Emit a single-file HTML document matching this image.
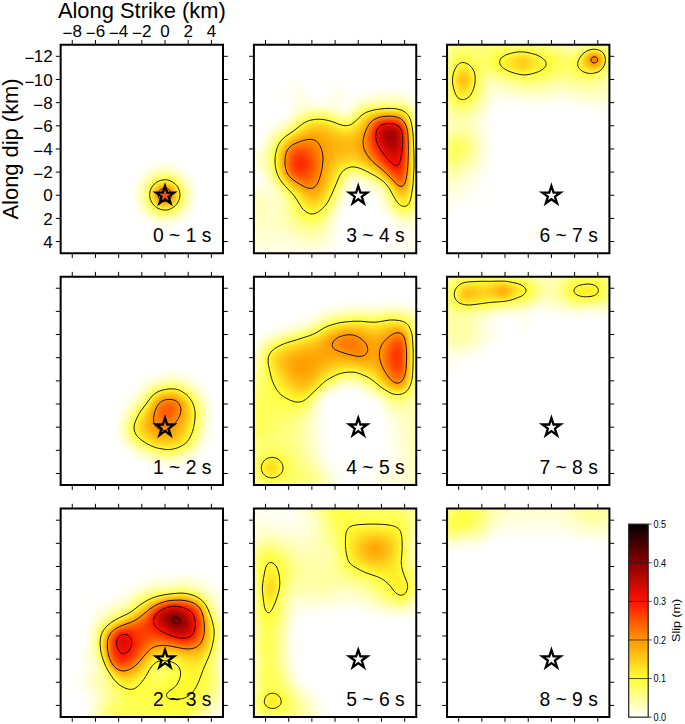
<!DOCTYPE html><html><head><meta charset="utf-8"><style>html,body{margin:0;padding:0;background:#fff;}svg{display:block;}text{font-family:"Liberation Sans",sans-serif;}</style></head><body>
<svg width="685" height="724" viewBox="0 0 685 724">
<rect width="685" height="724" fill="#fff"/>
<defs><filter id="hot" color-interpolation-filters="sRGB"><feGaussianBlur stdDeviation="3.40"/><feComponentTransfer><feFuncR type="table" tableValues="1 1 1 1 .5333 0"/><feFuncG type="table" tableValues="1 1 .6 .0667 0 0"/><feFuncB type="table" tableValues="1 .2 0 0 0 0"/></feComponentTransfer></filter>
<clipPath id="cp00"><rect x="61.65" y="45.74" width="160.35" height="206.40"/></clipPath>
<clipPath id="cp10"><rect x="61.65" y="277.66" width="160.35" height="206.40"/></clipPath>
<clipPath id="cp20"><rect x="61.65" y="509.60" width="160.35" height="206.40"/></clipPath>
<clipPath id="cp01"><rect x="254.90" y="45.74" width="160.35" height="206.40"/></clipPath>
<clipPath id="cp11"><rect x="254.90" y="277.66" width="160.35" height="206.40"/></clipPath>
<clipPath id="cp21"><rect x="254.90" y="509.60" width="160.35" height="206.40"/></clipPath>
<clipPath id="cp02"><rect x="448.05" y="45.74" width="160.35" height="206.40"/></clipPath>
<clipPath id="cp12"><rect x="448.05" y="277.66" width="160.35" height="206.40"/></clipPath>
<clipPath id="cp22"><rect x="448.05" y="509.60" width="160.35" height="206.40"/></clipPath>
</defs>
<g clip-path="url(#cp00)"><g filter="url(#hot)">
<rect x="49.05" y="33.16" width="185.54" height="231.56" fill="#000"/>
<g transform="translate(49.054 33.162) scale(5.79821 5.78889)" shape-rendering="crispEdges">
<path fill="#010101" d="M24 24h1v1h-1zM25 26h1v1h-1zM14 29h1v1h-1zM25 29h1v1h-1zM15 31h1v1h-1zM24 31h1v1h-1zM16 32h1v1h-1zM23 32h1v1h-1zM18 33h1v1h-1zM21 33h1v1h-1z"/>
<path fill="#020202" d="M18 22h1v1h-1zM20 22h2v1h-2zM16 23h1v1h-1zM23 23h1v1h-1zM15 24h1v1h-1zM14 26h1v1h-1zM14 27h1v1h-1zM25 27h1v1h-1zM14 28h1v1h-1zM25 28h1v1h-1zM19 33h2v1h-2z"/>
<path fill="#030303" d="M19 22h1v1h-1z"/>
<path fill="#040404" d="M24 30h1v1h-1zM17 32h1v1h-1zM22 32h1v1h-1z"/>
<path fill="#050505" d="M17 23h1v1h-1zM22 23h1v1h-1zM15 25h1v1h-1zM24 25h1v1h-1zM15 30h1v1h-1z"/>
<path fill="#060606" d="M16 31h1v1h-1zM23 31h1v1h-1z"/>
<path fill="#070707" d="M16 24h1v1h-1zM23 24h1v1h-1z"/>
<path fill="#080808" d="M24 26h1v1h-1zM24 29h1v1h-1zM18 32h1v1h-1zM21 32h1v1h-1z"/>
<path fill="#090909" d="M21 23h1v1h-1zM15 26h1v1h-1zM15 29h1v1h-1z"/>
<path fill="#0a0a0a" d="M18 23h1v1h-1z"/>
<path fill="#0b0b0b" d="M24 27h1v1h-1zM24 28h1v1h-1zM19 32h2v1h-2z"/>
<path fill="#0c0c0c" d="M19 23h2v1h-2zM15 27h1v1h-1zM15 28h1v1h-1z"/>
<path fill="#0e0e0e" d="M23 30h1v1h-1zM17 31h1v1h-1zM22 31h1v1h-1z"/>
<path fill="#0f0f0f" d="M22 24h1v1h-1zM23 25h1v1h-1zM16 30h1v1h-1z"/>
<path fill="#101010" d="M17 24h1v1h-1zM16 25h1v1h-1z"/>
<path fill="#161616" d="M23 29h1v1h-1zM21 31h1v1h-1z"/>
<path fill="#171717" d="M23 26h1v1h-1zM16 29h1v1h-1zM18 31h1v1h-1z"/>
<path fill="#181818" d="M21 24h1v1h-1zM16 26h1v1h-1z"/>
<path fill="#191919" d="M18 24h1v1h-1z"/>
<path fill="#1b1b1b" d="M22 30h1v1h-1zM20 31h1v1h-1z"/>
<path fill="#1c1c1c" d="M23 27h1v1h-1zM23 28h1v1h-1zM17 30h1v1h-1zM19 31h1v1h-1z"/>
<path fill="#1d1d1d" d="M22 25h1v1h-1zM16 27h1v1h-1zM16 28h1v1h-1z"/>
<path fill="#1e1e1e" d="M19 24h2v1h-2zM17 25h1v1h-1z"/>
<path fill="#282828" d="M21 30h1v1h-1z"/>
<path fill="#292929" d="M22 29h1v1h-1zM18 30h1v1h-1z"/>
<path fill="#2a2a2a" d="M22 26h1v1h-1zM17 29h1v1h-1z"/>
<path fill="#2b2b2b" d="M21 25h1v1h-1z"/>
<path fill="#2c2c2c" d="M18 25h1v1h-1zM17 26h1v1h-1z"/>
<path fill="#333333" d="M22 28h1v1h-1zM19 30h2v1h-2z"/>
<path fill="#343434" d="M22 27h1v1h-1z"/>
<path fill="#353535" d="M17 28h1v1h-1z"/>
<path fill="#363636" d="M20 25h1v1h-1zM17 27h1v1h-1z"/>
<path fill="#373737" d="M19 25h1v1h-1z"/>
<path fill="#3f3f3f" d="M21 29h1v1h-1z"/>
<path fill="#414141" d="M18 29h1v1h-1z"/>
<path fill="#424242" d="M21 26h1v1h-1z"/>
<path fill="#444444" d="M18 26h1v1h-1z"/>
<path fill="#565656" d="M20 29h1v1h-1z"/>
<path fill="#575757" d="M21 28h1v1h-1zM19 29h1v1h-1z"/>
<path fill="#595959" d="M21 27h1v1h-1z"/>
<path fill="#5a5a5a" d="M18 28h1v1h-1z"/>
<path fill="#5b5b5b" d="M20 26h1v1h-1z"/>
<path fill="#5c5c5c" d="M18 27h1v1h-1z"/>
<path fill="#5d5d5d" d="M19 26h1v1h-1z"/>
<path fill="#838383" d="M20 28h1v1h-1z"/>
<path fill="#868686" d="M19 28h1v1h-1z"/>
<path fill="#878787" d="M20 27h1v1h-1z"/>
<path fill="#8a8a8a" d="M19 27h1v1h-1z"/>
</g></g></g>
<g clip-path="url(#cp10)"><g filter="url(#hot)">
<rect x="49.05" y="265.08" width="185.54" height="231.56" fill="#000"/>
<g transform="translate(49.054 265.082) scale(5.79821 5.78889)" shape-rendering="crispEdges">
<path fill="#010101" d="M17 18h2v1h-2zM23 18h1v1h-1zM25 19h1v1h-1zM26 20h1v1h-1zM14 21h1v1h-1zM27 21h1v1h-1zM13 22h1v1h-1zM28 24h1v1h-1zM28 25h1v1h-1zM11 26h1v1h-1zM28 26h1v1h-1zM11 30h1v1h-1zM13 32h1v1h-1zM14 33h1v1h-1zM16 34h1v1h-1zM24 34h1v1h-1z"/>
<path fill="#020202" d="M19 18h1v1h-1zM16 19h1v1h-1zM15 20h1v1h-1zM12 24h1v1h-1zM11 27h1v1h-1zM11 28h1v1h-1zM11 29h1v1h-1zM27 30h1v1h-1zM12 31h1v1h-1zM26 32h1v1h-1zM25 33h1v1h-1zM17 34h1v1h-1zM23 34h1v1h-1z"/>
<path fill="#030303" d="M20 18h3v1h-3zM27 22h1v1h-1zM13 23h1v1h-1zM27 29h1v1h-1zM15 33h1v1h-1zM18 34h1v1h-1zM22 34h1v1h-1z"/>
<path fill="#040404" d="M24 19h1v1h-1zM14 22h1v1h-1zM12 25h1v1h-1zM19 34h1v1h-1z"/>
<path fill="#050505" d="M17 19h1v1h-1zM25 20h1v1h-1zM26 21h1v1h-1zM27 23h1v1h-1zM27 28h1v1h-1zM12 30h1v1h-1zM26 31h1v1h-1zM14 32h1v1h-1zM24 33h1v1h-1zM20 34h2v1h-2z"/>
<path fill="#060606" d="M15 21h1v1h-1zM27 27h1v1h-1zM13 31h1v1h-1zM25 32h1v1h-1zM16 33h1v1h-1z"/>
<path fill="#070707" d="M18 19h1v1h-1zM23 19h1v1h-1zM16 20h1v1h-1zM27 24h1v1h-1zM12 26h1v1h-1zM27 26h1v1h-1z"/>
<path fill="#080808" d="M13 24h1v1h-1zM27 25h1v1h-1z"/>
<path fill="#090909" d="M12 29h1v1h-1zM26 30h1v1h-1zM23 33h1v1h-1z"/>
<path fill="#0a0a0a" d="M19 19h1v1h-1zM26 22h1v1h-1zM14 23h1v1h-1zM15 32h1v1h-1zM17 33h1v1h-1z"/>
<path fill="#0b0b0b" d="M22 19h1v1h-1zM24 20h1v1h-1zM12 27h1v1h-1zM12 28h1v1h-1z"/>
<path fill="#0c0c0c" d="M20 19h1v1h-1zM25 21h1v1h-1zM15 22h1v1h-1z"/>
<path fill="#0d0d0d" d="M21 19h1v1h-1zM17 20h1v1h-1zM26 29h1v1h-1zM18 33h1v1h-1zM22 33h1v1h-1z"/>
<path fill="#0e0e0e" d="M16 21h1v1h-1zM13 25h1v1h-1zM13 30h1v1h-1zM14 31h1v1h-1zM25 31h1v1h-1zM24 32h1v1h-1z"/>
<path fill="#101010" d="M26 23h1v1h-1zM19 33h1v1h-1z"/>
<path fill="#111111" d="M16 32h1v1h-1zM21 33h1v1h-1z"/>
<path fill="#121212" d="M26 28h1v1h-1zM20 33h1v1h-1z"/>
<path fill="#131313" d="M18 20h1v1h-1zM23 20h1v1h-1zM14 24h1v1h-1z"/>
<path fill="#141414" d="M26 24h1v1h-1zM13 26h1v1h-1zM26 27h1v1h-1z"/>
<path fill="#151515" d="M15 23h1v1h-1z"/>
<path fill="#161616" d="M25 22h1v1h-1zM26 26h1v1h-1zM23 32h1v1h-1z"/>
<path fill="#171717" d="M24 21h1v1h-1zM26 25h1v1h-1zM13 29h1v1h-1zM25 30h1v1h-1z"/>
<path fill="#181818" d="M19 20h1v1h-1zM16 22h1v1h-1zM15 31h1v1h-1z"/>
<path fill="#191919" d="M17 32h1v1h-1z"/>
<path fill="#1a1a1a" d="M22 20h1v1h-1zM17 21h1v1h-1z"/>
<path fill="#1b1b1b" d="M13 27h1v1h-1zM14 30h1v1h-1zM24 31h1v1h-1z"/>
<path fill="#1d1d1d" d="M20 20h1v1h-1zM13 28h1v1h-1z"/>
<path fill="#1e1e1e" d="M21 20h1v1h-1zM14 25h1v1h-1zM25 29h1v1h-1zM22 32h1v1h-1z"/>
<path fill="#1f1f1f" d="M18 32h1v1h-1z"/>
<path fill="#212121" d="M25 23h1v1h-1z"/>
<path fill="#232323" d="M23 21h1v1h-1zM15 24h1v1h-1zM16 31h1v1h-1zM19 32h1v1h-1z"/>
<path fill="#242424" d="M16 23h1v1h-1zM21 32h1v1h-1z"/>
<path fill="#252525" d="M25 28h1v1h-1z"/>
<path fill="#262626" d="M18 21h1v1h-1zM24 22h1v1h-1z"/>
<path fill="#272727" d="M14 26h1v1h-1zM20 32h1v1h-1z"/>
<path fill="#282828" d="M25 24h1v1h-1z"/>
<path fill="#292929" d="M25 27h1v1h-1zM15 30h1v1h-1zM24 30h1v1h-1zM23 31h1v1h-1z"/>
<path fill="#2a2a2a" d="M17 22h1v1h-1zM14 29h1v1h-1z"/>
<path fill="#2c2c2c" d="M25 26h1v1h-1z"/>
<path fill="#2d2d2d" d="M25 25h1v1h-1zM17 31h1v1h-1z"/>
<path fill="#2f2f2f" d="M19 21h1v1h-1z"/>
<path fill="#303030" d="M22 21h1v1h-1zM14 27h1v1h-1z"/>
<path fill="#323232" d="M15 25h1v1h-1zM14 28h1v1h-1z"/>
<path fill="#333333" d="M24 29h1v1h-1zM22 31h1v1h-1z"/>
<path fill="#353535" d="M20 21h1v1h-1zM16 24h1v1h-1zM18 31h1v1h-1z"/>
<path fill="#363636" d="M21 21h1v1h-1zM24 23h1v1h-1zM16 30h1v1h-1z"/>
<path fill="#393939" d="M23 22h1v1h-1zM19 31h1v1h-1z"/>
<path fill="#3a3a3a" d="M15 29h1v1h-1zM23 30h1v1h-1zM21 31h1v1h-1z"/>
<path fill="#3b3b3b" d="M17 23h1v1h-1zM15 26h1v1h-1zM24 28h1v1h-1z"/>
<path fill="#3d3d3d" d="M20 31h1v1h-1z"/>
<path fill="#3f3f3f" d="M18 22h1v1h-1zM24 27h1v1h-1z"/>
<path fill="#404040" d="M24 24h1v1h-1z"/>
<path fill="#414141" d="M17 30h1v1h-1z"/>
<path fill="#424242" d="M24 26h1v1h-1z"/>
<path fill="#434343" d="M15 27h1v1h-1z"/>
<path fill="#444444" d="M24 25h1v1h-1zM15 28h1v1h-1zM23 29h1v1h-1zM22 30h1v1h-1z"/>
<path fill="#454545" d="M16 25h1v1h-1z"/>
<path fill="#464646" d="M16 29h1v1h-1z"/>
<path fill="#494949" d="M18 30h1v1h-1z"/>
<path fill="#4b4b4b" d="M22 22h1v1h-1zM23 28h1v1h-1zM21 30h1v1h-1z"/>
<path fill="#4c4c4c" d="M17 24h1v1h-1z"/>
<path fill="#4d4d4d" d="M23 23h1v1h-1zM19 30h1v1h-1z"/>
<path fill="#4e4e4e" d="M16 26h1v1h-1zM20 30h1v1h-1z"/>
<path fill="#4f4f4f" d="M19 22h1v1h-1z"/>
<path fill="#505050" d="M23 27h1v1h-1zM16 28h1v1h-1zM17 29h1v1h-1zM22 29h1v1h-1z"/>
<path fill="#525252" d="M16 27h1v1h-1z"/>
<path fill="#545454" d="M20 22h2v1h-2z"/>
<path fill="#555555" d="M23 26h1v1h-1z"/>
<path fill="#575757" d="M22 28h1v1h-1z"/>
<path fill="#585858" d="M18 23h1v1h-1zM23 24h1v1h-1zM18 29h1v1h-1zM21 29h1v1h-1z"/>
<path fill="#595959" d="M17 25h1v1h-1zM23 25h1v1h-1z"/>
<path fill="#5b5b5b" d="M17 28h1v1h-1z"/>
<path fill="#5c5c5c" d="M19 29h2v1h-2z"/>
<path fill="#5d5d5d" d="M22 27h1v1h-1z"/>
<path fill="#5f5f5f" d="M17 26h1v1h-1z"/>
<path fill="#606060" d="M17 27h1v1h-1z"/>
<path fill="#616161" d="M21 28h1v1h-1z"/>
<path fill="#636363" d="M18 28h1v1h-1z"/>
<path fill="#646464" d="M22 23h1v1h-1zM22 26h1v1h-1z"/>
<path fill="#676767" d="M18 24h1v1h-1zM21 27h1v1h-1zM20 28h1v1h-1z"/>
<path fill="#686868" d="M19 28h1v1h-1z"/>
<path fill="#6b6b6b" d="M22 25h1v1h-1zM18 27h1v1h-1z"/>
<path fill="#6c6c6c" d="M19 23h1v1h-1z"/>
<path fill="#6d6d6d" d="M22 24h1v1h-1z"/>
<path fill="#6e6e6e" d="M18 25h1v1h-1z"/>
<path fill="#6f6f6f" d="M21 23h1v1h-1zM18 26h1v1h-1z"/>
<path fill="#707070" d="M21 26h1v1h-1zM20 27h1v1h-1z"/>
<path fill="#717171" d="M20 23h1v1h-1zM19 27h1v1h-1z"/>
<path fill="#787878" d="M19 26h2v1h-2z"/>
<path fill="#797979" d="M21 25h1v1h-1z"/>
<path fill="#7b7b7b" d="M19 24h1v1h-1zM21 24h1v1h-1z"/>
<path fill="#7d7d7d" d="M19 25h1v1h-1z"/>
<path fill="#808080" d="M20 24h1v1h-1zM20 25h1v1h-1z"/>
</g></g></g>
<g clip-path="url(#cp20)"><g filter="url(#hot)">
<rect x="49.05" y="497.02" width="185.54" height="231.56" fill="#000"/>
<g transform="translate(49.054 497.022) scale(5.79821 5.78889)" shape-rendering="crispEdges">
<path fill="#010101" d="M18 13h3v1h-3zM25 13h2v1h-2zM15 14h1v1h-1zM28 14h1v1h-1zM13 15h1v1h-1zM30 15h1v1h-1zM12 16h1v1h-1zM10 17h1v1h-1zM7 18h1v1h-1zM6 21h1v1h-1zM5 26h1v1h-1zM4 31h1v1h-1zM3 32h2v1h-2zM3 33h2v1h-2zM6 35h1v1h-1zM31 36h1v1h-1zM5 37h1v1h-1zM30 38h1v1h-1zM4 39h1v1h-1z"/>
<path fill="#020202" d="M21 13h1v1h-1zM24 13h1v1h-1zM16 14h1v1h-1zM29 15h1v1h-1zM30 16h1v1h-1zM8 18h1v1h-1zM7 19h1v1h-1zM6 22h1v1h-1zM5 27h1v1h-1zM5 28h1v1h-1zM5 29h1v1h-1zM5 30h1v1h-1zM31 30h1v1h-1zM5 33h1v1h-1zM6 34h1v1h-1zM6 36h1v1h-1zM30 37h1v1h-1zM5 38h1v1h-1zM29 39h1v1h-1z"/>
<path fill="#030303" d="M22 13h2v1h-2zM27 14h1v1h-1zM14 15h1v1h-1zM28 15h1v1h-1zM11 17h1v1h-1zM30 17h1v1h-1zM9 18h1v1h-1zM6 23h1v1h-1zM6 24h1v1h-1zM5 31h1v1h-1zM31 35h1v1h-1zM29 38h1v1h-1z"/>
<path fill="#040404" d="M13 16h1v1h-1zM29 16h1v1h-1zM30 18h1v1h-1zM7 20h1v1h-1zM6 25h1v1h-1zM5 32h1v1h-1zM30 36h1v1h-1zM6 37h1v1h-1zM5 39h1v1h-1z"/>
<path fill="#050505" d="M17 14h1v1h-1zM26 14h1v1h-1zM12 17h1v1h-1zM8 19h1v1h-1zM30 19h1v1h-1zM31 31h1v1h-1zM6 33h1v1h-1zM31 34h1v1h-1zM29 37h1v1h-1zM28 39h1v1h-1z"/>
<path fill="#060606" d="M15 15h1v1h-1zM29 17h1v1h-1zM10 18h1v1h-1zM7 21h1v1h-1zM30 25h1v1h-1zM6 26h1v1h-1zM30 26h1v1h-1zM30 27h1v1h-1zM30 28h1v1h-1zM6 29h1v1h-1zM31 32h1v1h-1zM31 33h1v1h-1zM7 35h1v1h-1zM6 38h1v1h-1z"/>
<path fill="#070707" d="M18 14h3v1h-3zM25 14h1v1h-1zM27 15h1v1h-1zM28 16h1v1h-1zM30 20h1v1h-1zM6 27h1v1h-1zM6 28h1v1h-1zM30 29h1v1h-1zM6 30h1v1h-1zM7 34h1v1h-1zM28 38h1v1h-1z"/>
<path fill="#080808" d="M24 14h1v1h-1zM29 18h1v1h-1zM9 19h1v1h-1zM30 24h1v1h-1zM6 32h1v1h-1zM30 35h1v1h-1zM7 36h1v1h-1zM29 36h1v1h-1zM6 39h1v1h-1z"/>
<path fill="#090909" d="M21 14h1v1h-1zM16 15h1v1h-1zM13 17h1v1h-1zM8 20h1v1h-1zM30 21h1v1h-1zM7 22h1v1h-1zM7 29h1v1h-1zM6 31h1v1h-1zM28 37h1v1h-1z"/>
<path fill="#0a0a0a" d="M23 14h1v1h-1zM14 16h1v1h-1zM11 18h1v1h-1zM30 22h1v1h-1zM30 23h1v1h-1zM7 28h1v1h-1zM30 30h1v1h-1zM7 33h1v1h-1zM7 37h1v1h-1z"/>
<path fill="#0b0b0b" d="M26 15h1v1h-1zM27 16h1v1h-1zM28 17h1v1h-1zM7 30h1v1h-1zM30 34h1v1h-1zM27 39h1v1h-1z"/>
<path fill="#0c0c0c" d="M22 14h1v1h-1zM10 19h1v1h-1zM29 19h1v1h-1z"/>
<path fill="#0d0d0d" d="M12 18h1v1h-1zM7 23h1v1h-1zM7 24h1v1h-1zM7 27h1v1h-1zM30 31h1v1h-1zM30 33h1v1h-1zM8 34h1v1h-1zM29 35h1v1h-1zM7 38h1v1h-1zM27 38h1v1h-1z"/>
<path fill="#0e0e0e" d="M17 15h1v1h-1zM8 21h1v1h-1zM7 25h1v1h-1zM7 26h1v1h-1zM8 29h1v1h-1zM30 32h1v1h-1zM8 35h1v1h-1zM28 36h1v1h-1zM7 39h1v1h-1z"/>
<path fill="#0f0f0f" d="M25 15h1v1h-1zM15 16h1v1h-1zM28 18h1v1h-1zM9 20h1v1h-1zM29 28h1v1h-1zM8 30h1v1h-1zM7 32h1v1h-1zM8 33h1v1h-1z"/>
<path fill="#101010" d="M29 20h1v1h-1zM29 27h1v1h-1zM29 29h1v1h-1zM7 31h1v1h-1z"/>
<path fill="#111111" d="M18 15h3v1h-3zM8 36h1v1h-1zM27 37h1v1h-1z"/>
<path fill="#121212" d="M24 15h1v1h-1zM26 16h1v1h-1zM14 17h1v1h-1zM27 17h1v1h-1zM13 18h1v1h-1zM29 26h1v1h-1zM8 28h1v1h-1zM29 34h1v1h-1zM26 39h1v1h-1z"/>
<path fill="#131313" d="M21 15h1v1h-1zM11 19h1v1h-1zM29 25h1v1h-1zM29 30h1v1h-1zM8 32h1v1h-1zM9 34h1v1h-1zM8 37h1v1h-1z"/>
<path fill="#141414" d="M16 16h1v1h-1zM8 31h1v1h-1zM9 33h1v1h-1zM28 35h1v1h-1z"/>
<path fill="#151515" d="M29 21h1v1h-1zM29 24h1v1h-1zM29 33h1v1h-1zM8 38h1v1h-1zM26 38h1v1h-1z"/>
<path fill="#161616" d="M23 15h1v1h-1zM28 19h1v1h-1zM29 31h1v1h-1zM9 32h1v1h-1zM29 32h1v1h-1zM27 36h1v1h-1zM8 39h1v1h-1z"/>
<path fill="#171717" d="M22 15h1v1h-1zM10 20h1v1h-1zM8 22h1v1h-1zM9 31h1v1h-1zM9 35h1v1h-1z"/>
<path fill="#181818" d="M12 19h1v1h-1zM9 30h1v1h-1z"/>
<path fill="#191919" d="M9 21h1v1h-1zM29 22h1v1h-1zM28 34h1v1h-1zM26 37h1v1h-1zM25 39h1v1h-1z"/>
<path fill="#1a1a1a" d="M29 23h1v1h-1z"/>
<path fill="#1b1b1b" d="M17 16h1v1h-1zM25 16h1v1h-1zM8 27h1v1h-1zM10 33h1v1h-1zM10 34h1v1h-1z"/>
<path fill="#1c1c1c" d="M15 17h1v1h-1zM27 35h1v1h-1zM9 36h1v1h-1z"/>
<path fill="#1d1d1d" d="M28 28h1v1h-1zM28 29h1v1h-1zM28 33h1v1h-1zM9 37h1v1h-1zM25 38h1v1h-1z"/>
<path fill="#1e1e1e" d="M14 18h1v1h-1zM27 18h1v1h-1zM28 20h1v1h-1zM28 30h1v1h-1zM26 36h1v1h-1zM9 38h1v1h-1zM9 39h1v1h-1z"/>
<path fill="#1f1f1f" d="M18 16h1v1h-1zM13 19h1v1h-1zM10 32h1v1h-1zM28 32h1v1h-1z"/>
<path fill="#202020" d="M9 29h1v1h-1zM28 31h1v1h-1zM10 35h1v1h-1zM24 39h1v1h-1z"/>
<path fill="#212121" d="M11 20h1v1h-1zM8 23h1v1h-1zM8 26h1v1h-1zM28 27h1v1h-1zM11 34h1v1h-1zM27 34h1v1h-1z"/>
<path fill="#222222" d="M19 16h1v1h-1zM26 17h1v1h-1zM25 37h1v1h-1z"/>
<path fill="#242424" d="M20 16h1v1h-1zM24 16h1v1h-1zM16 17h1v1h-1zM10 31h1v1h-1zM11 33h1v1h-1zM11 35h1v1h-1zM26 35h1v1h-1zM24 38h1v1h-1z"/>
<path fill="#252525" d="M8 24h1v1h-1zM27 33h1v1h-1zM10 36h1v1h-1zM10 37h1v1h-1zM10 38h1v1h-1zM10 39h1v1h-1zM23 39h1v1h-1z"/>
<path fill="#262626" d="M8 25h1v1h-1zM28 26h1v1h-1zM18 30h2v1h-2zM12 34h1v1h-1zM12 35h1v1h-1zM25 36h1v1h-1z"/>
<path fill="#272727" d="M21 16h1v1h-1zM18 29h2v1h-2z"/>
<path fill="#282828" d="M10 21h1v1h-1zM28 21h1v1h-1zM27 32h1v1h-1zM26 34h1v1h-1zM11 36h1v1h-1zM22 39h1v1h-1z"/>
<path fill="#292929" d="M20 29h1v1h-1zM20 30h1v1h-1zM18 31h2v1h-2zM27 31h1v1h-1zM13 35h1v1h-1zM12 36h1v1h-1zM11 37h1v1h-1zM24 37h1v1h-1zM23 38h1v1h-1z"/>
<path fill="#2a2a2a" d="M9 22h1v1h-1zM27 30h1v1h-1zM11 38h1v1h-1zM11 39h1v1h-1zM19 39h3v1h-3z"/>
<path fill="#2b2b2b" d="M23 16h1v1h-1zM28 25h1v1h-1zM27 29h1v1h-1zM17 30h1v1h-1zM17 31h1v1h-1zM12 33h1v1h-1zM13 34h1v1h-1zM25 35h1v1h-1zM13 36h1v1h-1zM12 37h1v1h-1zM17 38h3v1h-3zM22 38h1v1h-1zM17 39h2v1h-2z"/>
<path fill="#2c2c2c" d="M22 16h1v1h-1zM15 18h1v1h-1zM12 20h1v1h-1zM20 31h1v1h-1zM11 32h1v1h-1zM26 33h1v1h-1zM14 35h2v1h-2zM14 36h4v1h-4zM13 37h6v1h-6zM12 38h1v1h-1zM16 38h1v1h-1zM20 38h2v1h-2zM12 39h1v1h-1zM16 39h1v1h-1z"/>
<path fill="#2d2d2d" d="M21 29h1v1h-1zM21 30h1v1h-1zM17 32h2v1h-2zM14 34h1v1h-1zM16 34h1v1h-1zM16 35h2v1h-2zM18 36h1v1h-1zM24 36h1v1h-1zM19 37h1v1h-1zM23 37h1v1h-1zM13 38h3v1h-3zM13 39h3v1h-3z"/>
<path fill="#2e2e2e" d="M27 19h1v1h-1zM19 28h1v1h-1zM27 28h1v1h-1zM16 32h1v1h-1zM19 32h1v1h-1zM16 33h2v1h-2zM15 34h1v1h-1zM17 34h1v1h-1zM18 35h1v1h-1zM19 36h1v1h-1zM20 37h3v1h-3z"/>
<path fill="#2f2f2f" d="M17 17h1v1h-1zM14 19h1v1h-1zM9 28h1v1h-1zM18 28h1v1h-1zM26 32h1v1h-1zM15 33h1v1h-1zM18 33h1v1h-1zM25 34h1v1h-1z"/>
<path fill="#303030" d="M28 22h1v1h-1zM28 24h1v1h-1zM20 28h1v1h-1zM17 29h1v1h-1zM10 30h1v1h-1zM16 31h1v1h-1zM21 31h1v1h-1zM20 32h1v1h-1zM13 33h1v1h-1zM18 34h1v1h-1zM19 35h1v1h-1zM24 35h1v1h-1zM20 36h2v1h-2zM23 36h1v1h-1z"/>
<path fill="#313131" d="M26 31h1v1h-1zM22 36h1v1h-1z"/>
<path fill="#323232" d="M21 28h1v1h-1zM22 29h1v1h-1zM22 30h1v1h-1zM15 32h1v1h-1zM21 32h1v1h-1zM14 33h1v1h-1zM19 33h1v1h-1zM25 33h1v1h-1zM19 34h1v1h-1zM24 34h1v1h-1zM20 35h4v1h-4z"/>
<path fill="#333333" d="M28 23h1v1h-1zM26 30h1v1h-1zM22 31h1v1h-1zM20 33h1v1h-1z"/>
<path fill="#343434" d="M22 32h1v1h-1zM25 32h1v1h-1zM21 33h1v1h-1zM20 34h4v1h-4z"/>
<path fill="#353535" d="M27 27h1v1h-1zM26 29h1v1h-1zM25 31h1v1h-1zM22 33h3v1h-3z"/>
<path fill="#363636" d="M23 30h1v1h-1zM23 31h1v1h-1zM12 32h1v1h-1zM23 32h2v1h-2z"/>
<path fill="#373737" d="M22 28h1v1h-1zM16 30h1v1h-1zM25 30h1v1h-1zM24 31h1v1h-1zM14 32h1v1h-1z"/>
<path fill="#383838" d="M13 20h1v1h-1zM23 29h1v1h-1zM24 30h1v1h-1zM11 31h1v1h-1z"/>
<path fill="#393939" d="M18 17h1v1h-1zM25 17h1v1h-1zM15 31h1v1h-1zM13 32h1v1h-1z"/>
<path fill="#3a3a3a" d="M11 21h1v1h-1z"/>
<path fill="#3b3b3b" d="M16 18h1v1h-1zM26 28h1v1h-1zM24 29h2v1h-2z"/>
<path fill="#3c3c3c" d="M27 20h1v1h-1z"/>
<path fill="#3d3d3d" d="M27 26h1v1h-1zM19 27h2v1h-2zM17 28h1v1h-1z"/>
<path fill="#3e3e3e" d="M23 28h1v1h-1z"/>
<path fill="#3f3f3f" d="M9 23h1v1h-1zM21 27h1v1h-1z"/>
<path fill="#404040" d="M9 27h1v1h-1z"/>
<path fill="#414141" d="M26 18h1v1h-1zM18 27h1v1h-1zM25 28h1v1h-1z"/>
<path fill="#424242" d="M24 28h1v1h-1zM16 29h1v1h-1zM14 31h1v1h-1z"/>
<path fill="#434343" d="M15 19h1v1h-1z"/>
<path fill="#444444" d="M19 17h1v1h-1zM10 22h1v1h-1zM22 27h1v1h-1zM26 27h1v1h-1z"/>
<path fill="#454545" d="M15 30h1v1h-1zM12 31h1v1h-1z"/>
<path fill="#464646" d="M27 25h1v1h-1z"/>
<path fill="#474747" d="M27 21h1v1h-1zM13 31h1v1h-1z"/>
<path fill="#494949" d="M10 29h1v1h-1z"/>
<path fill="#4a4a4a" d="M14 20h1v1h-1z"/>
<path fill="#4b4b4b" d="M24 17h1v1h-1zM12 21h1v1h-1zM9 26h1v1h-1zM23 27h1v1h-1z"/>
<path fill="#4c4c4c" d="M9 24h1v1h-1zM25 27h1v1h-1z"/>
<path fill="#4d4d4d" d="M17 18h1v1h-1zM27 24h1v1h-1zM24 27h1v1h-1z"/>
<path fill="#4e4e4e" d="M27 22h1v1h-1zM11 30h1v1h-1z"/>
<path fill="#4f4f4f" d="M20 17h1v1h-1zM9 25h1v1h-1z"/>
<path fill="#505050" d="M27 23h1v1h-1zM26 26h1v1h-1zM17 27h1v1h-1z"/>
<path fill="#515151" d="M20 26h1v1h-1z"/>
<path fill="#525252" d="M19 26h1v1h-1zM16 28h1v1h-1zM14 30h1v1h-1z"/>
<path fill="#535353" d="M21 26h1v1h-1z"/>
<path fill="#545454" d="M21 17h1v1h-1z"/>
<path fill="#555555" d="M23 17h1v1h-1zM15 29h1v1h-1z"/>
<path fill="#565656" d="M16 19h1v1h-1zM18 26h1v1h-1z"/>
<path fill="#585858" d="M22 17h1v1h-1z"/>
<path fill="#595959" d="M22 26h1v1h-1z"/>
<path fill="#5a5a5a" d="M13 21h1v1h-1zM13 30h1v1h-1z"/>
<path fill="#5b5b5b" d="M25 26h1v1h-1z"/>
<path fill="#5c5c5c" d="M12 30h1v1h-1z"/>
<path fill="#5d5d5d" d="M26 19h1v1h-1zM26 25h1v1h-1z"/>
<path fill="#5e5e5e" d="M15 20h1v1h-1zM11 22h1v1h-1z"/>
<path fill="#5f5f5f" d="M23 26h2v1h-2z"/>
<path fill="#606060" d="M18 18h1v1h-1z"/>
<path fill="#626262" d="M17 26h1v1h-1z"/>
<path fill="#646464" d="M16 27h1v1h-1zM10 28h1v1h-1z"/>
<path fill="#656565" d="M10 23h1v1h-1z"/>
<path fill="#666666" d="M25 18h1v1h-1zM14 29h1v1h-1z"/>
<path fill="#676767" d="M15 28h1v1h-1z"/>
<path fill="#686868" d="M14 21h1v1h-1zM26 24h1v1h-1z"/>
<path fill="#696969" d="M19 25h1v1h-1z"/>
<path fill="#6a6a6a" d="M18 25h1v1h-1zM20 25h1v1h-1z"/>
<path fill="#6b6b6b" d="M26 20h1v1h-1z"/>
<path fill="#6d6d6d" d="M11 29h1v1h-1z"/>
<path fill="#6e6e6e" d="M25 25h1v1h-1z"/>
<path fill="#6f6f6f" d="M17 19h1v1h-1zM26 23h1v1h-1zM21 25h1v1h-1z"/>
<path fill="#717171" d="M16 20h1v1h-1zM26 21h1v1h-1zM17 25h1v1h-1z"/>
<path fill="#727272" d="M12 22h1v1h-1zM26 22h1v1h-1zM16 26h1v1h-1zM13 29h1v1h-1z"/>
<path fill="#747474" d="M19 18h1v1h-1z"/>
<path fill="#767676" d="M15 21h1v1h-1zM22 25h1v1h-1zM10 27h1v1h-1z"/>
<path fill="#777777" d="M12 29h1v1h-1z"/>
<path fill="#787878" d="M10 24h1v1h-1zM24 25h1v1h-1zM15 27h1v1h-1z"/>
<path fill="#797979" d="M14 28h1v1h-1z"/>
<path fill="#7a7a7a" d="M24 18h1v1h-1zM23 25h1v1h-1z"/>
<path fill="#7b7b7b" d="M10 26h1v1h-1z"/>
<path fill="#7c7c7c" d="M13 22h1v1h-1zM18 24h1v1h-1zM10 25h1v1h-1zM16 25h1v1h-1z"/>
<path fill="#7e7e7e" d="M17 24h1v1h-1z"/>
<path fill="#7f7f7f" d="M19 24h1v1h-1z"/>
<path fill="#808080" d="M14 22h1v1h-1z"/>
<path fill="#818181" d="M25 24h1v1h-1z"/>
<path fill="#828282" d="M16 21h1v1h-1zM15 26h1v1h-1z"/>
<path fill="#838383" d="M23 18h1v1h-1zM16 24h1v1h-1z"/>
<path fill="#848484" d="M25 19h1v1h-1zM15 22h1v1h-1z"/>
<path fill="#858585" d="M20 24h1v1h-1z"/>
<path fill="#868686" d="M11 23h1v1h-1zM11 28h1v1h-1z"/>
<path fill="#878787" d="M20 18h1v1h-1zM13 28h1v1h-1z"/>
<path fill="#888888" d="M16 23h2v1h-2zM15 25h1v1h-1z"/>
<path fill="#898989" d="M22 18h1v1h-1zM17 20h1v1h-1zM16 22h1v1h-1zM14 27h1v1h-1z"/>
<path fill="#8a8a8a" d="M18 19h1v1h-1zM15 23h1v1h-1z"/>
<path fill="#8b8b8b" d="M15 24h1v1h-1z"/>
<path fill="#8c8c8c" d="M21 18h1v1h-1zM18 23h1v1h-1z"/>
<path fill="#8d8d8d" d="M12 28h1v1h-1z"/>
<path fill="#8e8e8e" d="M25 23h1v1h-1z"/>
<path fill="#8f8f8f" d="M17 22h1v1h-1zM14 23h1v1h-1zM21 24h1v1h-1z"/>
<path fill="#909090" d="M25 20h1v1h-1z"/>
<path fill="#919191" d="M11 27h1v1h-1z"/>
<path fill="#929292" d="M17 21h1v1h-1zM24 24h1v1h-1zM14 26h1v1h-1z"/>
<path fill="#939393" d="M25 22h1v1h-1z"/>
<path fill="#949494" d="M25 21h1v1h-1zM19 23h1v1h-1zM11 26h1v1h-1z"/>
<path fill="#959595" d="M14 24h1v1h-1zM14 25h1v1h-1zM13 27h1v1h-1z"/>
<path fill="#969696" d="M24 19h1v1h-1z"/>
<path fill="#979797" d="M22 24h1v1h-1z"/>
<path fill="#989898" d="M13 23h1v1h-1zM12 27h1v1h-1z"/>
<path fill="#999999" d="M18 22h1v1h-1zM12 23h1v1h-1zM23 24h1v1h-1zM11 25h1v1h-1z"/>
<path fill="#9a9a9a" d="M11 24h1v1h-1z"/>
<path fill="#9f9f9f" d="M20 23h1v1h-1zM12 26h2v1h-2z"/>
<path fill="#a0a0a0" d="M19 19h1v1h-1z"/>
<path fill="#a3a3a3" d="M23 19h1v1h-1z"/>
<path fill="#a4a4a4" d="M18 20h1v1h-1zM18 21h1v1h-1z"/>
<path fill="#a5a5a5" d="M24 23h1v1h-1z"/>
<path fill="#a6a6a6" d="M24 20h1v1h-1zM13 24h1v1h-1z"/>
<path fill="#a7a7a7" d="M13 25h1v1h-1z"/>
<path fill="#a8a8a8" d="M19 22h1v1h-1z"/>
<path fill="#aaaaaa" d="M12 25h1v1h-1z"/>
<path fill="#acacac" d="M21 23h1v1h-1z"/>
<path fill="#adadad" d="M24 22h1v1h-1zM12 24h1v1h-1z"/>
<path fill="#aeaeae" d="M24 21h1v1h-1z"/>
<path fill="#b1b1b1" d="M22 19h1v1h-1zM23 23h1v1h-1z"/>
<path fill="#b3b3b3" d="M20 19h1v1h-1zM22 23h1v1h-1z"/>
<path fill="#b7b7b7" d="M19 21h1v1h-1zM20 22h1v1h-1z"/>
<path fill="#b8b8b8" d="M21 19h1v1h-1zM19 20h1v1h-1z"/>
<path fill="#bababa" d="M23 20h1v1h-1z"/>
<path fill="#bfbfbf" d="M23 22h1v1h-1z"/>
<path fill="#c4c4c4" d="M23 21h1v1h-1zM21 22h1v1h-1z"/>
<path fill="#c8c8c8" d="M20 20h1v1h-1zM20 21h1v1h-1zM22 22h1v1h-1z"/>
<path fill="#cccccc" d="M22 20h1v1h-1z"/>
<path fill="#d0d0d0" d="M21 20h1v1h-1z"/>
<path fill="#d4d4d4" d="M21 21h2v1h-2z"/>
</g></g></g>
<g clip-path="url(#cp01)"><g filter="url(#hot)">
<rect x="242.30" y="33.16" width="185.54" height="231.56" fill="#000"/>
<g transform="translate(242.304 33.162) scale(5.79821 5.78889)" shape-rendering="crispEdges">
<path fill="#010101" d="M7 8h4v1h-4zM15 8h3v1h-3zM6 9h2v1h-2zM11 9h1v1h-1zM14 9h1v1h-1zM18 9h1v1h-1zM24 9h4v1h-4zM6 10h1v1h-1zM14 10h1v1h-1zM18 10h2v1h-2zM30 10h1v1h-1zM7 11h1v1h-1zM12 11h2v1h-2zM18 11h1v1h-1zM17 12h1v1h-1zM6 14h1v1h-1zM3 17h1v1h-1zM0 19h2v1h-2zM1 24h1v1h-1zM2 25h1v1h-1zM19 27h2v1h-2zM18 28h1v1h-1zM22 28h1v1h-1zM20 29h1v1h-1zM17 30h1v1h-1zM31 33h1v1h-1zM26 34h1v1h-1zM26 35h1v1h-1zM16 36h1v1h-1zM25 36h1v1h-1zM16 37h1v1h-1zM24 37h2v1h-2zM15 38h1v1h-1zM24 38h1v1h-1zM7 39h8v1h-8zM23 39h2v1h-2z"/>
<path fill="#020202" d="M15 9h1v1h-1zM7 10h1v1h-1zM11 10h1v1h-1zM20 10h1v1h-1zM29 10h1v1h-1zM14 11h1v1h-1zM8 12h1v1h-1zM18 12h1v1h-1zM5 15h1v1h-1zM0 23h1v1h-1zM2 24h1v1h-1zM20 26h1v1h-1zM21 27h1v1h-1zM19 28h2v1h-2zM31 28h1v1h-1zM23 29h1v1h-1zM24 31h1v1h-1zM25 32h1v1h-1zM31 32h1v1h-1zM26 33h1v1h-1zM16 34h1v1h-1zM31 34h1v1h-1zM16 35h1v1h-1zM26 36h1v1h-1zM26 37h1v1h-1zM14 38h1v1h-1zM25 38h1v1h-1zM6 39h1v1h-1zM25 39h1v1h-1z"/>
<path fill="#030303" d="M8 9h1v1h-1zM10 9h1v1h-1zM17 9h1v1h-1zM15 10h1v1h-1zM21 10h1v1h-1zM28 10h1v1h-1zM19 11h1v1h-1zM30 11h1v1h-1zM4 16h1v1h-1zM2 19h1v1h-1zM0 20h1v1h-1zM0 26h1v1h-1zM18 27h1v1h-1zM17 29h1v1h-1zM31 31h1v1h-1zM16 32h1v1h-1zM16 33h1v1h-1zM27 34h1v1h-1zM27 35h1v1h-1zM31 35h1v1h-1zM27 36h1v1h-1zM31 36h1v1h-1zM15 37h1v1h-1zM27 37h1v1h-1zM8 38h2v1h-2zM13 38h1v1h-1zM26 38h1v1h-1zM4 39h2v1h-2zM26 39h1v1h-1z"/>
<path fill="#040404" d="M9 9h1v1h-1zM16 9h1v1h-1zM8 10h1v1h-1zM22 10h1v1h-1zM8 11h1v1h-1zM11 11h1v1h-1zM15 11h1v1h-1zM17 11h1v1h-1zM16 12h1v1h-1zM8 13h1v1h-1zM17 13h1v1h-1zM7 14h1v1h-1zM3 18h1v1h-1zM1 23h1v1h-1zM3 25h1v1h-1zM1 26h2v1h-2zM18 26h1v1h-1zM22 27h1v1h-1zM23 28h1v1h-1zM31 29h1v1h-1zM31 30h1v1h-1zM30 34h1v1h-1zM30 35h1v1h-1zM15 36h1v1h-1zM30 36h1v1h-1zM28 37h1v1h-1zM31 37h1v1h-1zM6 38h2v1h-2zM10 38h3v1h-3zM27 38h2v1h-2zM3 39h1v1h-1zM27 39h2v1h-2z"/>
<path fill="#050505" d="M10 10h1v1h-1zM17 10h1v1h-1zM23 10h1v1h-1zM27 10h1v1h-1zM1 20h1v1h-1zM0 21h1v1h-1zM0 22h1v1h-1zM19 25h1v1h-1zM3 26h1v1h-1zM24 30h1v1h-1zM16 31h1v1h-1zM30 33h1v1h-1zM28 34h2v1h-2zM28 35h2v1h-2zM28 36h2v1h-2zM14 37h1v1h-1zM29 37h2v1h-2zM4 38h2v1h-2zM29 38h3v1h-3zM2 39h1v1h-1zM29 39h3v1h-3z"/>
<path fill="#060606" d="M9 10h1v1h-1zM16 10h1v1h-1zM24 10h1v1h-1zM26 10h1v1h-1zM29 11h1v1h-1zM9 12h1v1h-1zM15 12h1v1h-1zM30 12h1v1h-1zM6 15h1v1h-1zM3 24h1v1h-1zM21 26h1v1h-1zM27 33h1v1h-1zM15 35h1v1h-1zM5 37h6v1h-6zM13 37h1v1h-1zM3 38h1v1h-1zM1 39h1v1h-1z"/>
<path fill="#070707" d="M25 10h1v1h-1zM9 11h2v1h-2zM16 11h1v1h-1zM13 12h2v1h-2zM4 17h1v1h-1zM3 19h1v1h-1zM2 20h1v1h-1zM2 23h1v1h-1zM17 28h1v1h-1zM25 31h1v1h-1zM26 32h1v1h-1zM30 32h1v1h-1zM29 33h1v1h-1zM14 36h1v1h-1zM4 37h1v1h-1zM11 37h2v1h-2zM2 38h1v1h-1zM0 39h1v1h-1z"/>
<path fill="#080808" d="M20 11h1v1h-1zM10 12h3v1h-3zM30 13h1v1h-1zM30 15h1v1h-1zM5 16h1v1h-1zM30 16h1v1h-1zM1 22h1v1h-1zM4 26h1v1h-1zM16 30h1v1h-1zM28 33h1v1h-1zM15 34h1v1h-1zM5 36h3v1h-3zM3 37h1v1h-1zM0 38h2v1h-2z"/>
<path fill="#090909" d="M9 13h1v1h-1zM16 13h1v1h-1zM18 13h1v1h-1zM30 14h1v1h-1zM1 21h1v1h-1zM20 25h1v1h-1zM0 27h1v1h-1zM23 27h1v1h-1zM24 29h1v1h-1zM4 36h1v1h-1zM8 36h2v1h-2zM1 37h2v1h-2z"/>
<path fill="#0a0a0a" d="M28 11h1v1h-1zM19 12h1v1h-1zM8 14h1v1h-1zM30 17h1v1h-1zM18 25h1v1h-1zM1 27h1v1h-1zM4 27h1v1h-1zM15 33h1v1h-1zM5 35h2v1h-2zM2 36h2v1h-2zM10 36h1v1h-1zM13 36h1v1h-1zM0 37h1v1h-1z"/>
<path fill="#0b0b0b" d="M21 11h1v1h-1zM30 18h1v1h-1zM3 20h1v1h-1zM3 23h1v1h-1zM4 25h1v1h-1zM22 26h1v1h-1zM2 27h2v1h-2zM3 35h2v1h-2zM7 35h1v1h-1zM14 35h1v1h-1zM1 36h1v1h-1zM11 36h2v1h-2z"/>
<path fill="#0c0c0c" d="M7 15h1v1h-1zM4 18h1v1h-1zM30 19h1v1h-1zM2 22h1v1h-1zM5 27h1v1h-1zM5 28h1v1h-1zM30 31h1v1h-1zM27 32h1v1h-1zM29 32h1v1h-1zM4 34h2v1h-2zM2 35h1v1h-1zM8 35h1v1h-1zM0 36h1v1h-1z"/>
<path fill="#0d0d0d" d="M22 11h1v1h-1zM29 12h1v1h-1zM2 21h1v1h-1zM17 27h1v1h-1zM0 28h1v1h-1zM4 28h1v1h-1zM5 29h1v1h-1zM15 32h1v1h-1zM2 34h2v1h-2zM6 34h1v1h-1zM0 35h2v1h-2zM9 35h1v1h-1z"/>
<path fill="#0e0e0e" d="M27 11h1v1h-1zM30 20h1v1h-1zM24 28h1v1h-1zM4 29h1v1h-1zM16 29h1v1h-1zM5 30h1v1h-1zM28 32h1v1h-1zM3 33h3v1h-3zM1 34h1v1h-1zM7 34h1v1h-1zM13 35h1v1h-1z"/>
<path fill="#0f0f0f" d="M23 11h1v1h-1zM10 13h1v1h-1zM6 16h1v1h-1zM30 21h1v1h-1zM1 28h1v1h-1zM4 30h1v1h-1zM4 31h2v1h-2zM3 32h3v1h-3zM2 33h1v1h-1zM6 33h1v1h-1zM0 34h1v1h-1zM14 34h1v1h-1zM10 35h1v1h-1z"/>
<path fill="#101010" d="M24 11h1v1h-1zM15 13h1v1h-1zM5 17h1v1h-1zM3 21h1v1h-1zM3 22h1v1h-1zM30 22h1v1h-1zM30 23h1v1h-1zM30 24h1v1h-1zM5 26h1v1h-1zM2 28h2v1h-2zM6 28h1v1h-1zM6 29h1v1h-1zM6 30h1v1h-1zM25 30h1v1h-1zM3 31h1v1h-1zM26 31h1v1h-1zM2 32h1v1h-1zM6 32h1v1h-1zM0 33h2v1h-2zM8 34h1v1h-1zM11 35h2v1h-2z"/>
<path fill="#111111" d="M25 11h2v1h-2zM4 19h1v1h-1zM4 24h1v1h-1zM21 25h1v1h-1zM30 25h1v1h-1zM30 26h1v1h-1zM0 29h2v1h-2zM3 29h1v1h-1zM3 30h1v1h-1zM30 30h1v1h-1zM2 31h1v1h-1zM6 31h1v1h-1zM15 31h1v1h-1zM0 32h2v1h-2zM7 33h1v1h-1z"/>
<path fill="#121212" d="M23 26h1v1h-1zM30 27h1v1h-1zM2 29h1v1h-1zM0 30h3v1h-3zM0 31h2v1h-2zM9 34h1v1h-1z"/>
<path fill="#131313" d="M11 13h1v1h-1zM17 14h1v1h-1zM17 26h1v1h-1zM7 32h1v1h-1zM14 33h1v1h-1zM13 34h1v1h-1z"/>
<path fill="#141414" d="M20 12h1v1h-1zM14 13h1v1h-1zM9 14h1v1h-1zM19 24h1v1h-1zM6 27h1v1h-1zM24 27h1v1h-1zM29 31h1v1h-1zM8 33h1v1h-1z"/>
<path fill="#151515" d="M29 13h1v1h-1zM30 28h1v1h-1zM30 29h1v1h-1zM7 31h1v1h-1zM10 34h1v1h-1z"/>
<path fill="#161616" d="M28 12h1v1h-1zM12 13h2v1h-2zM8 15h1v1h-1zM4 20h1v1h-1zM4 23h1v1h-1zM16 28h1v1h-1zM7 29h1v1h-1zM7 30h1v1h-1zM12 34h1v1h-1z"/>
<path fill="#171717" d="M19 13h1v1h-1zM11 34h1v1h-1z"/>
<path fill="#181818" d="M18 14h1v1h-1zM18 24h1v1h-1zM15 30h1v1h-1zM8 32h1v1h-1zM14 32h1v1h-1zM9 33h1v1h-1z"/>
<path fill="#191919" d="M7 16h1v1h-1zM4 21h1v1h-1zM4 22h1v1h-1zM5 25h1v1h-1zM22 25h1v1h-1zM7 28h1v1h-1zM25 29h1v1h-1zM27 31h1v1h-1z"/>
<path fill="#1a1a1a" d="M21 12h1v1h-1zM16 14h1v1h-1zM5 18h1v1h-1zM20 24h1v1h-1zM13 33h1v1h-1z"/>
<path fill="#1b1b1b" d="M17 25h1v1h-1zM28 31h1v1h-1z"/>
<path fill="#1c1c1c" d="M29 14h1v1h-1zM8 31h1v1h-1zM10 33h1v1h-1z"/>
<path fill="#1d1d1d" d="M6 17h1v1h-1z"/>
<path fill="#1e1e1e" d="M22 12h1v1h-1zM27 12h1v1h-1zM6 26h1v1h-1zM8 30h1v1h-1zM9 32h1v1h-1zM11 33h2v1h-2z"/>
<path fill="#1f1f1f" d="M10 14h1v1h-1zM24 26h1v1h-1zM16 27h1v1h-1zM26 30h1v1h-1zM29 30h1v1h-1zM14 31h1v1h-1z"/>
<path fill="#202020" d="M23 12h1v1h-1zM29 15h1v1h-1z"/>
<path fill="#212121" d="M25 28h1v1h-1zM8 29h1v1h-1zM13 32h1v1h-1z"/>
<path fill="#222222" d="M24 12h1v1h-1zM26 12h1v1h-1zM7 27h1v1h-1zM15 29h1v1h-1z"/>
<path fill="#232323" d="M15 14h1v1h-1zM5 19h1v1h-1zM5 24h1v1h-1zM23 25h1v1h-1z"/>
<path fill="#242424" d="M25 12h1v1h-1zM9 15h1v1h-1zM21 24h1v1h-1zM9 31h1v1h-1zM10 32h1v1h-1z"/>
<path fill="#252525" d="M20 13h1v1h-1zM8 16h1v1h-1zM29 16h1v1h-1z"/>
<path fill="#262626" d="M8 28h1v1h-1z"/>
<path fill="#272727" d="M11 14h1v1h-1zM19 14h1v1h-1zM17 24h1v1h-1zM12 32h1v1h-1z"/>
<path fill="#282828" d="M28 13h1v1h-1zM29 29h1v1h-1zM11 32h1v1h-1z"/>
<path fill="#292929" d="M14 14h1v1h-1zM17 15h1v1h-1zM16 26h1v1h-1zM9 30h1v1h-1zM14 30h1v1h-1z"/>
<path fill="#2a2a2a" d="M5 20h1v1h-1zM5 23h1v1h-1zM25 27h1v1h-1zM29 27h1v1h-1zM29 28h1v1h-1z"/>
<path fill="#2b2b2b" d="M12 14h1v1h-1zM18 15h1v1h-1zM29 17h1v1h-1zM19 23h1v1h-1zM10 31h1v1h-1zM13 31h1v1h-1z"/>
<path fill="#2c2c2c" d="M13 14h1v1h-1zM7 17h1v1h-1zM18 23h1v1h-1zM15 28h1v1h-1zM28 30h1v1h-1z"/>
<path fill="#2d2d2d" d="M6 18h1v1h-1zM29 18h1v1h-1zM29 26h1v1h-1zM26 29h1v1h-1zM27 30h1v1h-1z"/>
<path fill="#2e2e2e" d="M5 21h1v1h-1zM5 22h1v1h-1zM6 25h1v1h-1zM9 29h1v1h-1z"/>
<path fill="#2f2f2f" d="M22 24h1v1h-1z"/>
<path fill="#303030" d="M21 13h1v1h-1zM16 15h1v1h-1zM29 19h1v1h-1zM29 25h1v1h-1z"/>
<path fill="#313131" d="M20 23h1v1h-1zM29 24h1v1h-1zM11 31h2v1h-2z"/>
<path fill="#323232" d="M10 15h1v1h-1zM29 20h1v1h-1zM16 25h1v1h-1zM7 26h1v1h-1z"/>
<path fill="#333333" d="M29 23h1v1h-1zM8 27h1v1h-1zM10 30h1v1h-1z"/>
<path fill="#343434" d="M29 21h1v1h-1zM29 22h1v1h-1z"/>
<path fill="#353535" d="M9 16h1v1h-1zM15 27h1v1h-1zM14 29h1v1h-1zM13 30h1v1h-1z"/>
<path fill="#363636" d="M19 15h1v1h-1zM17 23h1v1h-1zM9 28h1v1h-1z"/>
<path fill="#373737" d="M22 13h1v1h-1zM27 13h1v1h-1zM24 25h1v1h-1z"/>
<path fill="#393939" d="M20 14h1v1h-1zM15 15h1v1h-1zM26 28h1v1h-1zM28 29h1v1h-1z"/>
<path fill="#3a3a3a" d="M8 17h1v1h-1zM16 24h1v1h-1zM25 26h1v1h-1zM11 30h1v1h-1z"/>
<path fill="#3b3b3b" d="M10 29h1v1h-1zM12 30h1v1h-1z"/>
<path fill="#3c3c3c" d="M11 15h1v1h-1zM17 16h1v1h-1zM21 23h1v1h-1zM27 29h1v1h-1z"/>
<path fill="#3d3d3d" d="M23 13h1v1h-1zM18 16h1v1h-1zM6 19h1v1h-1zM18 22h1v1h-1z"/>
<path fill="#3e3e3e" d="M28 14h1v1h-1zM14 15h1v1h-1zM19 22h1v1h-1zM6 24h1v1h-1zM15 26h1v1h-1z"/>
<path fill="#3f3f3f" d="M26 13h1v1h-1zM23 24h1v1h-1z"/>
<path fill="#404040" d="M14 28h1v1h-1zM28 28h1v1h-1z"/>
<path fill="#414141" d="M24 13h1v1h-1zM12 15h2v1h-2zM16 16h1v1h-1zM13 29h1v1h-1z"/>
<path fill="#424242" d="M25 13h1v1h-1zM7 18h1v1h-1zM16 23h1v1h-1z"/>
<path fill="#434343" d="M17 22h1v1h-1z"/>
<path fill="#444444" d="M10 16h1v1h-1zM19 16h1v1h-1zM9 27h1v1h-1zM11 29h1v1h-1z"/>
<path fill="#454545" d="M15 25h1v1h-1z"/>
<path fill="#464646" d="M20 22h1v1h-1zM10 28h1v1h-1zM12 29h1v1h-1z"/>
<path fill="#474747" d="M20 15h1v1h-1zM6 20h1v1h-1zM8 26h1v1h-1z"/>
<path fill="#484848" d="M21 14h1v1h-1zM6 23h1v1h-1zM14 27h1v1h-1zM26 27h1v1h-1zM27 28h1v1h-1z"/>
<path fill="#494949" d="M15 16h1v1h-1zM9 17h1v1h-1zM7 25h1v1h-1zM28 27h1v1h-1z"/>
<path fill="#4a4a4a" d="M17 17h2v1h-2zM22 23h1v1h-1zM15 24h1v1h-1z"/>
<path fill="#4b4b4b" d="M18 21h1v1h-1zM16 22h1v1h-1z"/>
<path fill="#4c4c4c" d="M6 21h1v1h-1zM6 22h1v1h-1z"/>
<path fill="#4d4d4d" d="M16 17h1v1h-1zM19 21h1v1h-1zM13 28h1v1h-1z"/>
<path fill="#4e4e4e" d="M11 16h1v1h-1zM14 16h1v1h-1zM17 21h1v1h-1z"/>
<path fill="#4f4f4f" d="M19 17h1v1h-1zM15 23h1v1h-1zM14 26h1v1h-1z"/>
<path fill="#515151" d="M12 16h2v1h-2zM20 16h1v1h-1zM11 28h1v1h-1z"/>
<path fill="#525252" d="M28 15h1v1h-1zM18 18h1v1h-1zM16 21h1v1h-1zM21 22h1v1h-1z"/>
<path fill="#535353" d="M15 17h1v1h-1zM8 18h1v1h-1zM17 18h1v1h-1zM12 28h1v1h-1z"/>
<path fill="#545454" d="M18 20h1v1h-1zM20 21h1v1h-1zM15 22h1v1h-1z"/>
<path fill="#555555" d="M10 17h1v1h-1zM16 18h1v1h-1zM17 20h1v1h-1zM14 25h1v1h-1zM10 27h1v1h-1z"/>
<path fill="#565656" d="M22 14h1v1h-1zM19 18h1v1h-1zM18 19h1v1h-1zM19 20h1v1h-1zM24 24h1v1h-1zM25 25h1v1h-1zM13 27h1v1h-1z"/>
<path fill="#575757" d="M14 17h1v1h-1zM17 19h1v1h-1zM16 20h1v1h-1z"/>
<path fill="#585858" d="M7 19h1v1h-1zM19 19h1v1h-1zM15 21h1v1h-1zM14 24h1v1h-1zM28 26h1v1h-1zM27 27h1v1h-1z"/>
<path fill="#595959" d="M15 18h1v1h-1zM16 19h1v1h-1zM9 26h1v1h-1z"/>
<path fill="#5a5a5a" d="M21 15h1v1h-1z"/>
<path fill="#5b5b5b" d="M13 17h1v1h-1zM20 17h1v1h-1zM15 19h1v1h-1zM15 20h1v1h-1z"/>
<path fill="#5c5c5c" d="M27 14h1v1h-1zM11 17h1v1h-1zM14 23h1v1h-1zM23 23h1v1h-1z"/>
<path fill="#5d5d5d" d="M14 18h1v1h-1zM20 20h1v1h-1z"/>
<path fill="#5e5e5e" d="M12 17h1v1h-1zM14 22h1v1h-1zM13 26h1v1h-1zM26 26h1v1h-1z"/>
<path fill="#5f5f5f" d="M9 18h1v1h-1zM14 19h1v1h-1zM7 24h1v1h-1zM11 27h2v1h-2z"/>
<path fill="#606060" d="M20 18h1v1h-1zM20 19h1v1h-1zM14 20h1v1h-1zM14 21h1v1h-1zM8 25h1v1h-1zM28 25h1v1h-1z"/>
<path fill="#616161" d="M21 21h1v1h-1z"/>
<path fill="#626262" d="M13 18h1v1h-1zM22 22h1v1h-1zM13 25h1v1h-1z"/>
<path fill="#646464" d="M23 14h1v1h-1zM28 16h1v1h-1z"/>
<path fill="#656565" d="M13 19h1v1h-1zM28 24h1v1h-1z"/>
<path fill="#666666" d="M21 16h1v1h-1zM13 24h1v1h-1zM10 26h1v1h-1z"/>
<path fill="#676767" d="M10 18h1v1h-1zM12 18h1v1h-1zM7 20h1v1h-1z"/>
<path fill="#686868" d="M13 20h1v1h-1z"/>
<path fill="#696969" d="M26 14h1v1h-1zM11 18h1v1h-1zM13 23h1v1h-1zM12 26h1v1h-1z"/>
<path fill="#6a6a6a" d="M21 20h1v1h-1zM13 21h1v1h-1zM7 23h1v1h-1zM28 23h1v1h-1z"/>
<path fill="#6b6b6b" d="M8 19h1v1h-1zM13 22h1v1h-1z"/>
<path fill="#6c6c6c" d="M24 14h1v1h-1zM7 21h1v1h-1zM11 26h1v1h-1z"/>
<path fill="#6d6d6d" d="M28 17h1v1h-1zM7 22h1v1h-1zM28 22h1v1h-1z"/>
<path fill="#6e6e6e" d="M25 14h1v1h-1zM12 19h1v1h-1z"/>
<path fill="#6f6f6f" d="M21 17h1v1h-1zM28 18h1v1h-1zM28 21h1v1h-1zM9 25h1v1h-1zM12 25h1v1h-1zM27 26h1v1h-1z"/>
<path fill="#707070" d="M21 19h1v1h-1z"/>
<path fill="#717171" d="M28 19h1v1h-1zM28 20h1v1h-1zM22 21h1v1h-1zM24 23h1v1h-1z"/>
<path fill="#727272" d="M21 18h1v1h-1z"/>
<path fill="#737373" d="M22 15h1v1h-1zM23 22h1v1h-1zM25 24h1v1h-1z"/>
<path fill="#747474" d="M9 19h1v1h-1zM12 20h1v1h-1zM12 24h1v1h-1z"/>
<path fill="#757575" d="M11 19h1v1h-1zM26 25h1v1h-1z"/>
<path fill="#767676" d="M8 24h1v1h-1z"/>
<path fill="#777777" d="M10 19h1v1h-1zM10 25h2v1h-2z"/>
<path fill="#787878" d="M12 21h1v1h-1z"/>
<path fill="#797979" d="M12 23h1v1h-1z"/>
<path fill="#7b7b7b" d="M8 20h1v1h-1zM12 22h1v1h-1z"/>
<path fill="#7c7c7c" d="M22 20h1v1h-1z"/>
<path fill="#7d7d7d" d="M27 25h1v1h-1z"/>
<path fill="#7e7e7e" d="M11 20h1v1h-1z"/>
<path fill="#808080" d="M11 24h1v1h-1z"/>
<path fill="#818181" d="M27 15h1v1h-1z"/>
<path fill="#828282" d="M8 21h1v1h-1zM8 23h1v1h-1zM9 24h1v1h-1z"/>
<path fill="#838383" d="M23 21h1v1h-1z"/>
<path fill="#848484" d="M22 16h1v1h-1zM9 20h1v1h-1z"/>
<path fill="#858585" d="M22 19h1v1h-1zM10 20h1v1h-1zM8 22h1v1h-1zM24 22h1v1h-1zM10 24h1v1h-1z"/>
<path fill="#868686" d="M11 21h1v1h-1z"/>
<path fill="#878787" d="M11 23h1v1h-1zM27 24h1v1h-1z"/>
<path fill="#888888" d="M25 23h1v1h-1zM26 24h1v1h-1z"/>
<path fill="#898989" d="M11 22h1v1h-1z"/>
<path fill="#8c8c8c" d="M23 15h1v1h-1zM22 18h1v1h-1z"/>
<path fill="#8d8d8d" d="M22 17h1v1h-1zM9 21h1v1h-1zM9 23h1v1h-1z"/>
<path fill="#8e8e8e" d="M10 21h1v1h-1z"/>
<path fill="#8f8f8f" d="M23 20h1v1h-1zM10 23h1v1h-1z"/>
<path fill="#909090" d="M27 23h1v1h-1z"/>
<path fill="#919191" d="M9 22h1v1h-1z"/>
<path fill="#929292" d="M10 22h1v1h-1z"/>
<path fill="#949494" d="M26 15h1v1h-1zM24 21h1v1h-1z"/>
<path fill="#979797" d="M25 22h1v1h-1zM27 22h1v1h-1zM26 23h1v1h-1z"/>
<path fill="#989898" d="M24 15h1v1h-1z"/>
<path fill="#9a9a9a" d="M25 15h1v1h-1zM23 19h1v1h-1z"/>
<path fill="#9c9c9c" d="M27 16h1v1h-1zM27 21h1v1h-1z"/>
<path fill="#a0a0a0" d="M27 20h1v1h-1z"/>
<path fill="#a1a1a1" d="M24 20h1v1h-1z"/>
<path fill="#a2a2a2" d="M26 22h1v1h-1z"/>
<path fill="#a3a3a3" d="M23 16h1v1h-1zM25 21h1v1h-1z"/>
<path fill="#a5a5a5" d="M23 18h1v1h-1zM27 19h1v1h-1z"/>
<path fill="#a7a7a7" d="M27 17h1v1h-1zM27 18h1v1h-1z"/>
<path fill="#a9a9a9" d="M23 17h1v1h-1z"/>
<path fill="#ababab" d="M26 21h1v1h-1z"/>
<path fill="#adadad" d="M24 19h1v1h-1z"/>
<path fill="#afafaf" d="M25 20h1v1h-1z"/>
<path fill="#b2b2b2" d="M26 20h1v1h-1z"/>
<path fill="#b4b4b4" d="M24 16h1v1h-1zM26 16h1v1h-1z"/>
<path fill="#b8b8b8" d="M24 18h1v1h-1z"/>
<path fill="#b9b9b9" d="M25 16h1v1h-1z"/>
<path fill="#bababa" d="M25 19h2v1h-2z"/>
<path fill="#bcbcbc" d="M24 17h1v1h-1z"/>
<path fill="#c0c0c0" d="M26 18h1v1h-1z"/>
<path fill="#c1c1c1" d="M26 17h1v1h-1z"/>
<path fill="#c2c2c2" d="M25 18h1v1h-1z"/>
<path fill="#c4c4c4" d="M25 17h1v1h-1z"/>
</g></g></g>
<g clip-path="url(#cp11)"><g filter="url(#hot)">
<rect x="242.30" y="265.08" width="185.54" height="231.56" fill="#000"/>
<g transform="translate(242.304 265.082) scale(5.79821 5.78889)" shape-rendering="crispEdges">
<path fill="#010101" d="M16 6h3v1h-3zM20 6h2v1h-2zM23 6h1v1h-1zM30 6h1v1h-1zM13 7h1v1h-1zM11 8h1v1h-1zM9 9h1v1h-1zM5 10h1v1h-1zM3 11h1v1h-1zM0 16h1v1h-1zM18 21h1v1h-1zM16 22h1v1h-1zM20 22h1v1h-1zM23 24h1v1h-1zM14 26h1v1h-1zM24 26h1v1h-1zM14 27h1v1h-1zM24 27h1v1h-1zM14 28h1v1h-1zM24 28h1v1h-1zM14 29h1v1h-1zM24 29h1v1h-1zM24 30h1v1h-1zM24 31h1v1h-1zM24 32h1v1h-1zM15 33h1v1h-1zM16 34h1v1h-1zM22 34h1v1h-1zM21 35h1v1h-1zM17 36h1v1h-1zM17 37h1v1h-1zM20 37h1v1h-1zM18 38h1v1h-1zM20 38h1v1h-1zM19 39h2v1h-2z"/>
<path fill="#020202" d="M19 6h1v1h-1zM24 6h1v1h-1zM27 6h3v1h-3zM6 10h1v1h-1zM4 11h1v1h-1zM2 12h1v1h-1zM1 13h1v1h-1zM19 21h1v1h-1zM15 22h1v1h-1zM31 22h1v1h-1zM22 23h1v1h-1zM14 30h1v1h-1zM14 31h1v1h-1zM14 32h1v1h-1zM24 33h1v1h-1zM23 34h1v1h-1zM22 35h1v1h-1zM21 36h1v1h-1zM21 37h1v1h-1zM21 38h1v1h-1zM18 39h1v1h-1z"/>
<path fill="#030303" d="M25 6h2v1h-2zM14 7h1v1h-1zM12 8h1v1h-1zM10 9h1v1h-1zM7 10h1v1h-1zM17 21h1v1h-1zM24 25h1v1h-1zM25 30h1v1h-1zM25 31h1v1h-1zM25 32h1v1h-1zM15 34h1v1h-1zM24 34h1v1h-1zM16 35h1v1h-1zM22 36h1v1h-1zM17 38h1v1h-1zM21 39h1v1h-1z"/>
<path fill="#040404" d="M15 7h1v1h-1zM30 7h1v1h-1zM1 14h1v1h-1zM0 17h1v1h-1zM21 22h1v1h-1zM31 23h1v1h-1zM13 25h1v1h-1zM13 26h1v1h-1zM25 28h1v1h-1zM25 29h1v1h-1zM14 33h1v1h-1zM25 33h1v1h-1zM23 35h1v1h-1zM16 36h1v1h-1zM22 37h1v1h-1zM22 38h1v1h-1zM17 39h1v1h-1zM22 39h1v1h-1z"/>
<path fill="#050505" d="M11 9h1v1h-1zM8 10h1v1h-1zM5 11h1v1h-1zM3 12h1v1h-1zM2 13h1v1h-1zM14 22h1v1h-1zM13 24h1v1h-1zM13 27h1v1h-1zM25 27h1v1h-1zM13 28h1v1h-1zM13 29h1v1h-1zM25 34h1v1h-1zM24 35h1v1h-1zM23 36h1v1h-1zM16 37h1v1h-1z"/>
<path fill="#060606" d="M16 7h1v1h-1zM1 15h1v1h-1zM16 21h1v1h-1zM20 21h1v1h-1zM23 23h1v1h-1zM25 26h1v1h-1zM13 30h1v1h-1zM13 31h1v1h-1zM15 35h1v1h-1zM23 37h1v1h-1zM16 38h1v1h-1zM23 38h1v1h-1zM23 39h1v1h-1z"/>
<path fill="#070707" d="M17 7h1v1h-1zM22 7h1v1h-1zM29 7h1v1h-1zM13 8h1v1h-1zM30 8h1v1h-1zM13 23h1v1h-1zM31 24h1v1h-1zM26 29h1v1h-1zM26 30h1v1h-1zM26 31h1v1h-1zM13 32h1v1h-1zM26 32h1v1h-1zM26 33h1v1h-1zM14 34h1v1h-1zM26 34h1v1h-1zM25 35h1v1h-1zM24 36h1v1h-1zM24 37h1v1h-1zM24 38h1v1h-1zM24 39h1v1h-1z"/>
<path fill="#080808" d="M18 7h1v1h-1zM21 7h1v1h-1zM23 7h1v1h-1zM9 10h1v1h-1zM24 24h1v1h-1zM26 28h1v1h-1zM26 35h1v1h-1zM25 36h1v1h-1zM25 37h1v1h-1zM25 38h1v1h-1zM16 39h1v1h-1z"/>
<path fill="#090909" d="M19 7h2v1h-2zM28 7h1v1h-1zM6 11h1v1h-1zM1 16h1v1h-1zM0 18h1v1h-1zM26 27h1v1h-1zM15 36h1v1h-1zM26 36h1v1h-1zM26 37h1v1h-1zM25 39h1v1h-1z"/>
<path fill="#0a0a0a" d="M24 7h1v1h-1zM27 7h1v1h-1zM4 12h1v1h-1zM2 14h1v1h-1zM18 20h1v1h-1zM22 22h1v1h-1zM25 25h1v1h-1zM12 27h1v1h-1zM12 28h1v1h-1zM12 29h1v1h-1zM27 32h1v1h-1zM13 33h1v1h-1zM27 33h1v1h-1zM27 34h1v1h-1zM27 35h1v1h-1zM27 36h1v1h-1zM26 38h1v1h-1zM26 39h1v1h-1z"/>
<path fill="#0b0b0b" d="M14 8h1v1h-1zM12 9h1v1h-1zM30 9h1v1h-1zM31 25h1v1h-1zM12 26h1v1h-1zM26 26h1v1h-1zM27 29h1v1h-1zM12 30h1v1h-1zM27 30h1v1h-1zM27 31h1v1h-1zM14 35h1v1h-1zM15 37h1v1h-1zM27 37h1v1h-1zM27 38h1v1h-1zM27 39h1v1h-1z"/>
<path fill="#0c0c0c" d="M25 7h2v1h-2zM10 10h1v1h-1zM1 17h1v1h-1zM19 20h1v1h-1zM15 21h1v1h-1zM30 23h1v1h-1zM27 28h1v1h-1zM12 31h1v1h-1zM28 35h1v1h-1zM28 36h1v1h-1zM28 37h1v1h-1zM15 38h1v1h-1zM28 38h1v1h-1zM0 39h1v1h-1zM28 39h1v1h-1z"/>
<path fill="#0d0d0d" d="M30 10h1v1h-1zM7 11h1v1h-1zM3 13h1v1h-1zM30 13h1v1h-1zM17 20h1v1h-1zM21 21h1v1h-1zM30 22h1v1h-1zM30 24h1v1h-1zM12 25h1v1h-1zM27 27h1v1h-1zM28 33h1v1h-1zM13 34h1v1h-1zM28 34h1v1h-1zM29 37h1v1h-1zM29 38h1v1h-1zM15 39h1v1h-1zM29 39h1v1h-1z"/>
<path fill="#0e0e0e" d="M30 14h1v1h-1zM30 16h1v1h-1zM30 17h1v1h-1zM30 18h1v1h-1zM0 19h1v1h-1zM30 21h1v1h-1zM26 25h1v1h-1zM31 26h1v1h-1zM28 31h1v1h-1zM12 32h1v1h-1zM28 32h1v1h-1zM29 35h1v1h-1zM29 36h1v1h-1zM30 39h1v1h-1z"/>
<path fill="#0f0f0f" d="M15 8h1v1h-1zM29 8h1v1h-1zM30 11h1v1h-1zM30 12h1v1h-1zM2 15h1v1h-1zM30 15h1v1h-1zM30 20h1v1h-1zM24 23h1v1h-1zM30 25h1v1h-1zM27 26h1v1h-1zM28 29h1v1h-1zM28 30h1v1h-1zM29 34h1v1h-1zM14 36h1v1h-1zM30 36h1v1h-1zM30 37h1v1h-1zM0 38h1v1h-1zM30 38h1v1h-1z"/>
<path fill="#101010" d="M1 18h1v1h-1zM30 19h1v1h-1zM13 22h1v1h-1zM30 26h1v1h-1zM11 28h1v1h-1zM28 28h1v1h-1zM12 33h1v1h-1zM29 33h1v1h-1zM30 35h1v1h-1zM31 38h1v1h-1zM31 39h1v1h-1z"/>
<path fill="#111111" d="M11 10h1v1h-1zM8 11h1v1h-1zM5 12h1v1h-1zM12 24h1v1h-1zM27 25h1v1h-1zM11 27h1v1h-1zM28 27h1v1h-1zM31 27h1v1h-1zM11 29h1v1h-1zM29 29h1v1h-1zM11 30h1v1h-1zM29 30h1v1h-1zM29 31h1v1h-1zM29 32h1v1h-1zM30 34h1v1h-1zM31 36h1v1h-1zM14 37h1v1h-1zM31 37h1v1h-1zM1 39h1v1h-1z"/>
<path fill="#121212" d="M20 20h1v1h-1zM23 22h1v1h-1zM25 24h1v1h-1zM29 24h1v1h-1zM29 25h1v1h-1zM28 26h2v1h-2zM29 27h2v1h-2zM29 28h1v1h-1zM11 31h1v1h-1zM30 33h1v1h-1zM13 35h1v1h-1zM31 35h1v1h-1zM0 37h1v1h-1zM14 38h1v1h-1z"/>
<path fill="#131313" d="M16 8h1v1h-1zM13 9h1v1h-1zM2 16h1v1h-1zM0 20h1v1h-1zM16 20h1v1h-1zM28 25h1v1h-1zM11 26h1v1h-1zM30 28h2v1h-2zM30 29h1v1h-1zM30 30h1v1h-1zM30 31h1v1h-1zM30 32h1v1h-1zM31 34h1v1h-1zM14 39h1v1h-1z"/>
<path fill="#141414" d="M31 29h1v1h-1zM11 32h1v1h-1zM31 32h1v1h-1zM31 33h1v1h-1zM12 34h1v1h-1zM0 36h1v1h-1z"/>
<path fill="#151515" d="M17 8h1v1h-1zM1 19h1v1h-1zM14 21h1v1h-1zM29 23h1v1h-1zM31 30h1v1h-1zM31 31h1v1h-1zM1 38h1v1h-1zM2 39h1v1h-1z"/>
<path fill="#161616" d="M18 8h1v1h-1zM22 8h1v1h-1zM28 8h1v1h-1zM2 17h1v1h-1zM26 24h1v1h-1zM28 24h1v1h-1zM10 28h1v1h-1zM10 29h1v1h-1zM11 33h1v1h-1zM0 35h1v1h-1zM13 36h1v1h-1z"/>
<path fill="#171717" d="M21 8h1v1h-1zM23 8h1v1h-1zM9 11h1v1h-1zM4 13h1v1h-1zM3 14h1v1h-1zM27 24h1v1h-1zM11 25h1v1h-1zM10 27h1v1h-1zM10 30h1v1h-1zM0 34h1v1h-1z"/>
<path fill="#181818" d="M19 8h2v1h-2zM6 12h1v1h-1zM22 21h1v1h-1zM12 23h1v1h-1zM10 31h1v1h-1zM0 33h1v1h-1zM12 35h1v1h-1zM13 37h1v1h-1zM13 38h1v1h-1zM3 39h1v1h-1zM13 39h1v1h-1z"/>
<path fill="#191919" d="M27 8h1v1h-1zM29 9h1v1h-1zM12 10h1v1h-1zM2 18h1v1h-1zM1 20h1v1h-1zM0 21h1v1h-1zM29 22h1v1h-1zM0 32h1v1h-1zM10 32h1v1h-1zM1 37h1v1h-1z"/>
<path fill="#1a1a1a" d="M11 34h1v1h-1zM2 38h1v1h-1zM4 39h1v1h-1z"/>
<path fill="#1b1b1b" d="M24 8h1v1h-1zM14 9h1v1h-1zM25 23h1v1h-1zM28 23h1v1h-1zM10 26h1v1h-1zM9 28h1v1h-1zM9 29h1v1h-1zM9 30h1v1h-1zM10 33h1v1h-1zM1 36h1v1h-1zM12 36h1v1h-1z"/>
<path fill="#1c1c1c" d="M26 8h1v1h-1zM2 19h1v1h-1zM18 19h1v1h-1zM15 20h1v1h-1zM21 20h1v1h-1zM9 27h1v1h-1zM0 31h1v1h-1zM9 31h1v1h-1zM12 38h1v1h-1zM5 39h1v1h-1zM12 39h1v1h-1z"/>
<path fill="#1d1d1d" d="M10 11h1v1h-1zM19 19h1v1h-1zM24 22h1v1h-1zM11 35h1v1h-1zM12 37h1v1h-1zM6 39h1v1h-1z"/>
<path fill="#1e1e1e" d="M25 8h1v1h-1zM1 21h1v1h-1zM29 21h1v1h-1zM0 22h1v1h-1zM8 28h1v1h-1zM8 29h1v1h-1zM8 30h1v1h-1zM1 32h1v1h-1zM9 32h1v1h-1zM1 33h1v1h-1zM1 34h1v1h-1zM10 34h1v1h-1zM1 35h1v1h-1zM3 38h1v1h-1zM7 39h1v1h-1z"/>
<path fill="#1f1f1f" d="M29 10h1v1h-1zM7 12h1v1h-1zM3 15h1v1h-1zM17 19h1v1h-1zM2 20h1v1h-1zM27 23h1v1h-1zM11 24h1v1h-1zM9 26h1v1h-1zM8 27h1v1h-1zM1 31h1v1h-1zM8 31h1v1h-1zM11 36h1v1h-1zM2 37h1v1h-1zM11 38h1v1h-1zM8 39h1v1h-1zM11 39h1v1h-1z"/>
<path fill="#202020" d="M15 9h1v1h-1zM26 23h1v1h-1zM10 25h1v1h-1zM7 28h1v1h-1zM7 29h1v1h-1zM0 30h1v1h-1zM7 30h1v1h-1zM9 33h1v1h-1zM11 37h1v1h-1zM9 39h2v1h-2z"/>
<path fill="#212121" d="M6 29h1v1h-1zM10 35h1v1h-1zM4 38h1v1h-1zM10 38h1v1h-1z"/>
<path fill="#222222" d="M5 13h1v1h-1zM2 21h1v1h-1zM1 22h1v1h-1zM0 23h1v1h-1zM8 26h1v1h-1zM7 27h1v1h-1zM6 28h1v1h-1zM1 30h1v1h-1zM6 30h1v1h-1zM2 31h1v1h-1zM7 31h1v1h-1zM2 32h1v1h-1zM8 32h1v1h-1zM9 34h1v1h-1zM10 36h1v1h-1zM10 37h1v1h-1zM5 38h5v1h-5z"/>
<path fill="#232323" d="M11 11h1v1h-1zM3 16h1v1h-1zM3 17h1v1h-1zM3 18h1v1h-1zM0 29h1v1h-1zM5 29h1v1h-1zM2 30h1v1h-1zM5 30h1v1h-1zM9 37h1v1h-1z"/>
<path fill="#242424" d="M3 19h1v1h-1zM7 26h1v1h-1zM6 27h1v1h-1zM5 28h1v1h-1zM3 30h2v1h-2zM3 31h1v1h-1zM6 31h1v1h-1zM8 33h1v1h-1zM9 35h1v1h-1zM2 36h1v1h-1zM9 36h1v1h-1z"/>
<path fill="#252525" d="M13 10h1v1h-1zM8 12h1v1h-1zM20 19h1v1h-1zM3 20h1v1h-1zM29 20h1v1h-1zM13 21h1v1h-1zM23 21h1v1h-1zM2 22h1v1h-1zM12 22h1v1h-1zM1 23h1v1h-1zM0 24h1v1h-1zM9 25h1v1h-1zM6 26h1v1h-1zM1 29h1v1h-1zM4 29h1v1h-1zM4 31h2v1h-2zM7 32h1v1h-1zM2 33h1v1h-1zM3 37h1v1h-1zM8 37h1v1h-1z"/>
<path fill="#262626" d="M29 11h1v1h-1zM16 19h1v1h-1zM28 22h1v1h-1zM8 25h1v1h-1zM5 27h1v1h-1zM0 28h1v1h-1zM2 29h2v1h-2zM3 32h1v1h-1zM7 37h1v1h-1z"/>
<path fill="#272727" d="M16 9h1v1h-1zM3 21h1v1h-1zM0 25h1v1h-1zM7 25h1v1h-1zM5 26h1v1h-1zM4 28h1v1h-1zM8 34h1v1h-1zM8 36h1v1h-1z"/>
<path fill="#282828" d="M28 9h1v1h-1zM4 14h1v1h-1zM14 20h1v1h-1zM2 23h1v1h-1zM1 24h1v1h-1zM6 25h1v1h-1zM0 26h1v1h-1zM0 27h1v1h-1zM4 27h1v1h-1zM1 28h1v1h-1zM3 28h1v1h-1zM2 34h1v1h-1zM2 35h1v1h-1zM8 35h1v1h-1zM6 37h1v1h-1z"/>
<path fill="#292929" d="M22 20h1v1h-1zM3 22h1v1h-1zM25 22h1v1h-1zM2 24h1v1h-1zM10 24h1v1h-1zM1 25h1v1h-1zM5 25h1v1h-1zM4 26h1v1h-1zM1 27h1v1h-1zM2 28h1v1h-1zM6 32h1v1h-1zM4 37h1v1h-1z"/>
<path fill="#2a2a2a" d="M17 9h1v1h-1zM29 12h1v1h-1zM29 13h1v1h-1zM29 19h1v1h-1zM3 23h1v1h-1zM11 23h1v1h-1zM3 24h4v1h-4zM2 25h3v1h-3zM1 26h3v1h-3zM2 27h2v1h-2zM4 32h1v1h-1zM7 33h1v1h-1zM5 37h1v1h-1z"/>
<path fill="#2b2b2b" d="M22 9h1v1h-1zM9 12h1v1h-1zM29 18h1v1h-1zM4 21h1v1h-1zM4 22h1v1h-1zM4 23h1v1h-1zM7 24h1v1h-1zM5 32h1v1h-1zM7 36h1v1h-1z"/>
<path fill="#2c2c2c" d="M18 9h1v1h-1zM23 9h1v1h-1zM12 11h1v1h-1zM6 13h1v1h-1zM29 14h1v1h-1zM29 17h1v1h-1zM4 20h1v1h-1zM5 23h1v1h-1zM8 24h2v1h-2z"/>
<path fill="#2d2d2d" d="M21 9h1v1h-1zM27 22h1v1h-1zM6 23h1v1h-1zM3 33h1v1h-1zM3 36h1v1h-1z"/>
<path fill="#2e2e2e" d="M19 9h1v1h-1zM29 15h1v1h-1zM29 16h1v1h-1zM4 19h1v1h-1zM5 22h1v1h-1zM7 34h1v1h-1zM7 35h1v1h-1z"/>
<path fill="#2f2f2f" d="M20 9h1v1h-1zM27 9h1v1h-1zM4 18h1v1h-1zM21 19h1v1h-1zM7 23h1v1h-1z"/>
<path fill="#303030" d="M14 10h1v1h-1zM15 19h1v1h-1zM5 21h1v1h-1zM26 22h1v1h-1zM6 36h1v1h-1z"/>
<path fill="#313131" d="M24 9h1v1h-1zM6 33h1v1h-1z"/>
<path fill="#323232" d="M18 18h1v1h-1zM24 21h1v1h-1zM6 22h1v1h-1zM8 23h1v1h-1z"/>
<path fill="#333333" d="M26 9h1v1h-1zM10 12h1v1h-1zM4 15h1v1h-1zM4 17h1v1h-1zM19 18h1v1h-1zM5 20h1v1h-1z"/>
<path fill="#343434" d="M25 9h1v1h-1z"/>
<path fill="#353535" d="M7 13h1v1h-1zM5 14h1v1h-1zM17 18h1v1h-1zM28 21h1v1h-1zM9 23h2v1h-2z"/>
<path fill="#363636" d="M4 16h1v1h-1zM6 21h1v1h-1zM7 22h1v1h-1zM4 33h1v1h-1zM4 36h1v1h-1z"/>
<path fill="#373737" d="M11 22h1v1h-1zM5 33h1v1h-1zM3 34h1v1h-1zM3 35h1v1h-1zM5 36h1v1h-1z"/>
<path fill="#383838" d="M15 10h1v1h-1zM28 10h1v1h-1zM5 19h1v1h-1zM13 20h1v1h-1zM23 20h1v1h-1z"/>
<path fill="#393939" d="M13 11h1v1h-1zM11 12h1v1h-1zM6 34h1v1h-1zM6 35h1v1h-1z"/>
<path fill="#3a3a3a" d="M8 13h1v1h-1zM16 18h1v1h-1zM20 18h1v1h-1zM14 19h1v1h-1zM22 19h1v1h-1zM12 21h1v1h-1z"/>
<path fill="#3b3b3b" d="M8 22h1v1h-1z"/>
<path fill="#3c3c3c" d="M5 18h1v1h-1zM6 20h1v1h-1z"/>
<path fill="#3d3d3d" d="M7 21h1v1h-1z"/>
<path fill="#3f3f3f" d="M16 10h1v1h-1zM22 10h1v1h-1zM6 14h1v1h-1zM9 22h1v1h-1z"/>
<path fill="#404040" d="M23 10h1v1h-1zM12 12h1v1h-1zM9 13h1v1h-1zM25 21h1v1h-1zM10 22h1v1h-1z"/>
<path fill="#414141" d="M5 17h1v1h-1z"/>
<path fill="#424242" d="M21 10h1v1h-1zM5 15h1v1h-1zM15 18h1v1h-1zM21 18h1v1h-1z"/>
<path fill="#434343" d="M6 19h1v1h-1z"/>
<path fill="#444444" d="M17 10h1v1h-1zM24 10h1v1h-1zM8 21h1v1h-1z"/>
<path fill="#454545" d="M20 10h1v1h-1zM5 16h1v1h-1zM7 20h1v1h-1z"/>
<path fill="#464646" d="M18 10h1v1h-1zM14 11h1v1h-1zM10 13h1v1h-1zM28 20h1v1h-1zM5 34h1v1h-1z"/>
<path fill="#474747" d="M19 10h1v1h-1zM7 14h1v1h-1zM18 17h1v1h-1zM13 19h1v1h-1zM11 21h1v1h-1zM5 35h1v1h-1z"/>
<path fill="#484848" d="M17 17h1v1h-1zM23 19h1v1h-1zM24 20h1v1h-1zM27 21h1v1h-1zM4 34h1v1h-1z"/>
<path fill="#494949" d="M27 10h1v1h-1zM19 17h1v1h-1zM6 18h1v1h-1zM14 18h1v1h-1zM22 18h1v1h-1zM12 20h1v1h-1zM9 21h1v1h-1zM4 35h1v1h-1z"/>
<path fill="#4a4a4a" d="M25 10h1v1h-1zM13 12h1v1h-1zM11 13h1v1h-1zM16 17h1v1h-1z"/>
<path fill="#4b4b4b" d="M28 11h1v1h-1zM6 15h1v1h-1zM10 21h1v1h-1z"/>
<path fill="#4c4c4c" d="M26 10h1v1h-1zM8 14h1v1h-1zM26 21h1v1h-1z"/>
<path fill="#4d4d4d" d="M7 19h1v1h-1zM8 20h1v1h-1z"/>
<path fill="#4e4e4e" d="M6 17h1v1h-1zM20 17h1v1h-1z"/>
<path fill="#4f4f4f" d="M22 11h2v1h-2zM6 16h1v1h-1zM15 17h1v1h-1z"/>
<path fill="#505050" d="M15 11h1v1h-1zM12 13h1v1h-1zM9 14h1v1h-1z"/>
<path fill="#525252" d="M7 15h1v1h-1zM21 17h1v1h-1zM13 18h1v1h-1zM11 20h1v1h-1z"/>
<path fill="#535353" d="M21 11h1v1h-1zM7 18h1v1h-1zM12 19h1v1h-1zM9 20h1v1h-1z"/>
<path fill="#545454" d="M24 11h1v1h-1zM10 14h1v1h-1zM14 17h1v1h-1zM23 18h1v1h-1zM28 19h1v1h-1z"/>
<path fill="#555555" d="M22 17h1v1h-1zM8 19h1v1h-1zM10 20h1v1h-1z"/>
<path fill="#565656" d="M14 12h1v1h-1z"/>
<path fill="#575757" d="M13 13h1v1h-1zM11 14h1v1h-1zM16 16h2v1h-2z"/>
<path fill="#585858" d="M16 11h1v1h-1zM20 11h1v1h-1zM8 15h1v1h-1zM7 16h1v1h-1zM7 17h1v1h-1zM24 19h1v1h-1z"/>
<path fill="#595959" d="M28 12h1v1h-1zM15 16h1v1h-1zM18 16h1v1h-1zM25 20h1v1h-1z"/>
<path fill="#5a5a5a" d="M22 12h2v1h-2zM12 14h1v1h-1zM13 17h1v1h-1zM12 18h1v1h-1zM11 19h1v1h-1z"/>
<path fill="#5b5b5b" d="M9 19h1v1h-1z"/>
<path fill="#5c5c5c" d="M17 11h1v1h-1zM25 11h1v1h-1zM9 15h1v1h-1zM14 16h1v1h-1zM19 16h1v1h-1zM8 18h1v1h-1z"/>
<path fill="#5d5d5d" d="M19 11h1v1h-1zM28 13h1v1h-1zM22 16h1v1h-1zM23 17h1v1h-1zM28 18h1v1h-1zM10 19h1v1h-1z"/>
<path fill="#5e5e5e" d="M21 12h1v1h-1zM13 14h1v1h-1zM10 15h1v1h-1zM8 16h1v1h-1z"/>
<path fill="#5f5f5f" d="M18 11h1v1h-1zM24 12h1v1h-1zM11 15h1v1h-1zM13 16h1v1h-1zM21 16h1v1h-1zM8 17h1v1h-1zM12 17h1v1h-1z"/>
<path fill="#606060" d="M14 13h1v1h-1zM22 13h2v1h-2zM12 15h5v1h-5zM20 16h1v1h-1zM11 18h1v1h-1z"/>
<path fill="#616161" d="M15 12h1v1h-1zM22 14h1v1h-1zM22 15h1v1h-1zM12 16h1v1h-1zM28 16h1v1h-1zM28 17h1v1h-1zM9 18h1v1h-1z"/>
<path fill="#626262" d="M14 14h1v1h-1zM23 14h1v1h-1zM28 14h1v1h-1zM9 16h1v1h-1zM23 16h1v1h-1zM10 18h1v1h-1z"/>
<path fill="#636363" d="M17 15h1v1h-1zM23 15h1v1h-1zM28 15h1v1h-1zM10 16h2v1h-2zM11 17h1v1h-1z"/>
<path fill="#646464" d="M9 17h1v1h-1zM24 18h1v1h-1z"/>
<path fill="#656565" d="M26 11h2v1h-2zM20 12h1v1h-1zM21 13h1v1h-1zM15 14h1v1h-1zM10 17h1v1h-1zM27 20h1v1h-1z"/>
<path fill="#666666" d="M18 15h1v1h-1zM21 15h1v1h-1z"/>
<path fill="#676767" d="M21 14h1v1h-1z"/>
<path fill="#686868" d="M15 13h1v1h-1zM24 13h1v1h-1z"/>
<path fill="#696969" d="M16 12h1v1h-1zM16 14h1v1h-1z"/>
<path fill="#6a6a6a" d="M25 12h1v1h-1zM19 15h1v1h-1zM25 19h1v1h-1zM26 20h1v1h-1z"/>
<path fill="#6b6b6b" d="M20 15h1v1h-1z"/>
<path fill="#6c6c6c" d="M19 12h1v1h-1zM20 13h1v1h-1zM24 17h1v1h-1z"/>
<path fill="#6d6d6d" d="M17 12h1v1h-1zM17 14h1v1h-1z"/>
<path fill="#6e6e6e" d="M16 13h1v1h-1zM20 14h1v1h-1zM24 14h1v1h-1z"/>
<path fill="#707070" d="M18 12h1v1h-1zM24 15h1v1h-1zM24 16h1v1h-1z"/>
<path fill="#717171" d="M18 14h1v1h-1z"/>
<path fill="#727272" d="M17 13h1v1h-1zM19 14h1v1h-1z"/>
<path fill="#737373" d="M19 13h1v1h-1z"/>
<path fill="#757575" d="M27 19h1v1h-1z"/>
<path fill="#767676" d="M18 13h1v1h-1zM25 13h1v1h-1zM25 18h1v1h-1z"/>
<path fill="#777777" d="M26 12h1v1h-1z"/>
<path fill="#787878" d="M27 12h1v1h-1z"/>
<path fill="#7a7a7a" d="M26 19h1v1h-1z"/>
<path fill="#7e7e7e" d="M25 14h1v1h-1zM25 17h1v1h-1z"/>
<path fill="#808080" d="M27 13h1v1h-1zM27 18h1v1h-1z"/>
<path fill="#838383" d="M26 13h1v1h-1zM25 15h1v1h-1zM25 16h1v1h-1z"/>
<path fill="#848484" d="M26 18h1v1h-1z"/>
<path fill="#858585" d="M27 17h1v1h-1z"/>
<path fill="#868686" d="M27 14h1v1h-1zM27 16h1v1h-1z"/>
<path fill="#878787" d="M27 15h1v1h-1z"/>
<path fill="#8b8b8b" d="M26 14h1v1h-1zM26 17h1v1h-1z"/>
<path fill="#8e8e8e" d="M26 16h1v1h-1z"/>
<path fill="#8f8f8f" d="M26 15h1v1h-1z"/>
</g></g></g>
<g clip-path="url(#cp21)"><g filter="url(#hot)">
<rect x="242.30" y="497.02" width="185.54" height="231.56" fill="#000"/>
<g transform="translate(242.304 497.022) scale(5.79821 5.78889)" shape-rendering="crispEdges">
<path fill="#010101" d="M0 1h6v1h-6zM31 11h1v1h-1zM31 17h1v1h-1zM0 19h1v1h-1zM0 20h1v1h-1zM10 20h7v1h-7zM21 20h2v1h-2zM30 20h1v1h-1zM0 21h1v1h-1zM9 22h1v1h-1zM0 23h1v1h-1zM9 23h1v1h-1zM9 24h1v1h-1zM9 25h1v1h-1zM9 26h1v1h-1zM9 27h1v1h-1zM9 28h1v1h-1zM10 31h1v1h-1zM11 32h1v1h-1zM13 33h1v1h-1zM14 35h1v1h-1zM14 36h1v1h-1zM15 38h1v1h-1zM15 39h1v1h-1z"/>
<path fill="#020202" d="M6 0h1v1h-1zM6 1h1v1h-1zM0 2h1v1h-1zM4 2h2v1h-2zM31 6h1v1h-1zM0 15h1v1h-1zM17 19h3v1h-3zM23 20h1v1h-1zM9 21h1v1h-1zM0 28h1v1h-1zM0 29h1v1h-1zM9 29h1v1h-1zM12 33h1v1h-1zM13 34h1v1h-1zM14 37h1v1h-1zM14 38h1v1h-1z"/>
<path fill="#030303" d="M7 0h1v1h-1zM7 1h1v1h-1zM1 2h3v1h-3zM6 2h2v1h-2zM5 3h1v1h-1zM7 3h2v1h-2zM31 16h1v1h-1zM15 19h2v1h-2zM20 19h1v1h-1zM24 20h2v1h-2zM29 20h1v1h-1zM0 24h1v1h-1zM0 27h1v1h-1zM0 30h1v1h-1zM13 35h1v1h-1zM14 39h1v1h-1z"/>
<path fill="#040404" d="M8 1h1v1h-1zM8 2h1v1h-1zM0 3h1v1h-1zM4 3h1v1h-1zM6 3h1v1h-1zM0 4h1v1h-1zM7 4h2v1h-2zM31 12h1v1h-1zM10 19h5v1h-5zM21 19h1v1h-1zM30 19h1v1h-1zM9 20h1v1h-1zM26 20h3v1h-3zM0 25h1v1h-1zM0 26h1v1h-1zM9 30h1v1h-1zM0 31h1v1h-1zM0 32h1v1h-1zM10 32h1v1h-1zM13 36h1v1h-1z"/>
<path fill="#050505" d="M8 0h1v1h-1zM1 3h1v1h-1zM5 4h2v1h-2zM0 5h1v1h-1zM31 5h1v1h-1zM0 14h1v1h-1zM18 18h1v1h-1zM8 23h1v1h-1zM8 24h1v1h-1zM8 25h1v1h-1zM8 26h1v1h-1zM8 27h1v1h-1zM0 33h1v1h-1zM11 33h1v1h-1zM12 34h1v1h-1zM13 37h1v1h-1z"/>
<path fill="#060606" d="M9 2h1v1h-1zM2 3h2v1h-2zM9 3h1v1h-1zM1 4h1v1h-1zM9 4h1v1h-1zM8 5h1v1h-1zM0 6h1v1h-1zM17 18h1v1h-1zM19 18h1v1h-1zM22 19h1v1h-1zM8 22h1v1h-1zM8 28h1v1h-1zM9 31h1v1h-1zM13 38h1v1h-1zM0 39h1v1h-1zM13 39h1v1h-1z"/>
<path fill="#070707" d="M9 1h1v1h-1zM4 4h1v1h-1zM1 5h1v1h-1zM7 5h1v1h-1zM9 5h1v1h-1zM30 7h1v1h-1zM30 8h1v1h-1zM31 13h1v1h-1zM31 15h1v1h-1zM16 18h1v1h-1zM20 18h1v1h-1zM30 18h1v1h-1zM9 19h1v1h-1z"/>
<path fill="#080808" d="M10 3h1v1h-1zM2 4h1v1h-1zM10 4h1v1h-1zM6 5h1v1h-1zM10 5h1v1h-1zM0 7h1v1h-1zM30 9h1v1h-1zM30 10h1v1h-1zM31 14h1v1h-1zM14 18h2v1h-2zM23 19h1v1h-1zM8 21h1v1h-1zM8 29h1v1h-1zM0 34h1v1h-1zM12 35h1v1h-1z"/>
<path fill="#090909" d="M9 0h1v1h-1zM3 4h1v1h-1zM31 4h1v1h-1zM2 5h1v1h-1zM5 5h1v1h-1zM1 6h1v1h-1zM9 6h1v1h-1zM0 13h1v1h-1zM10 18h4v1h-4zM21 18h1v1h-1zM29 19h1v1h-1zM10 33h1v1h-1zM0 38h1v1h-1z"/>
<path fill="#0a0a0a" d="M10 2h1v1h-1zM11 4h1v1h-1zM4 5h1v1h-1zM8 6h1v1h-1zM10 6h1v1h-1zM30 6h1v1h-1zM1 17h1v1h-1zM17 17h3v1h-3zM9 18h1v1h-1zM24 19h1v1h-1zM8 20h1v1h-1zM9 32h1v1h-1zM11 34h1v1h-1zM12 36h1v1h-1zM12 39h1v1h-1z"/>
<path fill="#0b0b0b" d="M10 1h1v1h-1zM31 3h1v1h-1zM3 5h1v1h-1zM11 5h1v1h-1zM2 6h1v1h-1zM7 6h1v1h-1zM0 8h1v1h-1zM30 11h1v1h-1zM16 17h1v1h-1zM30 17h1v1h-1zM8 30h1v1h-1zM0 35h1v1h-1zM0 37h1v1h-1zM12 37h1v1h-1zM12 38h1v1h-1z"/>
<path fill="#0c0c0c" d="M11 3h1v1h-1zM11 6h1v1h-1zM1 7h1v1h-1zM9 7h1v1h-1zM1 16h1v1h-1zM15 17h1v1h-1zM20 17h1v1h-1zM1 18h1v1h-1zM8 19h1v1h-1zM25 19h1v1h-1zM1 22h1v1h-1zM0 36h1v1h-1z"/>
<path fill="#0d0d0d" d="M10 0h1v1h-1zM31 2h1v1h-1zM6 6h1v1h-1zM8 7h1v1h-1zM10 7h1v1h-1zM0 12h1v1h-1zM22 18h1v1h-1zM28 19h1v1h-1zM1 23h1v1h-1zM1 28h1v1h-1zM1 39h1v1h-1z"/>
<path fill="#0e0e0e" d="M31 0h1v1h-1zM31 1h1v1h-1zM11 2h1v1h-1zM12 4h1v1h-1zM12 5h1v1h-1zM30 5h1v1h-1zM3 6h1v1h-1zM5 6h1v1h-1zM11 7h1v1h-1zM0 9h1v1h-1zM17 16h2v1h-2zM10 17h5v1h-5zM8 18h1v1h-1zM26 19h1v1h-1zM1 21h1v1h-1zM7 24h1v1h-1zM7 25h1v1h-1zM7 26h1v1h-1zM1 27h1v1h-1zM7 27h1v1h-1zM1 29h1v1h-1zM11 35h1v1h-1z"/>
<path fill="#0f0f0f" d="M4 6h1v1h-1zM12 6h1v1h-1zM2 7h1v1h-1zM10 8h1v1h-1zM1 15h1v1h-1zM16 16h1v1h-1zM19 16h1v1h-1zM9 17h1v1h-1zM1 19h1v1h-1zM27 19h1v1h-1zM7 23h1v1h-1zM1 24h1v1h-1zM7 28h1v1h-1zM1 30h1v1h-1zM1 31h1v1h-1zM8 31h1v1h-1zM1 32h1v1h-1zM11 39h1v1h-1z"/>
<path fill="#101010" d="M12 3h1v1h-1zM7 7h1v1h-1zM1 8h1v1h-1zM9 8h1v1h-1zM11 8h1v1h-1zM0 10h1v1h-1zM0 11h1v1h-1zM30 12h1v1h-1zM30 16h1v1h-1zM21 17h1v1h-1zM29 18h1v1h-1zM1 20h1v1h-1zM7 22h1v1h-1zM1 26h1v1h-1zM1 33h1v1h-1zM10 34h1v1h-1zM1 38h1v1h-1zM11 38h1v1h-1z"/>
<path fill="#111111" d="M11 1h1v1h-1zM30 4h1v1h-1zM12 7h1v1h-1zM29 7h1v1h-1zM15 16h1v1h-1zM8 17h1v1h-1zM23 18h1v1h-1zM1 25h1v1h-1zM9 33h1v1h-1zM11 36h1v1h-1zM11 37h1v1h-1z"/>
<path fill="#121212" d="M8 8h1v1h-1zM12 8h1v1h-1zM29 8h1v1h-1zM10 9h2v1h-2zM1 14h1v1h-1zM10 16h3v1h-3zM20 16h1v1h-1zM7 29h1v1h-1z"/>
<path fill="#131313" d="M11 0h1v1h-1zM30 3h1v1h-1zM3 7h1v1h-1zM6 7h1v1h-1zM9 9h1v1h-1zM12 9h1v1h-1zM29 9h1v1h-1zM13 10h1v1h-1zM29 10h1v1h-1zM16 15h2v1h-2zM9 16h1v1h-1zM13 16h2v1h-2zM7 21h1v1h-1zM8 32h1v1h-1zM1 34h1v1h-1zM2 39h1v1h-1z"/>
<path fill="#141414" d="M30 0h1v1h-1zM30 1h1v1h-1zM12 2h1v1h-1zM30 2h1v1h-1zM13 4h1v1h-1zM13 5h1v1h-1zM13 6h1v1h-1zM13 7h1v1h-1zM13 8h1v1h-1zM13 9h2v1h-2zM11 10h2v1h-2zM14 10h1v1h-1zM13 11h1v1h-1zM30 13h1v1h-1zM18 15h1v1h-1zM1 37h1v1h-1zM10 39h1v1h-1z"/>
<path fill="#151515" d="M29 6h1v1h-1zM4 7h2v1h-2zM7 8h1v1h-1zM10 10h1v1h-1zM11 11h2v1h-2zM14 11h1v1h-1zM1 13h1v1h-1zM10 15h3v1h-3zM15 15h1v1h-1zM30 15h1v1h-1zM22 17h1v1h-1zM24 18h1v1h-1zM7 20h1v1h-1z"/>
<path fill="#161616" d="M2 8h1v1h-1zM1 9h1v1h-1zM15 10h1v1h-1zM29 11h1v1h-1zM12 12h3v1h-3zM30 14h1v1h-1zM9 15h1v1h-1zM13 15h2v1h-2zM19 15h1v1h-1zM8 16h1v1h-1zM21 16h1v1h-1zM7 19h1v1h-1zM7 30h1v1h-1zM1 35h1v1h-1zM10 35h1v1h-1zM1 36h1v1h-1zM10 38h1v1h-1z"/>
<path fill="#171717" d="M12 1h1v1h-1zM13 3h1v1h-1zM14 8h1v1h-1zM8 9h1v1h-1zM15 9h1v1h-1zM9 10h1v1h-1zM10 11h1v1h-1zM15 11h1v1h-1zM11 12h1v1h-1zM11 13h4v1h-4zM10 14h7v1h-7zM7 18h1v1h-1zM10 37h1v1h-1zM2 38h1v1h-1zM3 39h1v1h-1z"/>
<path fill="#181818" d="M14 7h1v1h-1zM10 12h1v1h-1zM15 12h1v1h-1zM10 13h1v1h-1zM15 13h1v1h-1zM17 14h1v1h-1zM29 17h1v1h-1zM2 28h1v1h-1zM9 34h1v1h-1zM10 36h1v1h-1zM9 39h1v1h-1z"/>
<path fill="#191919" d="M12 0h1v1h-1zM29 0h1v1h-1zM29 5h1v1h-1zM1 10h1v1h-1zM1 12h1v1h-1zM9 14h1v1h-1zM20 15h1v1h-1zM7 17h1v1h-1zM25 18h1v1h-1zM2 22h1v1h-1zM2 23h1v1h-1zM2 29h1v1h-1zM7 31h1v1h-1zM2 32h1v1h-1z"/>
<path fill="#1a1a1a" d="M29 1h1v1h-1zM14 6h1v1h-1zM6 8h1v1h-1zM1 11h1v1h-1zM9 11h1v1h-1zM16 13h1v1h-1zM18 14h1v1h-1zM8 15h1v1h-1zM23 17h1v1h-1zM28 18h1v1h-1zM6 26h1v1h-1zM2 27h1v1h-1zM6 27h1v1h-1zM2 31h1v1h-1zM8 33h1v1h-1zM9 38h1v1h-1zM4 39h1v1h-1zM8 39h1v1h-1z"/>
<path fill="#1b1b1b" d="M13 2h1v1h-1zM29 2h1v1h-1zM29 3h1v1h-1zM29 4h1v1h-1zM14 5h1v1h-1zM3 8h1v1h-1zM15 8h1v1h-1zM7 9h1v1h-1zM8 10h1v1h-1zM9 12h1v1h-1zM9 13h1v1h-1zM22 16h1v1h-1zM2 17h1v1h-1zM6 24h1v1h-1zM6 25h1v1h-1zM6 28h1v1h-1zM2 30h1v1h-1zM2 33h1v1h-1z"/>
<path fill="#1c1c1c" d="M28 0h1v1h-1zM29 12h1v1h-1zM6 23h1v1h-1zM2 24h1v1h-1zM2 37h1v1h-1zM5 39h3v1h-3z"/>
<path fill="#1d1d1d" d="M14 4h1v1h-1zM5 8h1v1h-1zM2 9h1v1h-1zM16 12h1v1h-1zM8 14h1v1h-1zM19 14h1v1h-1zM21 15h1v1h-1zM2 16h1v1h-1zM2 18h1v1h-1zM26 18h1v1h-1zM2 21h1v1h-1zM2 26h1v1h-1zM7 32h1v1h-1zM9 35h1v1h-1zM9 37h1v1h-1zM3 38h1v1h-1z"/>
<path fill="#1e1e1e" d="M13 1h1v1h-1zM28 1h1v1h-1zM15 7h1v1h-1zM4 8h1v1h-1zM17 13h1v1h-1zM7 16h1v1h-1zM6 22h1v1h-1zM2 25h1v1h-1zM6 29h1v1h-1zM9 36h1v1h-1zM8 38h1v1h-1z"/>
<path fill="#1f1f1f" d="M27 0h1v1h-1zM16 10h1v1h-1zM8 11h1v1h-1zM16 11h1v1h-1zM2 15h1v1h-1zM27 18h1v1h-1z"/>
<path fill="#202020" d="M13 0h1v1h-1zM28 2h1v1h-1zM16 9h1v1h-1zM8 12h1v1h-1zM8 13h1v1h-1zM2 14h1v1h-1zM29 16h1v1h-1zM24 17h1v1h-1zM2 19h1v1h-1zM2 20h1v1h-1zM6 21h1v1h-1zM2 34h1v1h-1zM2 36h1v1h-1zM4 38h1v1h-1zM7 38h1v1h-1z"/>
<path fill="#212121" d="M26 0h1v1h-1zM27 1h1v1h-1zM14 3h1v1h-1zM15 6h1v1h-1zM6 9h1v1h-1zM7 10h1v1h-1zM29 13h1v1h-1zM20 14h1v1h-1zM23 16h1v1h-1zM6 30h1v1h-1zM8 34h1v1h-1zM8 37h1v1h-1zM6 38h1v1h-1z"/>
<path fill="#222222" d="M24 0h2v1h-2zM28 3h1v1h-1zM28 7h1v1h-1zM2 10h1v1h-1zM28 10h1v1h-1zM2 13h1v1h-1zM18 13h1v1h-1zM7 15h1v1h-1zM22 15h1v1h-1zM6 20h1v1h-1zM5 38h1v1h-1z"/>
<path fill="#232323" d="M21 0h3v1h-3zM26 1h1v1h-1zM15 5h1v1h-1zM28 8h1v1h-1zM28 9h1v1h-1zM3 28h1v1h-1zM6 31h1v1h-1zM7 33h1v1h-1zM2 35h1v1h-1zM3 37h1v1h-1z"/>
<path fill="#242424" d="M20 0h1v1h-1zM25 1h1v1h-1zM27 2h1v1h-1zM16 8h1v1h-1zM3 9h1v1h-1zM28 11h1v1h-1zM2 12h1v1h-1zM17 12h1v1h-1zM6 19h1v1h-1zM3 32h1v1h-1zM8 36h1v1h-1z"/>
<path fill="#252525" d="M21 1h4v1h-4zM14 2h1v1h-1zM28 4h1v1h-1zM28 6h1v1h-1zM2 11h1v1h-1zM7 14h1v1h-1zM21 14h1v1h-1zM29 14h1v1h-1zM25 17h1v1h-1zM3 23h1v1h-1zM3 27h1v1h-1zM3 29h1v1h-1zM3 31h1v1h-1zM6 32h1v1h-1zM8 35h1v1h-1zM7 37h1v1h-1z"/>
<path fill="#262626" d="M19 0h1v1h-1zM14 1h1v1h-1zM20 1h1v1h-1zM26 2h1v1h-1zM15 4h1v1h-1zM28 5h1v1h-1zM5 9h1v1h-1zM7 11h1v1h-1zM19 13h1v1h-1zM29 15h1v1h-1zM6 18h1v1h-1zM5 24h1v1h-1zM5 27h1v1h-1zM5 28h1v1h-1zM3 30h1v1h-1zM3 33h1v1h-1z"/>
<path fill="#272727" d="M14 0h1v1h-1zM21 2h2v1h-2zM25 2h1v1h-1zM27 3h1v1h-1zM16 7h1v1h-1zM7 13h1v1h-1zM23 15h1v1h-1zM24 16h1v1h-1zM3 22h1v1h-1zM5 23h1v1h-1zM5 25h1v1h-1zM5 26h1v1h-1zM6 37h1v1h-1z"/>
<path fill="#282828" d="M19 1h1v1h-1zM20 2h1v1h-1zM23 2h2v1h-2zM4 9h1v1h-1zM7 12h1v1h-1zM3 24h1v1h-1zM5 29h1v1h-1zM4 37h1v1h-1z"/>
<path fill="#292929" d="M18 0h1v1h-1zM19 2h1v1h-1zM15 3h1v1h-1zM16 6h1v1h-1zM6 10h1v1h-1zM28 12h1v1h-1zM22 14h1v1h-1zM6 17h1v1h-1zM28 17h1v1h-1zM5 22h1v1h-1zM3 25h1v1h-1zM3 26h1v1h-1zM4 28h1v1h-1zM5 37h1v1h-1z"/>
<path fill="#2a2a2a" d="M18 1h1v1h-1zM26 3h1v1h-1zM17 11h1v1h-1zM3 21h1v1h-1zM5 30h1v1h-1zM5 31h1v1h-1zM4 32h2v1h-2zM6 33h1v1h-1zM7 34h1v1h-1zM7 36h1v1h-1z"/>
<path fill="#2b2b2b" d="M15 0h1v1h-1zM17 0h1v1h-1zM18 2h1v1h-1zM20 3h6v1h-6zM16 5h1v1h-1zM3 10h1v1h-1zM18 12h1v1h-1zM20 13h1v1h-1zM4 23h1v1h-1zM4 27h1v1h-1zM4 29h1v1h-1zM3 36h1v1h-1z"/>
<path fill="#2c2c2c" d="M15 1h1v1h-1zM17 1h1v1h-1zM15 2h1v1h-1zM19 3h1v1h-1zM16 4h1v1h-1zM27 4h1v1h-1zM17 10h1v1h-1zM26 17h1v1h-1zM5 21h1v1h-1zM4 24h1v1h-1zM4 31h1v1h-1z"/>
<path fill="#2d2d2d" d="M16 0h1v1h-1zM16 1h1v1h-1zM17 2h1v1h-1zM16 3h1v1h-1zM18 3h1v1h-1zM23 14h1v1h-1zM24 15h1v1h-1zM25 16h1v1h-1zM4 22h1v1h-1zM4 25h1v1h-1zM4 30h1v1h-1zM7 35h1v1h-1z"/>
<path fill="#2e2e2e" d="M16 2h1v1h-1zM17 3h1v1h-1zM17 9h1v1h-1zM6 11h1v1h-1zM28 13h1v1h-1zM6 16h1v1h-1zM3 20h1v1h-1zM5 20h1v1h-1zM4 26h1v1h-1zM4 33h1v1h-1zM3 34h1v1h-1z"/>
<path fill="#2f2f2f" d="M17 4h1v1h-1zM26 4h1v1h-1zM5 10h1v1h-1zM3 11h1v1h-1zM19 12h1v1h-1zM21 13h1v1h-1zM5 33h1v1h-1zM6 36h1v1h-1z"/>
<path fill="#303030" d="M23 4h3v1h-3zM17 7h1v1h-1zM17 8h1v1h-1zM4 10h1v1h-1zM3 12h1v1h-1zM3 13h1v1h-1zM27 17h1v1h-1z"/>
<path fill="#313131" d="M18 4h5v1h-5zM17 5h1v1h-1zM27 5h1v1h-1zM17 6h1v1h-1zM6 12h1v1h-1zM6 15h1v1h-1zM3 19h1v1h-1zM5 19h1v1h-1zM4 21h1v1h-1z"/>
<path fill="#323232" d="M27 10h1v1h-1zM27 11h1v1h-1zM6 13h1v1h-1zM22 13h1v1h-1zM3 14h1v1h-1zM6 14h1v1h-1zM25 15h1v1h-1zM3 18h1v1h-1zM3 35h1v1h-1z"/>
<path fill="#333333" d="M24 14h1v1h-1zM28 14h1v1h-1zM3 17h1v1h-1zM4 36h1v1h-1z"/>
<path fill="#343434" d="M27 6h1v1h-1zM27 9h1v1h-1zM18 11h1v1h-1zM28 16h1v1h-1zM4 20h1v1h-1zM6 34h1v1h-1zM5 36h1v1h-1z"/>
<path fill="#353535" d="M18 5h1v1h-1zM27 7h1v1h-1zM4 11h2v1h-2zM20 12h1v1h-1zM27 12h1v1h-1zM23 13h1v1h-1zM3 15h1v1h-1zM3 16h1v1h-1zM26 16h1v1h-1zM5 18h1v1h-1z"/>
<path fill="#363636" d="M26 5h1v1h-1zM27 8h1v1h-1z"/>
<path fill="#373737" d="M19 5h1v1h-1zM27 13h1v1h-1zM25 14h1v1h-1zM28 15h1v1h-1zM4 19h1v1h-1zM6 35h1v1h-1z"/>
<path fill="#383838" d="M25 5h1v1h-1zM18 6h1v1h-1zM18 10h1v1h-1zM4 12h2v1h-2z"/>
<path fill="#393939" d="M20 5h1v1h-1zM24 13h1v1h-1zM26 15h1v1h-1z"/>
<path fill="#3a3a3a" d="M21 5h1v1h-1zM24 5h1v1h-1zM18 7h1v1h-1zM19 11h1v1h-1zM26 14h2v1h-2zM4 34h1v1h-1z"/>
<path fill="#3b3b3b" d="M22 5h2v1h-2zM18 9h1v1h-1zM21 12h1v1h-1zM25 13h2v1h-2zM27 16h1v1h-1zM5 17h1v1h-1z"/>
<path fill="#3c3c3c" d="M18 8h1v1h-1zM26 12h1v1h-1zM4 13h2v1h-2zM4 18h1v1h-1zM5 34h1v1h-1z"/>
<path fill="#3d3d3d" d="M19 6h1v1h-1zM26 6h1v1h-1zM27 15h1v1h-1z"/>
<path fill="#3e3e3e" d="M26 11h1v1h-1zM22 12h1v1h-1z"/>
<path fill="#404040" d="M26 10h1v1h-1zM20 11h1v1h-1zM25 12h1v1h-1zM4 35h1v1h-1z"/>
<path fill="#414141" d="M23 12h2v1h-2zM4 17h1v1h-1z"/>
<path fill="#424242" d="M20 6h1v1h-1zM25 6h1v1h-1zM26 7h1v1h-1zM19 10h1v1h-1zM5 14h1v1h-1zM5 16h1v1h-1zM5 35h1v1h-1z"/>
<path fill="#434343" d="M19 7h1v1h-1zM26 9h1v1h-1zM4 14h1v1h-1z"/>
<path fill="#444444" d="M26 8h1v1h-1z"/>
<path fill="#464646" d="M21 6h1v1h-1zM24 6h1v1h-1zM19 8h1v1h-1zM19 9h1v1h-1zM25 11h1v1h-1z"/>
<path fill="#474747" d="M21 11h1v1h-1zM5 15h1v1h-1zM4 16h1v1h-1z"/>
<path fill="#494949" d="M22 6h2v1h-2z"/>
<path fill="#4a4a4a" d="M20 10h1v1h-1zM4 15h1v1h-1z"/>
<path fill="#4b4b4b" d="M20 7h1v1h-1zM25 7h1v1h-1zM25 10h1v1h-1zM22 11h1v1h-1zM24 11h1v1h-1z"/>
<path fill="#4d4d4d" d="M23 11h1v1h-1z"/>
<path fill="#4f4f4f" d="M25 8h1v1h-1zM25 9h1v1h-1z"/>
<path fill="#505050" d="M20 8h1v1h-1zM20 9h1v1h-1z"/>
<path fill="#515151" d="M24 7h1v1h-1z"/>
<path fill="#525252" d="M21 7h1v1h-1zM21 10h1v1h-1z"/>
<path fill="#535353" d="M24 10h1v1h-1z"/>
<path fill="#565656" d="M22 7h2v1h-2z"/>
<path fill="#585858" d="M22 10h2v1h-2z"/>
<path fill="#595959" d="M21 8h1v1h-1zM24 8h1v1h-1zM21 9h1v1h-1zM24 9h1v1h-1z"/>
<path fill="#5f5f5f" d="M23 8h1v1h-1z"/>
<path fill="#606060" d="M22 8h1v1h-1zM22 9h2v1h-2z"/>
</g></g></g>
<g clip-path="url(#cp02)"><g filter="url(#hot)">
<rect x="435.45" y="33.16" width="185.54" height="231.56" fill="#000"/>
<g transform="translate(435.454 33.162) scale(5.79821 5.78889)" shape-rendering="crispEdges">
<path fill="#010101" d="M23 0h1v1h-1zM27 0h1v1h-1zM11 12h5v1h-5zM24 13h8v1h-8zM9 14h1v1h-1zM9 15h1v1h-1zM9 16h1v1h-1zM9 17h1v1h-1zM9 22h1v1h-1zM9 23h1v1h-1zM9 24h1v1h-1zM8 26h1v1h-1zM7 27h2v1h-2zM7 28h1v1h-1zM5 29h2v1h-2zM3 30h3v1h-3zM0 31h3v1h-3zM0 32h1v1h-1z"/>
<path fill="#020202" d="M31 4h1v1h-1zM31 7h1v1h-1zM10 12h1v1h-1zM16 12h8v1h-8zM9 18h1v1h-1zM9 19h1v1h-1zM9 20h1v1h-1zM9 21h1v1h-1zM8 24h1v1h-1zM8 25h1v1h-1zM7 26h1v1h-1zM6 28h1v1h-1zM4 29h1v1h-1zM1 30h2v1h-2z"/>
<path fill="#030303" d="M11 11h1v1h-1zM24 12h1v1h-1zM31 12h1v1h-1zM9 13h1v1h-1zM6 27h1v1h-1zM5 28h1v1h-1zM3 29h1v1h-1zM0 30h1v1h-1z"/>
<path fill="#040404" d="M22 0h1v1h-1zM0 7h1v1h-1zM0 8h1v1h-1zM10 11h1v1h-1zM12 11h2v1h-2zM25 12h3v1h-3zM29 12h2v1h-2zM8 15h1v1h-1zM8 23h1v1h-1zM7 25h1v1h-1zM6 26h1v1h-1zM5 27h1v1h-1zM4 28h1v1h-1zM1 29h2v1h-2z"/>
<path fill="#050505" d="M0 6h1v1h-1zM31 8h1v1h-1zM14 11h2v1h-2zM20 11h3v1h-3zM31 11h1v1h-1zM9 12h1v1h-1zM28 12h1v1h-1zM8 14h1v1h-1zM8 16h1v1h-1zM8 22h1v1h-1zM7 24h1v1h-1zM3 28h1v1h-1zM0 29h1v1h-1z"/>
<path fill="#060606" d="M0 9h1v1h-1zM16 11h1v1h-1zM19 11h1v1h-1zM23 11h1v1h-1zM8 17h1v1h-1zM8 21h1v1h-1zM6 25h1v1h-1zM5 26h1v1h-1zM4 27h1v1h-1zM2 28h1v1h-1z"/>
<path fill="#070707" d="M21 0h1v1h-1zM28 0h1v1h-1zM31 9h1v1h-1zM31 10h1v1h-1zM17 11h2v1h-2zM24 11h1v1h-1zM30 11h1v1h-1zM8 18h1v1h-1zM8 19h1v1h-1zM8 20h1v1h-1zM3 27h1v1h-1zM1 28h1v1h-1z"/>
<path fill="#080808" d="M0 0h1v1h-1zM31 3h1v1h-1zM0 5h1v1h-1zM0 10h1v1h-1zM10 10h2v1h-2zM9 11h1v1h-1zM8 13h1v1h-1zM7 23h1v1h-1zM4 26h1v1h-1zM0 28h1v1h-1z"/>
<path fill="#090909" d="M12 10h1v1h-1zM25 11h2v1h-2zM29 11h1v1h-1zM6 24h1v1h-1zM5 25h1v1h-1zM2 27h1v1h-1z"/>
<path fill="#0a0a0a" d="M20 0h1v1h-1zM0 1h1v1h-1zM23 1h2v1h-2zM0 4h1v1h-1zM13 10h1v1h-1zM20 10h3v1h-3zM0 11h1v1h-1zM27 11h2v1h-2zM0 13h1v1h-1zM0 14h1v1h-1zM7 15h1v1h-1zM3 26h1v1h-1zM1 27h1v1h-1z"/>
<path fill="#0b0b0b" d="M25 1h1v1h-1zM0 2h1v1h-1zM0 3h1v1h-1zM9 10h1v1h-1zM23 10h1v1h-1zM30 10h1v1h-1zM0 12h1v1h-1zM7 14h1v1h-1zM0 15h1v1h-1zM7 16h1v1h-1zM7 22h1v1h-1zM4 25h1v1h-1zM0 27h1v1h-1z"/>
<path fill="#0c0c0c" d="M15 0h3v1h-3zM19 0h1v1h-1zM26 1h2v1h-2zM30 6h1v1h-1zM30 7h1v1h-1zM10 9h1v1h-1zM14 10h1v1h-1zM19 10h1v1h-1zM8 12h1v1h-1zM7 17h1v1h-1zM5 24h1v1h-1zM2 26h1v1h-1z"/>
<path fill="#0d0d0d" d="M14 0h1v1h-1zM18 0h1v1h-1zM22 1h1v1h-1zM30 8h1v1h-1zM9 9h1v1h-1zM30 9h1v1h-1zM15 10h1v1h-1zM18 10h1v1h-1zM24 10h1v1h-1zM7 21h1v1h-1zM6 23h1v1h-1zM3 25h1v1h-1zM1 26h1v1h-1z"/>
<path fill="#0e0e0e" d="M1 0h1v1h-1zM30 5h1v1h-1zM11 9h1v1h-1zM16 10h2v1h-2zM29 10h1v1h-1zM0 26h1v1h-1z"/>
<path fill="#0f0f0f" d="M13 0h1v1h-1zM30 4h1v1h-1zM25 10h1v1h-1zM28 10h1v1h-1zM7 13h1v1h-1zM1 14h1v1h-1zM1 15h1v1h-1zM6 15h1v1h-1zM0 16h1v1h-1zM7 18h1v1h-1zM7 20h1v1h-1zM4 24h1v1h-1zM2 25h1v1h-1z"/>
<path fill="#101010" d="M29 0h1v1h-1zM1 1h1v1h-1zM21 1h1v1h-1zM28 1h1v1h-1zM12 9h1v1h-1zM21 9h2v1h-2zM26 10h2v1h-2zM8 11h1v1h-1zM6 16h1v1h-1zM7 19h1v1h-1z"/>
<path fill="#111111" d="M31 2h1v1h-1zM9 8h1v1h-1zM20 9h1v1h-1zM1 13h1v1h-1zM6 14h1v1h-1zM2 15h1v1h-1zM1 16h1v1h-1zM6 22h1v1h-1zM5 23h1v1h-1zM1 25h1v1h-1z"/>
<path fill="#121212" d="M12 0h1v1h-1zM1 2h1v1h-1zM10 8h1v1h-1zM23 9h1v1h-1zM29 9h1v1h-1zM3 24h1v1h-1zM0 25h1v1h-1z"/>
<path fill="#131313" d="M2 0h1v1h-1zM30 3h1v1h-1zM13 9h1v1h-1zM19 9h1v1h-1zM8 10h1v1h-1zM2 14h1v1h-1zM3 15h1v1h-1zM5 15h1v1h-1zM2 16h1v1h-1zM6 17h1v1h-1z"/>
<path fill="#141414" d="M11 0h1v1h-1zM20 1h1v1h-1zM23 2h1v1h-1zM1 3h1v1h-1zM1 6h1v1h-1zM1 7h1v1h-1zM29 8h1v1h-1zM24 9h1v1h-1zM28 9h1v1h-1zM1 12h1v1h-1zM4 15h1v1h-1zM5 16h1v1h-1zM0 17h1v1h-1zM2 24h1v1h-1z"/>
<path fill="#151515" d="M30 0h2v1h-2zM31 1h1v1h-1zM24 2h1v1h-1zM1 4h1v1h-1zM1 5h1v1h-1zM1 8h1v1h-1zM1 9h1v1h-1zM8 9h1v1h-1zM14 9h1v1h-1zM18 9h1v1h-1zM27 9h1v1h-1zM7 12h1v1h-1zM5 14h1v1h-1zM3 16h1v1h-1zM6 21h1v1h-1zM4 23h1v1h-1z"/>
<path fill="#161616" d="M10 0h1v1h-1zM2 1h1v1h-1zM19 1h1v1h-1zM22 2h1v1h-1zM29 7h1v1h-1zM11 8h1v1h-1zM21 8h1v1h-1zM17 9h1v1h-1zM25 9h2v1h-2zM1 10h1v1h-1zM1 11h1v1h-1zM6 13h1v1h-1zM3 14h1v1h-1zM4 16h1v1h-1zM1 17h1v1h-1zM1 24h1v1h-1z"/>
<path fill="#171717" d="M3 0h1v1h-1zM9 0h1v1h-1zM16 1h1v1h-1zM18 1h1v1h-1zM22 8h1v1h-1zM15 9h2v1h-2zM2 13h1v1h-1zM4 14h1v1h-1zM6 18h1v1h-1zM5 22h1v1h-1zM0 24h1v1h-1z"/>
<path fill="#181818" d="M8 0h1v1h-1zM15 1h1v1h-1zM17 1h1v1h-1zM29 1h1v1h-1zM8 8h1v1h-1zM6 20h1v1h-1zM3 23h1v1h-1z"/>
<path fill="#191919" d="M4 0h1v1h-1zM6 0h2v1h-2zM14 1h1v1h-1zM30 1h1v1h-1zM30 2h1v1h-1zM9 7h1v1h-1zM20 8h1v1h-1zM23 8h1v1h-1zM28 8h1v1h-1zM2 17h1v1h-1zM5 17h1v1h-1zM6 19h1v1h-1zM2 23h1v1h-1z"/>
<path fill="#1a1a1a" d="M5 0h1v1h-1zM13 1h1v1h-1zM2 2h1v1h-1zM21 2h1v1h-1zM12 8h1v1h-1zM0 18h1v1h-1z"/>
<path fill="#1b1b1b" d="M3 1h1v1h-1zM25 2h1v1h-1zM27 8h1v1h-1zM7 11h1v1h-1zM5 13h1v1h-1zM3 17h1v1h-1zM4 22h1v1h-1zM0 23h2v1h-2z"/>
<path fill="#1c1c1c" d="M12 1h1v1h-1zM29 6h1v1h-1zM8 7h1v1h-1zM10 7h1v1h-1zM19 8h1v1h-1zM24 8h1v1h-1zM3 13h1v1h-1zM4 17h1v1h-1z"/>
<path fill="#1d1d1d" d="M4 1h1v1h-1zM7 1h5v1h-5zM20 2h1v1h-1zM2 3h1v1h-1zM13 8h1v1h-1zM25 8h2v1h-2zM2 12h1v1h-1zM4 13h1v1h-1zM1 18h1v1h-1zM5 21h1v1h-1z"/>
<path fill="#1e1e1e" d="M5 1h2v1h-2zM28 2h2v1h-2zM23 3h1v1h-1zM21 7h1v1h-1zM6 12h1v1h-1zM3 22h1v1h-1z"/>
<path fill="#1f1f1f" d="M3 2h1v1h-1zM22 3h1v1h-1zM22 7h1v1h-1zM28 7h1v1h-1zM18 8h1v1h-1zM5 18h1v1h-1zM0 19h1v1h-1zM0 22h3v1h-3z"/>
<path fill="#202020" d="M19 2h1v1h-1zM2 4h1v1h-1zM14 8h1v1h-1zM17 8h1v1h-1zM7 10h1v1h-1zM2 18h1v1h-1z"/>
<path fill="#212121" d="M6 2h3v1h-3zM20 7h1v1h-1zM23 7h1v1h-1zM16 8h1v1h-1zM5 20h1v1h-1z"/>
<path fill="#222222" d="M4 2h2v1h-2zM26 2h1v1h-1zM21 3h1v1h-1zM29 3h1v1h-1zM8 6h2v1h-2zM11 7h1v1h-1zM15 8h1v1h-1zM1 19h1v1h-1zM0 20h1v1h-1zM0 21h1v1h-1zM4 21h1v1h-1z"/>
<path fill="#232323" d="M9 2h1v1h-1zM18 2h1v1h-1zM24 3h1v1h-1zM2 5h1v1h-1zM7 9h1v1h-1zM2 11h1v1h-1zM3 18h2v1h-2zM5 19h1v1h-1zM1 21h1v1h-1z"/>
<path fill="#242424" d="M16 2h2v1h-2zM27 2h1v1h-1zM3 3h1v1h-1zM7 3h2v1h-2zM2 6h1v1h-1zM1 20h1v1h-1zM2 21h2v1h-2z"/>
<path fill="#252525" d="M10 2h1v1h-1zM15 2h1v1h-1zM6 3h1v1h-1zM22 4h1v1h-1zM29 5h1v1h-1zM21 6h2v1h-2zM24 7h1v1h-1zM27 7h1v1h-1zM2 10h1v1h-1zM3 12h1v1h-1z"/>
<path fill="#262626" d="M11 2h3v1h-3zM20 3h1v1h-1zM7 4h2v1h-2zM8 5h1v1h-1zM12 7h1v1h-1zM19 7h1v1h-1zM7 8h1v1h-1zM2 9h1v1h-1zM5 12h1v1h-1zM2 19h1v1h-1z"/>
<path fill="#272727" d="M14 2h1v1h-1zM5 3h1v1h-1zM9 3h1v1h-1zM23 4h1v1h-1zM7 5h1v1h-1zM2 7h1v1h-1zM7 7h1v1h-1zM6 11h1v1h-1zM2 20h1v1h-1z"/>
<path fill="#282828" d="M4 3h1v1h-1zM6 4h1v1h-1zM21 4h1v1h-1zM22 5h1v1h-1zM7 6h1v1h-1zM10 6h1v1h-1zM23 6h1v1h-1zM25 7h2v1h-2zM2 8h1v1h-1zM4 12h1v1h-1zM4 20h1v1h-1z"/>
<path fill="#292929" d="M29 4h1v1h-1zM9 5h1v1h-1zM21 5h1v1h-1zM20 6h1v1h-1zM13 7h1v1h-1zM18 7h1v1h-1zM3 19h2v1h-2zM3 20h1v1h-1z"/>
<path fill="#2a2a2a" d="M19 3h1v1h-1zM3 4h1v1h-1zM9 4h1v1h-1z"/>
<path fill="#2b2b2b" d="M10 3h1v1h-1zM23 5h1v1h-1zM17 7h1v1h-1z"/>
<path fill="#2c2c2c" d="M20 4h1v1h-1z"/>
<path fill="#2d2d2d" d="M18 3h1v1h-1zM5 4h1v1h-1zM6 5h1v1h-1zM20 5h1v1h-1zM14 7h1v1h-1zM16 7h1v1h-1z"/>
<path fill="#2e2e2e" d="M24 4h1v1h-1zM19 6h1v1h-1zM24 6h1v1h-1z"/>
<path fill="#2f2f2f" d="M11 3h1v1h-1zM4 4h1v1h-1zM11 6h1v1h-1zM15 7h1v1h-1zM6 10h1v1h-1zM3 11h1v1h-1z"/>
<path fill="#303030" d="M17 3h1v1h-1zM10 4h1v1h-1zM10 5h1v1h-1zM28 6h1v1h-1z"/>
<path fill="#313131" d="M19 4h1v1h-1zM3 5h1v1h-1z"/>
<path fill="#323232" d="M12 3h1v1h-1zM25 3h1v1h-1zM19 5h1v1h-1zM5 11h1v1h-1z"/>
<path fill="#333333" d="M16 3h1v1h-1zM24 5h1v1h-1zM18 6h1v1h-1z"/>
<path fill="#343434" d="M6 6h1v1h-1zM12 6h1v1h-1z"/>
<path fill="#353535" d="M13 3h1v1h-1zM18 4h1v1h-1zM5 5h1v1h-1zM25 6h1v1h-1zM6 9h1v1h-1zM3 10h1v1h-1zM4 11h1v1h-1z"/>
<path fill="#363636" d="M11 4h1v1h-1zM17 6h1v1h-1z"/>
<path fill="#373737" d="M15 3h1v1h-1zM11 5h1v1h-1zM18 5h1v1h-1z"/>
<path fill="#383838" d="M3 6h1v1h-1z"/>
<path fill="#393939" d="M14 3h1v1h-1zM4 5h1v1h-1zM13 6h1v1h-1z"/>
<path fill="#3a3a3a" d="M6 7h1v1h-1zM6 8h1v1h-1z"/>
<path fill="#3b3b3b" d="M17 4h1v1h-1zM16 6h1v1h-1zM3 9h1v1h-1z"/>
<path fill="#3c3c3c" d="M12 4h1v1h-1zM26 6h1v1h-1z"/>
<path fill="#3d3d3d" d="M12 5h1v1h-1zM17 5h1v1h-1zM27 6h1v1h-1zM5 10h1v1h-1z"/>
<path fill="#3e3e3e" d="M14 6h1v1h-1z"/>
<path fill="#404040" d="M15 6h1v1h-1zM4 10h1v1h-1z"/>
<path fill="#414141" d="M3 7h1v1h-1z"/>
<path fill="#424242" d="M28 3h1v1h-1zM16 4h1v1h-1zM25 5h1v1h-1zM5 6h1v1h-1z"/>
<path fill="#434343" d="M13 4h1v1h-1zM25 4h1v1h-1zM3 8h1v1h-1z"/>
<path fill="#454545" d="M13 5h1v1h-1zM16 5h1v1h-1z"/>
<path fill="#474747" d="M4 6h1v1h-1zM5 9h1v1h-1z"/>
<path fill="#4c4c4c" d="M26 3h1v1h-1zM14 4h2v1h-2zM4 9h1v1h-1z"/>
<path fill="#4e4e4e" d="M14 5h1v1h-1zM28 5h1v1h-1z"/>
<path fill="#4f4f4f" d="M15 5h1v1h-1z"/>
<path fill="#505050" d="M5 7h1v1h-1z"/>
<path fill="#525252" d="M5 8h1v1h-1z"/>
<path fill="#585858" d="M26 5h1v1h-1zM4 7h1v1h-1z"/>
<path fill="#595959" d="M4 8h1v1h-1z"/>
<path fill="#5e5e5e" d="M27 3h1v1h-1z"/>
<path fill="#626262" d="M28 4h1v1h-1z"/>
<path fill="#676767" d="M27 5h1v1h-1z"/>
<path fill="#686868" d="M26 4h1v1h-1z"/>
<path fill="#888888" d="M27 4h1v1h-1z"/>
</g></g></g>
<g clip-path="url(#cp12)"><g filter="url(#hot)">
<rect x="435.45" y="265.08" width="185.54" height="231.56" fill="#000"/>
<g transform="translate(435.454 265.082) scale(5.79821 5.78889)" shape-rendering="crispEdges">
<path fill="#010101" d="M10 0h1v1h-1zM13 0h1v1h-1zM17 8h3v1h-3zM11 9h3v1h-3zM16 9h1v1h-1zM29 9h2v1h-2zM16 10h1v1h-1zM11 11h1v1h-1zM14 11h2v1h-2zM10 13h1v1h-1zM9 14h1v1h-1zM7 15h2v1h-2zM6 16h1v1h-1zM4 17h1v1h-1zM2 18h2v1h-2zM0 19h2v1h-2z"/>
<path fill="#020202" d="M14 0h1v1h-1zM16 8h1v1h-1zM20 8h1v1h-1zM31 8h1v1h-1zM10 10h1v1h-1zM14 10h2v1h-2zM10 12h1v1h-1zM5 16h1v1h-1zM3 17h1v1h-1zM0 18h2v1h-2z"/>
<path fill="#030303" d="M1 0h1v1h-1zM9 0h1v1h-1zM15 0h3v1h-3zM21 8h2v1h-2zM26 8h2v1h-2zM30 8h1v1h-1zM10 9h1v1h-1zM14 9h2v1h-2zM10 11h1v1h-1zM9 13h1v1h-1zM8 14h1v1h-1zM6 15h1v1h-1zM4 16h1v1h-1zM1 17h2v1h-2z"/>
<path fill="#040404" d="M18 0h1v1h-1zM23 8h1v1h-1zM25 8h1v1h-1zM28 8h2v1h-2zM3 16h1v1h-1zM0 17h1v1h-1z"/>
<path fill="#050505" d="M2 0h1v1h-1zM8 0h1v1h-1zM19 0h1v1h-1zM18 7h2v1h-2zM12 8h1v1h-1zM15 8h1v1h-1zM24 8h1v1h-1zM9 9h1v1h-1zM9 10h1v1h-1zM9 12h1v1h-1zM7 14h1v1h-1zM5 15h1v1h-1zM1 16h2v1h-2z"/>
<path fill="#060606" d="M6 0h2v1h-2zM31 0h1v1h-1zM17 7h1v1h-1zM31 7h1v1h-1zM11 8h1v1h-1zM13 8h1v1h-1zM9 11h1v1h-1zM8 13h1v1h-1zM4 15h1v1h-1zM0 16h1v1h-1z"/>
<path fill="#070707" d="M3 0h3v1h-3zM0 1h1v1h-1zM20 7h1v1h-1zM14 8h1v1h-1zM3 15h1v1h-1z"/>
<path fill="#080808" d="M20 0h1v1h-1zM8 10h1v1h-1zM6 14h1v1h-1zM2 15h1v1h-1z"/>
<path fill="#090909" d="M16 7h1v1h-1zM21 7h1v1h-1zM30 7h1v1h-1zM10 8h1v1h-1zM8 9h1v1h-1zM8 11h1v1h-1zM8 12h1v1h-1zM7 13h1v1h-1zM0 15h2v1h-2z"/>
<path fill="#0a0a0a" d="M31 1h1v1h-1z"/>
<path fill="#0b0b0b" d="M1 1h1v1h-1zM19 1h1v1h-1zM31 6h1v1h-1zM22 7h1v1h-1zM29 7h1v1h-1z"/>
<path fill="#0c0c0c" d="M21 0h1v1h-1zM30 0h1v1h-1zM18 1h1v1h-1zM18 6h2v1h-2zM26 7h3v1h-3zM7 9h1v1h-1zM7 10h1v1h-1zM0 14h1v1h-1zM5 14h1v1h-1z"/>
<path fill="#0d0d0d" d="M17 1h1v1h-1zM20 1h1v1h-1zM0 2h1v1h-1zM9 8h1v1h-1zM7 11h1v1h-1zM7 12h1v1h-1zM1 14h4v1h-4z"/>
<path fill="#0e0e0e" d="M31 2h1v1h-1zM20 6h1v1h-1zM15 7h1v1h-1zM23 7h1v1h-1zM6 13h1v1h-1z"/>
<path fill="#0f0f0f" d="M16 1h1v1h-1zM31 5h1v1h-1zM25 7h1v1h-1zM0 13h1v1h-1z"/>
<path fill="#101010" d="M2 1h1v1h-1zM31 3h1v1h-1zM17 6h1v1h-1zM30 6h1v1h-1zM24 7h1v1h-1zM8 8h1v1h-1zM1 13h1v1h-1z"/>
<path fill="#111111" d="M12 1h1v1h-1zM30 1h1v1h-1zM19 2h1v1h-1zM31 4h1v1h-1zM13 7h2v1h-2zM6 9h1v1h-1zM6 10h1v1h-1zM0 12h1v1h-1zM6 12h1v1h-1z"/>
<path fill="#121212" d="M22 0h1v1h-1zM29 0h1v1h-1zM11 1h1v1h-1zM13 1h1v1h-1zM15 1h1v1h-1zM21 1h1v1h-1zM18 2h1v1h-1zM20 2h1v1h-1zM0 3h1v1h-1zM19 5h1v1h-1zM21 6h1v1h-1zM12 7h1v1h-1zM6 11h1v1h-1zM2 13h1v1h-1zM5 13h1v1h-1z"/>
<path fill="#131313" d="M14 1h1v1h-1zM1 2h1v1h-1zM7 8h1v1h-1zM0 9h1v1h-1zM0 10h1v1h-1zM0 11h1v1h-1zM1 12h1v1h-1zM3 13h1v1h-1z"/>
<path fill="#141414" d="M3 1h1v1h-1zM10 1h1v1h-1zM19 3h1v1h-1zM18 5h1v1h-1zM20 5h1v1h-1zM11 7h1v1h-1zM0 8h1v1h-1zM5 9h1v1h-1zM1 11h1v1h-1zM4 13h1v1h-1z"/>
<path fill="#151515" d="M20 3h1v1h-1zM19 4h1v1h-1zM0 7h1v1h-1zM1 9h1v1h-1zM1 10h1v1h-1zM5 10h1v1h-1zM2 12h1v1h-1zM5 12h1v1h-1z"/>
<path fill="#161616" d="M23 0h1v1h-1zM17 2h1v1h-1zM30 2h1v1h-1zM0 4h1v1h-1zM20 4h1v1h-1zM29 6h1v1h-1zM2 9h1v1h-1zM4 9h1v1h-1zM2 10h1v1h-1zM4 10h1v1h-1zM2 11h1v1h-1zM5 11h1v1h-1zM3 12h1v1h-1z"/>
<path fill="#171717" d="M28 0h1v1h-1zM4 1h2v1h-2zM9 1h1v1h-1zM21 2h1v1h-1zM0 5h1v1h-1zM30 5h1v1h-1zM0 6h1v1h-1zM16 6h1v1h-1zM22 6h1v1h-1zM10 7h1v1h-1zM1 8h1v1h-1zM6 8h1v1h-1zM3 9h1v1h-1zM3 10h1v1h-1zM3 11h2v1h-2zM4 12h1v1h-1z"/>
<path fill="#181818" d="M6 1h1v1h-1zM22 1h1v1h-1zM29 1h1v1h-1zM18 3h1v1h-1z"/>
<path fill="#191919" d="M24 0h1v1h-1zM7 1h2v1h-2zM30 3h1v1h-1zM18 4h1v1h-1zM2 8h1v1h-1zM5 8h1v1h-1z"/>
<path fill="#1a1a1a" d="M27 0h1v1h-1zM2 2h1v1h-1zM1 3h1v1h-1zM30 4h1v1h-1zM21 5h1v1h-1zM1 7h1v1h-1zM3 8h2v1h-2z"/>
<path fill="#1b1b1b" d="M25 0h2v1h-2zM21 3h1v1h-1zM17 5h1v1h-1zM28 6h1v1h-1z"/>
<path fill="#1c1c1c" d="M16 2h1v1h-1zM9 7h1v1h-1z"/>
<path fill="#1d1d1d" d="M21 4h1v1h-1zM1 6h1v1h-1zM15 6h1v1h-1z"/>
<path fill="#1e1e1e" d="M23 1h1v1h-1zM28 1h1v1h-1zM29 2h1v1h-1zM17 3h1v1h-1zM1 4h1v1h-1zM23 6h1v1h-1zM27 6h1v1h-1zM2 7h1v1h-1z"/>
<path fill="#1f1f1f" d="M22 2h1v1h-1zM1 5h1v1h-1zM26 6h1v1h-1z"/>
<path fill="#202020" d="M29 5h1v1h-1zM8 7h1v1h-1z"/>
<path fill="#212121" d="M24 1h1v1h-1zM3 2h1v1h-1zM17 4h1v1h-1zM14 6h1v1h-1zM24 6h1v1h-1z"/>
<path fill="#222222" d="M27 1h1v1h-1zM15 2h1v1h-1zM2 3h1v1h-1zM25 6h1v1h-1zM3 7h1v1h-1zM7 7h1v1h-1z"/>
<path fill="#232323" d="M25 1h2v1h-2zM29 3h1v1h-1zM22 5h1v1h-1z"/>
<path fill="#242424" d="M13 6h1v1h-1z"/>
<path fill="#252525" d="M14 2h1v1h-1zM22 3h1v1h-1zM29 4h1v1h-1zM16 5h1v1h-1zM2 6h1v1h-1zM6 7h1v1h-1z"/>
<path fill="#262626" d="M13 2h1v1h-1zM23 2h1v1h-1zM28 2h1v1h-1zM4 7h2v1h-2z"/>
<path fill="#272727" d="M12 2h1v1h-1z"/>
<path fill="#282828" d="M4 2h1v1h-1zM16 3h1v1h-1zM2 4h1v1h-1zM22 4h1v1h-1zM12 6h1v1h-1z"/>
<path fill="#292929" d="M11 2h1v1h-1zM2 5h1v1h-1z"/>
<path fill="#2a2a2a" d="M5 2h1v1h-1zM10 2h1v1h-1zM24 2h1v1h-1zM27 2h1v1h-1z"/>
<path fill="#2b2b2b" d="M6 2h1v1h-1zM25 2h1v1h-1zM28 5h1v1h-1z"/>
<path fill="#2c2c2c" d="M9 2h1v1h-1zM26 2h1v1h-1zM11 6h1v1h-1z"/>
<path fill="#2d2d2d" d="M7 2h1v1h-1zM3 3h1v1h-1zM16 4h1v1h-1zM23 5h1v1h-1z"/>
<path fill="#2e2e2e" d="M8 2h1v1h-1zM3 6h1v1h-1zM10 6h1v1h-1z"/>
<path fill="#2f2f2f" d="M23 3h1v1h-1zM28 3h1v1h-1zM15 5h1v1h-1z"/>
<path fill="#313131" d="M15 3h1v1h-1z"/>
<path fill="#323232" d="M9 6h1v1h-1z"/>
<path fill="#333333" d="M24 3h1v1h-1zM28 4h1v1h-1zM24 5h1v1h-1zM27 5h1v1h-1z"/>
<path fill="#343434" d="M23 4h1v1h-1z"/>
<path fill="#353535" d="M25 3h1v1h-1zM27 3h1v1h-1zM14 5h1v1h-1zM8 6h1v1h-1z"/>
<path fill="#363636" d="M26 3h1v1h-1zM25 5h2v1h-2z"/>
<path fill="#373737" d="M3 4h1v1h-1zM3 5h1v1h-1zM7 6h1v1h-1z"/>
<path fill="#383838" d="M14 3h1v1h-1zM15 4h1v1h-1zM4 6h1v1h-1z"/>
<path fill="#3a3a3a" d="M4 3h1v1h-1zM24 4h1v1h-1zM6 6h1v1h-1z"/>
<path fill="#3b3b3b" d="M27 4h1v1h-1z"/>
<path fill="#3c3c3c" d="M13 5h1v1h-1zM5 6h1v1h-1z"/>
<path fill="#3d3d3d" d="M25 4h1v1h-1z"/>
<path fill="#3e3e3e" d="M26 4h1v1h-1z"/>
<path fill="#3f3f3f" d="M13 3h1v1h-1z"/>
<path fill="#404040" d="M14 4h1v1h-1z"/>
<path fill="#414141" d="M5 3h4v1h-4z"/>
<path fill="#434343" d="M9 3h1v1h-1z"/>
<path fill="#464646" d="M8 5h1v1h-1z"/>
<path fill="#474747" d="M9 5h1v1h-1z"/>
<path fill="#484848" d="M10 3h1v1h-1zM12 5h1v1h-1z"/>
<path fill="#494949" d="M12 3h1v1h-1zM7 5h1v1h-1z"/>
<path fill="#4a4a4a" d="M4 5h1v1h-1z"/>
<path fill="#4b4b4b" d="M4 4h1v1h-1zM8 4h1v1h-1zM13 4h1v1h-1zM10 5h1v1h-1z"/>
<path fill="#4d4d4d" d="M7 4h1v1h-1z"/>
<path fill="#4e4e4e" d="M11 3h1v1h-1z"/>
<path fill="#4f4f4f" d="M9 4h1v1h-1zM6 5h1v1h-1zM11 5h1v1h-1z"/>
<path fill="#525252" d="M6 4h1v1h-1z"/>
<path fill="#545454" d="M5 5h1v1h-1z"/>
<path fill="#575757" d="M5 4h1v1h-1z"/>
<path fill="#595959" d="M10 4h1v1h-1z"/>
<path fill="#5d5d5d" d="M12 4h1v1h-1z"/>
<path fill="#656565" d="M11 4h1v1h-1z"/>
</g></g></g>
<g clip-path="url(#cp22)"><g filter="url(#hot)">
<rect x="435.45" y="497.02" width="185.54" height="231.56" fill="#000"/>
<g transform="translate(435.454 497.022) scale(5.79821 5.78889)" shape-rendering="crispEdges">
<path fill="#010101" d="M10 7h2v1h-2zM14 7h11v1h-11zM8 8h1v1h-1zM29 8h2v1h-2zM1 9h6v1h-6zM31 9h1v1h-1z"/>
<path fill="#020202" d="M12 6h3v1h-3zM18 6h3v1h-3zM25 7h2v1h-2zM31 8h1v1h-1zM0 9h1v1h-1z"/>
<path fill="#030303" d="M11 6h1v1h-1zM15 6h3v1h-3zM21 6h2v1h-2zM9 7h1v1h-1zM27 7h3v1h-3zM5 8h1v1h-1zM7 8h1v1h-1z"/>
<path fill="#040404" d="M19 5h1v1h-1zM23 6h1v1h-1zM30 7h2v1h-2zM4 8h1v1h-1zM6 8h1v1h-1z"/>
<path fill="#050505" d="M12 5h7v1h-7zM20 5h2v1h-2zM10 6h1v1h-1zM24 6h1v1h-1zM3 8h1v1h-1z"/>
<path fill="#060606" d="M11 5h1v1h-1zM22 5h1v1h-1zM25 6h1v1h-1zM8 7h1v1h-1zM2 8h1v1h-1z"/>
<path fill="#070707" d="M17 4h4v1h-4zM31 6h1v1h-1zM0 8h2v1h-2z"/>
<path fill="#080808" d="M12 4h5v1h-5zM21 4h1v1h-1zM23 5h1v1h-1zM9 6h1v1h-1zM26 6h5v1h-5z"/>
<path fill="#090909" d="M18 3h2v1h-2zM10 5h1v1h-1zM7 7h1v1h-1z"/>
<path fill="#0a0a0a" d="M13 3h5v1h-5zM20 3h1v1h-1zM11 4h1v1h-1zM22 4h1v1h-1zM24 5h1v1h-1z"/>
<path fill="#0b0b0b" d="M12 3h1v1h-1zM21 3h1v1h-1zM31 5h1v1h-1zM5 7h2v1h-2z"/>
<path fill="#0c0c0c" d="M16 2h5v1h-5zM23 4h1v1h-1zM25 5h1v1h-1zM30 5h1v1h-1zM4 7h1v1h-1z"/>
<path fill="#0d0d0d" d="M0 0h1v1h-1zM13 2h3v1h-3zM11 3h1v1h-1zM22 3h1v1h-1zM10 4h1v1h-1zM29 5h1v1h-1zM8 6h1v1h-1z"/>
<path fill="#0e0e0e" d="M16 1h4v1h-4zM12 2h1v1h-1zM21 2h1v1h-1zM24 4h1v1h-1zM31 4h1v1h-1zM9 5h1v1h-1zM26 5h1v1h-1zM28 5h1v1h-1z"/>
<path fill="#0f0f0f" d="M14 1h2v1h-2zM20 1h1v1h-1zM22 2h1v1h-1zM23 3h1v1h-1zM30 4h1v1h-1zM27 5h1v1h-1zM3 7h1v1h-1z"/>
<path fill="#101010" d="M16 0h4v1h-4zM13 1h1v1h-1zM21 1h1v1h-1zM11 2h1v1h-1zM10 3h1v1h-1zM31 3h1v1h-1z"/>
<path fill="#111111" d="M15 0h1v1h-1zM20 0h1v1h-1zM12 1h1v1h-1zM30 3h1v1h-1zM29 4h1v1h-1zM0 7h3v1h-3z"/>
<path fill="#121212" d="M13 0h2v1h-2zM0 1h1v1h-1zM22 1h1v1h-1zM23 2h1v1h-1zM31 2h1v1h-1zM24 3h1v1h-1zM9 4h1v1h-1zM25 4h1v1h-1z"/>
<path fill="#131313" d="M1 0h1v1h-1zM12 0h1v1h-1zM21 0h1v1h-1zM11 1h1v1h-1zM10 2h1v1h-1zM30 2h1v1h-1zM29 3h1v1h-1zM28 4h1v1h-1zM7 6h1v1h-1z"/>
<path fill="#141414" d="M31 1h1v1h-1zM26 4h2v1h-2z"/>
<path fill="#151515" d="M11 0h1v1h-1zM22 0h1v1h-1zM23 1h1v1h-1zM24 2h1v1h-1zM29 2h1v1h-1zM9 3h1v1h-1zM8 5h1v1h-1z"/>
<path fill="#161616" d="M31 0h1v1h-1zM10 1h1v1h-1zM30 1h1v1h-1zM25 3h1v1h-1zM28 3h1v1h-1zM6 6h1v1h-1z"/>
<path fill="#171717" d="M23 0h1v1h-1zM1 1h1v1h-1zM24 1h1v1h-1zM5 6h1v1h-1z"/>
<path fill="#181818" d="M10 0h1v1h-1zM30 0h1v1h-1zM29 1h1v1h-1zM0 2h1v1h-1zM9 2h1v1h-1zM25 2h1v1h-1zM28 2h1v1h-1zM26 3h2v1h-2z"/>
<path fill="#191919" d="M2 0h1v1h-1zM4 6h1v1h-1z"/>
<path fill="#1a1a1a" d="M24 0h1v1h-1zM29 0h1v1h-1zM25 1h1v1h-1zM28 1h1v1h-1zM26 2h2v1h-2zM8 4h1v1h-1zM0 6h1v1h-1z"/>
<path fill="#1b1b1b" d="M28 0h1v1h-1zM9 1h1v1h-1zM26 1h2v1h-2z"/>
<path fill="#1c1c1c" d="M9 0h1v1h-1zM25 0h1v1h-1zM7 5h1v1h-1z"/>
<path fill="#1d1d1d" d="M26 0h2v1h-2zM1 2h1v1h-1zM0 3h1v1h-1zM8 3h1v1h-1zM1 6h1v1h-1zM3 6h1v1h-1z"/>
<path fill="#1e1e1e" d="M2 1h1v1h-1z"/>
<path fill="#1f1f1f" d="M8 2h1v1h-1zM2 6h1v1h-1z"/>
<path fill="#202020" d="M3 0h1v1h-1zM8 1h1v1h-1zM0 5h1v1h-1z"/>
<path fill="#212121" d="M8 0h1v1h-1zM0 4h1v1h-1z"/>
<path fill="#222222" d="M7 4h1v1h-1zM6 5h1v1h-1z"/>
<path fill="#232323" d="M2 2h1v1h-1zM1 3h1v1h-1z"/>
<path fill="#242424" d="M3 1h1v1h-1zM1 5h1v1h-1z"/>
<path fill="#252525" d="M4 0h1v1h-1zM7 0h1v1h-1zM7 1h1v1h-1zM7 2h1v1h-1zM7 3h1v1h-1z"/>
<path fill="#262626" d="M1 4h1v1h-1zM5 5h1v1h-1z"/>
<path fill="#272727" d="M6 0h1v1h-1z"/>
<path fill="#282828" d="M5 0h1v1h-1zM2 3h1v1h-1zM2 5h1v1h-1zM4 5h1v1h-1z"/>
<path fill="#292929" d="M4 1h1v1h-1zM6 1h1v1h-1zM3 2h1v1h-1zM6 4h1v1h-1zM3 5h1v1h-1z"/>
<path fill="#2b2b2b" d="M5 1h1v1h-1zM6 2h1v1h-1zM6 3h1v1h-1zM2 4h1v1h-1z"/>
<path fill="#2e2e2e" d="M4 2h2v1h-2zM3 3h1v1h-1z"/>
<path fill="#2f2f2f" d="M3 4h1v1h-1zM5 4h1v1h-1z"/>
<path fill="#303030" d="M5 3h1v1h-1z"/>
<path fill="#313131" d="M4 3h1v1h-1zM4 4h1v1h-1z"/>
</g></g></g>
<path d="M167.7 209.8L166.2 210.0L164.7 210.0L162.2 209.8L160.7 209.4L159.2 208.9L156.7 207.6L155.5 206.7L154.2 205.5L152.3 203.2L150.9 200.7L150.3 199.2L149.9 197.7L149.7 194.7L149.8 193.2L150.0 191.7L150.4 190.2L151.0 188.7L152.5 186.2L154.2 184.2L155.3 183.2L156.7 182.2L159.2 180.9L160.7 180.4L162.2 180.0L164.7 179.8L166.2 179.8L167.7 180.0L169.2 180.4L170.7 181.0L173.2 182.4L175.4 184.2L176.4 185.2L177.5 186.7L178.8 189.2L179.3 190.7L179.7 192.2L179.9 193.7L179.9 195.2L179.8 196.7L179.5 198.2L178.7 200.7L177.3 203.2L176.2 204.7L175.3 205.7L173.2 207.4L170.7 208.8L169.2 209.4L167.7 209.8ZM166.7 201.3L165.7 201.5L164.2 201.5L162.7 201.2L161.7 200.8L160.7 200.2L159.7 199.2L159.0 198.2L158.6 197.2L158.2 195.7L158.2 194.2L158.5 192.7L158.9 191.7L159.5 190.7L160.5 189.7L161.7 189.0L162.7 188.6L163.7 188.3L165.2 188.3L166.7 188.5L167.7 188.9L168.7 189.4L169.7 190.3L170.4 191.2L171.1 192.7L171.4 193.7L171.4 195.2L171.2 196.7L170.7 198.1L169.9 199.2L169.2 200.0L168.1 200.7L166.7 201.3ZM172.2 449.2L169.2 449.5L166.7 449.5L163.2 449.1L159.2 448.4L156.2 447.7L153.7 446.8L150.7 445.6L147.9 444.2L144.7 442.2L141.7 440.2L139.3 438.2L137.3 436.2L135.9 434.2L134.9 432.2L134.3 430.2L134.1 428.2L134.1 426.7L134.3 425.2L135.1 422.2L136.8 418.2L138.8 414.2L140.0 412.2L141.4 410.2L146.2 404.0L150.0 398.7L152.2 396.1L153.7 394.6L155.7 393.1L157.7 391.9L159.7 391.1L162.2 390.2L165.2 389.5L168.2 389.0L171.2 388.8L173.7 388.9L175.7 389.2L178.2 389.8L180.2 390.6L182.2 391.7L184.5 393.2L186.4 394.7L188.2 396.4L189.7 398.2L191.1 400.2L192.3 402.2L193.2 404.2L194.0 406.7L194.6 409.2L195.0 411.7L195.1 414.2L195.0 417.2L194.7 421.2L194.0 425.2L193.3 428.7L192.4 431.7L191.3 434.7L190.1 437.2L188.7 439.6L187.2 441.6L185.7 443.1L184.2 444.3L182.2 445.6L179.7 446.9L177.2 447.9L174.7 448.7L172.2 449.2ZM166.2 430.2L164.7 430.4L163.2 430.3L161.7 430.1L160.4 429.7L159.2 429.1L157.7 428.2L156.7 427.3L155.7 426.2L155.0 425.2L154.3 423.7L153.7 421.2L153.6 418.2L154.1 414.7L155.2 410.7L156.7 407.2L157.6 405.7L158.6 404.2L159.7 403.0L160.7 402.0L161.9 401.2L163.2 400.6L164.7 400.0L166.2 399.7L167.7 399.5L169.7 399.4L172.7 399.7L174.7 400.3L176.7 401.4L178.2 402.7L179.4 404.2L180.3 406.2L180.8 408.2L180.9 410.2L180.6 412.7L179.7 415.7L178.2 418.7L176.2 421.8L173.7 425.2L171.8 427.2L170.2 428.5L168.2 429.6L166.2 430.2ZM178.7 699.1L173.7 699.4L171.7 699.3L170.2 699.0L168.7 698.4L167.6 697.6L166.8 696.6L166.5 695.6L166.5 695.1L166.7 694.1L167.7 692.6L169.3 691.1L173.7 688.0L175.1 686.6L176.2 685.4L177.2 684.0L178.3 682.1L179.2 680.1L179.9 678.1L180.4 676.1L180.6 674.1L180.6 672.1L180.2 670.1L179.4 668.1L178.5 666.6L177.1 665.1L176.0 664.1L174.2 663.0L171.9 662.1L169.2 661.4L165.7 660.9L163.2 660.7L160.7 660.8L158.7 661.2L156.7 662.0L155.7 662.6L154.2 663.8L152.9 665.1L151.6 666.6L149.6 669.6L145.7 676.4L143.7 679.5L141.2 682.8L138.2 686.0L135.7 687.9L134.7 688.5L133.2 689.0L131.7 689.3L130.2 689.3L128.7 689.2L127.2 688.8L124.7 687.9L121.7 686.4L119.2 684.7L117.2 683.0L115.2 680.9L113.2 678.5L110.7 674.9L108.2 670.8L106.4 667.6L104.8 664.1L103.3 660.1L102.0 656.1L101.1 652.6L100.5 649.1L100.2 645.6L100.1 642.1L100.3 639.6L100.7 637.1L101.4 634.6L102.2 632.6L103.3 630.6L104.7 628.7L106.2 626.9L108.0 625.1L111.7 622.2L116.2 619.4L120.2 617.3L127.1 614.1L130.2 612.4L133.2 610.3L139.7 605.2L144.3 602.1L148.2 599.9L151.7 598.3L155.7 596.8L159.7 595.7L163.7 594.9L168.2 594.2L177.7 593.2L181.7 593.1L185.2 593.4L188.7 594.0L192.2 595.0L195.2 596.1L197.7 597.4L200.2 599.0L202.6 601.1L204.4 603.1L206.2 605.7L207.9 609.1L209.8 613.6L211.5 618.6L212.8 623.1L213.7 627.1L214.1 630.6L214.2 633.6L213.8 637.6L213.0 642.6L211.8 647.6L210.5 652.1L208.7 657.0L203.4 669.1L198.7 681.7L196.4 686.6L194.7 689.4L192.7 692.1L190.7 694.2L188.7 695.8L186.7 697.1L184.2 698.1L181.7 698.8L178.7 699.1ZM126.2 670.6L123.7 670.9L121.2 670.7L118.7 669.8L117.2 669.0L116.2 668.3L114.2 666.4L112.2 663.9L110.6 661.1L109.2 657.6L108.2 653.6L107.5 649.1L107.3 644.6L107.6 640.6L108.4 637.6L109.5 635.1L111.1 632.6L113.1 630.6L114.7 629.4L116.2 628.4L119.7 626.5L122.7 625.3L130.2 622.6L132.5 621.6L134.7 620.5L137.2 619.0L140.2 616.9L143.2 614.5L149.7 609.1L153.2 606.7L155.7 605.3L158.7 603.8L161.8 602.6L164.9 601.6L169.2 600.7L174.7 600.2L180.2 600.1L185.2 600.6L189.7 601.6L193.2 602.8L194.7 603.6L196.2 604.6L197.4 605.6L198.7 606.9L200.0 608.6L201.1 610.6L202.0 612.6L202.8 615.1L203.5 618.1L204.0 621.6L204.3 625.1L204.4 628.1L204.3 631.1L204.1 633.6L203.6 636.1L202.9 638.6L202.1 640.6L201.2 642.3L199.9 644.1L198.7 645.4L196.7 646.8L194.2 648.0L191.7 648.6L188.7 648.9L186.2 648.9L183.2 648.6L171.7 646.3L168.7 645.8L165.7 645.5L162.7 645.4L159.7 645.6L157.2 646.0L155.2 646.5L153.2 647.4L151.7 648.3L150.2 649.4L148.7 650.7L146.2 653.5L139.2 661.8L137.0 664.1L134.7 666.2L132.7 667.7L130.3 669.1L128.2 670.0L126.2 670.6ZM185.2 638.1L182.2 638.2L179.2 637.9L175.7 637.1L172.2 636.1L168.2 634.5L163.9 632.6L160.3 630.6L157.7 628.7L155.9 627.1L154.8 625.6L154.0 624.1L153.5 622.1L153.5 620.1L154.0 618.1L154.9 616.1L155.9 614.6L157.3 613.1L159.0 611.6L161.2 610.1L162.9 609.1L165.0 608.1L167.2 607.3L169.2 606.8L171.7 606.4L174.2 606.3L176.7 606.4L179.2 606.7L181.7 607.2L184.2 607.9L186.7 608.9L188.7 610.0L190.3 611.1L191.9 612.6L193.0 614.1L194.0 616.1L194.7 618.1L195.2 620.6L195.4 623.1L195.3 626.1L194.9 628.6L194.4 630.6L193.7 632.5L192.7 634.1L191.7 635.3L190.2 636.5L188.7 637.2L187.2 637.7L185.2 638.1ZM124.7 653.6L123.2 653.8L122.0 653.6L120.7 652.8L119.7 651.7L118.7 650.2L117.5 647.6L116.9 645.1L116.6 643.1L116.7 641.1L117.1 639.6L117.7 638.4L118.5 637.1L119.7 636.0L121.2 635.1L122.7 634.6L124.2 634.4L125.7 634.5L127.2 634.9L128.6 635.6L129.7 636.4L130.5 637.6L131.2 638.9L131.6 640.6L131.7 642.1L131.6 644.1L131.2 646.1L130.4 648.1L129.7 649.6L128.7 651.0L127.5 652.1L126.2 653.0L124.7 653.6ZM177.2 623.6L176.2 623.5L174.7 623.1L173.7 622.5L172.6 621.6L172.0 620.6L171.8 619.6L171.9 618.6L172.2 618.1L172.7 617.6L173.7 617.1L174.2 617.0L175.2 616.9L176.2 617.0L177.2 617.3L178.2 617.9L179.4 619.1L179.7 619.6L180.0 620.6L180.0 621.6L179.8 622.1L179.5 622.6L178.9 623.1L178.2 623.5L177.2 623.6ZM313.9 213.8L312.4 213.9L310.9 213.9L309.4 213.5L308.4 213.2L306.9 212.4L305.9 211.7L303.4 209.5L301.9 207.8L300.8 206.2L296.5 199.2L294.4 196.2L291.9 193.2L284.9 185.8L281.9 182.2L279.6 178.7L277.8 175.2L277.0 173.2L276.3 170.7L275.8 168.7L275.4 166.2L275.1 163.7L275.0 161.2L275.1 158.7L275.3 156.2L275.6 153.7L276.2 151.2L276.9 148.7L277.6 146.7L278.5 144.7L279.4 143.2L280.8 141.2L282.0 139.7L283.5 138.2L285.4 136.6L293.9 130.7L300.4 125.5L302.9 123.7L305.3 122.2L307.4 121.3L309.4 120.5L311.9 119.9L314.9 119.4L318.4 119.2L321.9 119.4L325.4 119.9L328.4 120.5L331.4 121.4L333.9 122.2L338.9 124.3L341.4 125.1L343.9 125.6L346.4 125.7L348.4 125.4L349.9 125.0L351.4 124.3L352.9 123.4L355.4 121.3L359.4 117.3L360.9 115.9L362.9 114.4L364.7 113.2L366.7 112.2L368.9 111.4L371.4 110.6L374.4 109.9L379.4 109.1L385.4 108.5L390.4 108.4L394.4 108.6L397.9 109.2L401.4 110.2L403.9 111.4L405.4 112.4L406.4 113.3L407.4 114.3L408.4 115.6L409.1 116.7L409.9 118.3L411.1 121.7L412.1 126.7L412.8 131.7L413.2 136.7L413.7 147.2L414.0 157.2L414.0 163.7L413.9 169.7L413.3 181.2L412.8 186.7L411.3 195.7L410.5 199.7L410.0 201.2L409.4 202.7L408.8 203.7L407.9 204.7L406.9 205.6L405.9 206.1L404.9 206.3L403.9 206.4L402.7 206.2L401.4 205.8L400.4 205.2L399.4 204.4L397.4 202.3L395.6 199.7L393.9 196.8L390.0 189.7L388.8 187.7L387.4 185.8L385.6 183.7L383.5 181.7L381.4 180.0L378.9 178.2L374.9 175.7L370.4 173.3L365.4 170.7L361.4 168.9L358.4 167.8L355.9 167.2L353.4 166.9L351.4 166.9L348.9 167.5L346.4 168.5L343.9 170.3L341.9 172.3L340.6 174.2L339.2 176.7L334.8 187.2L330.9 196.1L329.1 199.7L327.4 202.7L325.9 204.8L324.4 206.5L322.4 208.6L320.4 210.4L318.4 211.8L316.9 212.7L315.4 213.4L313.9 213.8ZM401.9 186.3L400.9 186.4L399.9 186.2L398.9 185.7L397.4 184.7L395.9 183.3L390.6 177.7L385.4 172.6L381.4 169.0L375.0 163.7L372.9 161.7L370.0 158.7L367.3 155.2L365.5 152.2L364.2 149.2L363.6 147.2L363.2 144.7L363.1 142.7L363.2 140.2L363.6 137.7L364.2 135.2L365.0 132.7L366.2 129.7L367.4 127.2L368.5 125.2L369.5 123.7L370.9 122.1L372.4 120.8L373.9 119.7L375.9 118.6L377.9 117.8L379.9 117.2L382.4 116.7L384.9 116.4L387.9 116.2L390.4 116.2L392.9 116.4L395.4 116.8L397.4 117.3L398.9 117.8L400.4 118.5L401.9 119.6L402.9 120.5L403.9 121.6L404.9 123.2L406.3 126.2L407.0 128.7L407.6 131.7L407.9 134.7L408.1 138.2L408.3 145.2L408.4 150.7L408.1 160.2L407.8 166.2L407.4 170.7L406.8 175.2L406.2 178.7L405.6 181.2L404.9 183.1L404.0 184.7L402.9 185.8L401.9 186.3ZM311.9 188.3L310.4 188.4L308.4 188.2L306.4 187.6L304.4 186.7L300.9 184.8L296.4 182.1L293.7 180.2L291.4 178.4L289.9 176.9L288.9 175.7L287.9 174.2L286.8 172.2L286.3 170.7L285.7 168.7L285.3 166.7L285.0 164.2L285.0 161.7L285.1 158.7L285.4 156.2L285.8 154.2L286.4 152.4L287.1 150.7L288.0 149.2L289.4 147.5L290.8 146.2L292.4 145.1L294.4 143.9L296.9 142.8L300.4 141.4L303.4 140.4L306.4 139.7L308.9 139.4L310.4 139.3L311.9 139.5L313.2 139.7L314.4 140.1L316.4 141.3L317.5 142.2L318.4 143.2L320.0 145.7L320.7 147.2L321.5 149.2L322.5 153.2L323.0 157.2L322.9 161.7L322.3 167.2L320.9 173.7L319.3 179.2L318.4 181.5L317.6 183.2L316.9 184.4L315.9 185.7L314.9 186.7L313.9 187.5L312.9 188.0L311.9 188.3ZM397.4 165.4L396.9 165.5L395.9 165.6L394.9 165.3L393.9 164.8L391.4 162.8L387.4 158.7L383.9 154.4L380.9 150.2L378.4 145.9L376.8 142.2L376.0 139.2L375.7 136.2L376.0 133.2L376.6 130.7L377.6 128.7L378.3 127.7L379.2 126.7L380.4 125.7L381.2 125.2L383.4 124.3L386.4 123.6L389.4 123.5L392.8 123.7L395.4 124.4L397.4 125.4L399.1 126.7L400.4 128.3L400.9 129.2L401.6 130.7L402.0 132.2L402.4 134.2L402.7 138.2L402.6 144.7L402.0 150.7L401.1 157.2L400.1 161.2L399.4 163.0L398.9 163.9L398.2 164.7L397.4 165.4ZM300.9 401.8L299.4 402.0L297.4 402.1L295.9 402.0L293.9 401.5L291.9 400.9L289.4 399.9L286.9 398.6L284.4 397.2L281.4 395.0L278.9 392.6L276.7 389.7L274.2 385.2L272.3 380.7L270.9 376.0L268.6 365.7L268.2 363.2L268.1 360.7L268.2 358.7L268.5 357.2L269.1 355.2L269.9 353.7L270.9 352.2L271.9 351.0L273.4 349.7L274.7 348.7L276.9 347.2L278.9 346.1L281.9 344.7L284.4 343.6L287.4 342.6L296.4 339.9L306.4 336.7L309.9 335.6L312.4 334.6L315.9 332.9L323.9 328.0L327.9 326.1L330.9 325.1L334.9 323.9L337.9 323.1L340.9 322.5L347.9 321.7L352.9 321.3L356.4 321.2L361.4 321.3L370.9 322.2L374.9 322.2L378.9 321.8L385.9 320.6L388.9 320.1L391.4 320.0L394.4 320.0L399.4 320.5L401.4 321.0L403.4 321.6L404.9 322.4L406.4 323.4L407.4 324.3L408.5 325.7L409.9 328.2L411.1 331.2L412.0 334.7L412.5 338.2L413.1 349.2L413.2 354.7L413.2 360.7L412.8 371.2L412.6 375.2L412.1 378.7L411.5 381.7L410.8 384.2L409.7 386.7L408.4 389.0L406.9 390.8L405.4 392.2L403.9 393.1L402.4 393.8L400.9 394.2L399.4 394.5L397.4 394.6L395.9 394.5L394.4 394.3L392.9 393.9L390.9 393.1L388.9 392.1L384.4 389.4L379.8 386.2L373.9 381.3L371.4 379.4L368.9 377.8L365.9 376.2L360.4 373.9L357.9 373.1L355.9 372.6L353.9 372.2L351.9 372.1L347.4 372.2L344.9 372.5L342.4 373.0L339.9 373.6L337.9 374.3L335.4 375.4L332.9 376.6L327.9 379.4L325.3 381.2L322.4 383.6L309.4 396.1L306.9 398.4L305.4 399.6L303.9 400.5L302.4 401.3L300.9 401.8ZM273.9 477.7L271.4 477.9L269.4 477.6L267.4 477.0L265.9 476.2L264.4 474.9L262.9 473.2L262.1 471.7L261.5 469.7L261.3 467.7L261.5 465.7L262.2 463.7L263.0 462.2L264.4 460.5L266.0 459.2L267.9 458.1L269.9 457.6L271.9 457.4L273.9 457.5L275.9 458.1L277.9 459.0L279.9 460.6L281.3 462.2L282.1 463.7L282.8 465.7L283.0 467.7L282.9 469.7L282.2 471.7L281.3 473.2L279.9 474.7L278.0 476.2L275.9 477.2L273.9 477.7ZM399.4 382.7L398.4 383.0L396.9 383.1L395.4 382.8L393.9 382.1L392.4 381.0L390.9 379.7L389.1 377.7L387.2 375.2L385.5 372.7L384.1 370.2L382.8 367.7L381.7 365.2L380.8 362.7L380.1 360.2L379.6 357.7L379.4 355.2L379.6 351.7L379.8 350.2L380.3 348.2L381.6 345.2L382.5 343.7L383.6 342.2L384.9 340.7L386.8 338.7L389.1 336.7L391.2 335.2L392.9 334.1L394.4 333.4L395.9 333.0L397.4 332.8L399.4 332.9L400.4 333.2L401.2 333.7L401.9 334.2L402.9 335.1L403.9 336.7L404.9 339.2L405.4 341.7L406.2 346.7L406.5 351.2L406.6 356.7L406.3 365.2L406.0 369.7L405.4 373.2L404.3 376.7L403.7 378.2L402.9 379.6L401.4 381.5L400.4 382.2L399.4 382.7ZM361.4 356.2L359.4 356.4L357.4 356.3L354.9 355.9L351.9 355.2L347.9 354.2L343.1 352.7L338.7 351.2L336.3 350.2L334.9 349.4L333.9 348.7L333.4 348.2L332.7 347.2L332.4 346.2L332.2 345.2L332.3 344.2L332.8 342.7L333.7 341.2L334.5 340.2L335.5 339.2L336.8 338.2L338.4 337.3L339.7 336.7L342.9 335.7L346.9 334.9L348.9 334.8L350.4 334.8L352.4 335.0L353.9 335.3L355.4 335.7L357.4 336.5L359.4 337.6L361.0 338.7L362.8 340.2L364.3 341.7L365.5 343.2L366.5 344.7L367.1 346.2L367.5 347.7L367.7 349.2L367.6 350.7L367.1 352.2L366.6 353.2L365.8 354.2L364.5 355.2L362.9 355.9L361.4 356.2ZM401.9 595.1L400.4 595.2L398.9 594.8L397.5 594.1L396.1 593.1L394.1 591.1L390.4 586.2L388.4 584.0L385.4 581.3L382.3 579.1L379.9 577.8L377.4 576.7L366.9 573.1L364.4 572.1L361.4 570.7L356.9 568.3L353.4 566.2L351.4 564.7L349.9 563.1L348.9 561.7L348.1 560.1L347.4 558.1L346.9 556.1L346.3 553.1L345.8 549.6L345.5 546.6L345.4 543.6L345.6 537.1L345.8 534.6L346.2 532.6L346.7 531.1L347.4 529.6L348.4 528.2L349.4 527.2L350.9 526.3L352.9 525.6L355.4 525.1L358.4 524.7L364.9 524.3L369.4 524.1L374.4 524.1L381.4 524.3L384.9 524.6L387.9 524.9L390.9 525.4L393.4 526.0L395.4 526.7L396.9 527.5L398.4 528.6L399.4 529.6L400.4 531.3L401.2 533.6L401.7 536.6L402.1 541.1L402.2 545.1L402.2 548.6L401.3 560.6L401.3 563.1L401.5 565.6L402.2 569.1L403.2 572.6L404.3 575.6L406.4 580.8L407.0 582.6L407.4 584.2L407.6 586.1L407.6 587.6L407.3 589.1L406.8 590.6L406.1 592.1L405.4 593.1L404.3 594.1L403.4 594.6L401.9 595.1ZM268.9 612.7L267.9 612.7L267.4 612.4L266.4 611.4L265.4 609.7L264.5 607.1L263.9 603.6L262.8 594.6L262.4 590.6L262.4 587.1L262.7 583.6L263.4 578.9L264.9 570.8L265.9 567.1L266.8 565.1L267.9 563.7L268.8 563.1L269.4 562.8L270.9 562.6L271.9 562.7L272.9 563.1L274.4 564.1L275.9 565.8L276.7 567.1L277.4 568.6L278.5 572.1L279.3 576.1L279.7 580.1L279.8 584.1L279.4 588.1L278.6 592.1L277.4 596.3L275.4 602.0L273.4 606.7L271.9 609.6L270.4 611.7L269.4 612.5L268.9 612.7ZM274.9 708.2L273.4 708.4L271.9 708.4L270.4 708.2L268.9 707.7L267.4 706.9L266.4 706.1L265.4 704.9L264.7 703.6L264.3 702.1L264.4 700.6L264.7 699.1L265.3 697.6L266.3 696.1L267.3 695.1L268.4 694.3L269.9 693.6L271.4 693.3L272.9 693.2L274.4 693.4L276.2 694.1L277.8 695.1L278.9 696.1L280.1 697.6L280.8 699.1L281.2 700.6L281.2 702.1L280.8 703.6L280.3 704.6L279.4 705.7L277.9 706.9L276.4 707.7L274.9 708.2ZM593.5 73.3L590.5 73.5L587.5 73.2L585.0 72.5L582.4 71.2L580.3 69.7L579.4 68.7L578.7 67.7L578.2 66.7L577.9 65.7L577.7 63.7L577.9 62.2L578.4 60.7L579.0 59.2L579.8 57.7L581.6 55.2L584.0 52.9L586.5 51.2L589.0 50.1L592.0 49.4L593.5 49.2L595.0 49.3L597.5 49.7L599.5 50.4L601.5 51.5L602.9 52.7L603.9 54.2L604.8 56.2L605.3 58.2L605.4 60.7L605.0 63.2L604.3 65.2L603.3 67.2L601.8 69.2L600.0 70.8L598.0 72.0L596.0 72.7L593.5 73.3ZM527.0 74.8L525.0 74.9L522.5 74.8L520.0 74.5L517.0 73.8L513.5 72.9L510.2 71.7L507.6 70.7L505.1 69.3L503.4 68.2L502.2 67.2L501.3 66.2L500.3 64.7L499.8 63.2L499.7 61.7L500.0 60.2L500.4 59.2L501.6 57.7L503.1 56.6L505.4 55.2L508.0 54.2L511.4 53.2L515.5 52.3L518.5 51.9L521.5 51.8L524.5 52.0L528.0 52.6L532.5 53.7L536.0 54.7L538.5 55.8L541.1 57.2L543.1 58.7L544.6 60.2L545.3 61.2L545.8 62.2L546.1 63.7L546.1 64.7L545.8 65.7L545.2 66.7L544.5 67.7L543.0 69.1L540.5 70.7L538.5 71.7L536.5 72.4L531.5 73.9L527.0 74.8ZM464.6 99.3L463.1 99.6L462.1 99.6L461.1 99.4L460.1 99.1L459.1 98.6L458.1 97.8L456.6 96.1L455.3 93.7L454.1 90.1L452.9 85.2L452.5 81.7L452.6 78.2L453.1 74.7L454.1 71.2L455.6 67.9L457.1 65.6L458.6 64.1L459.6 63.4L460.6 62.9L461.6 62.6L462.6 62.5L464.6 62.7L465.6 63.0L467.1 63.6L469.4 65.2L471.4 67.2L472.9 69.2L474.1 71.7L474.8 74.2L475.2 77.2L475.2 80.7L474.7 84.7L473.8 88.2L472.4 91.7L471.0 94.2L470.1 95.6L469.1 96.7L467.1 98.3L466.1 98.8L464.6 99.3ZM595.5 62.7L594.5 63.0L593.5 62.9L593.0 62.8L592.0 62.2L591.3 61.2L591.0 60.2L591.1 59.2L591.3 58.7L592.0 57.7L593.0 57.1L594.0 56.8L594.5 56.7L595.5 57.0L596.1 57.2L596.7 57.7L597.4 58.7L597.5 59.2L597.5 60.2L597.2 61.2L596.5 62.1L595.5 62.7ZM473.1 304.7L469.6 305.0L467.1 305.0L464.6 304.7L462.1 304.1L460.1 303.3L458.3 302.2L456.7 300.7L455.6 299.2L454.7 297.2L454.3 295.2L454.3 293.2L454.7 291.2L455.5 289.2L456.9 287.2L458.3 285.7L460.1 284.3L462.1 283.3L464.1 282.6L466.6 282.1L469.6 281.8L481.1 281.3L491.6 281.3L500.6 281.1L505.1 281.2L508.8 281.7L512.5 282.4L517.0 283.4L520.0 284.5L522.0 285.4L523.9 286.7L525.2 288.2L525.9 289.7L526.0 291.2L525.4 292.7L524.2 294.2L522.9 295.2L521.3 296.2L518.5 297.4L515.2 298.7L511.1 300.0L507.6 300.8L504.1 301.4L489.6 302.5L473.1 304.7ZM589.0 296.7L585.5 296.8L582.5 296.6L579.5 295.9L577.0 294.9L575.4 293.7L574.9 293.2L574.3 292.2L574.0 291.3L574.0 290.7L574.1 289.7L574.5 288.7L575.0 288.0L575.9 287.2L577.5 286.1L580.0 285.2L583.5 284.4L587.0 284.1L590.0 284.1L592.9 284.7L595.0 285.5L596.0 286.2L597.0 287.1L598.0 288.7L598.3 289.7L598.4 290.7L598.2 291.7L597.8 292.7L597.0 293.6L596.5 294.2L595.5 294.8L594.5 295.4L592.0 296.2L589.0 296.7Z" fill="none" stroke="#000" stroke-width="0.9" stroke-linejoin="round"/>
<path d="M72.25 39.94V44.74M72.25 253.14V257.94M95.44 39.94V44.74M95.44 253.14V257.94M118.63 39.94V44.74M118.63 253.14V257.94M141.82 39.94V44.74M141.82 253.14V257.94M165.02 39.94V44.74M165.02 253.14V257.94M188.21 39.94V44.74M188.21 253.14V257.94M211.40 39.94V44.74M211.40 253.14V257.94M55.85 56.32H60.65M223.00 56.32H227.80M55.85 79.47H60.65M223.00 79.47H227.80M55.85 102.63H60.65M223.00 102.63H227.80M55.85 125.78H60.65M223.00 125.78H227.80M55.85 148.94H60.65M223.00 148.94H227.80M55.85 172.10H60.65M223.00 172.10H227.80M55.85 195.25H60.65M223.00 195.25H227.80M55.85 218.41H60.65M223.00 218.41H227.80M55.85 241.56H60.65M223.00 241.56H227.80M265.50 39.94V44.74M265.50 253.14V257.94M288.69 39.94V44.74M288.69 253.14V257.94M311.88 39.94V44.74M311.88 253.14V257.94M335.07 39.94V44.74M335.07 253.14V257.94M358.27 39.94V44.74M358.27 253.14V257.94M381.46 39.94V44.74M381.46 253.14V257.94M404.65 39.94V44.74M404.65 253.14V257.94M249.10 56.32H253.90M416.25 56.32H421.05M249.10 79.47H253.90M416.25 79.47H421.05M249.10 102.63H253.90M416.25 102.63H421.05M249.10 125.78H253.90M416.25 125.78H421.05M249.10 148.94H253.90M416.25 148.94H421.05M249.10 172.10H253.90M416.25 172.10H421.05M249.10 195.25H253.90M416.25 195.25H421.05M249.10 218.41H253.90M416.25 218.41H421.05M249.10 241.56H253.90M416.25 241.56H421.05M458.65 39.94V44.74M458.65 253.14V257.94M481.84 39.94V44.74M481.84 253.14V257.94M505.03 39.94V44.74M505.03 253.14V257.94M528.23 39.94V44.74M528.23 253.14V257.94M551.42 39.94V44.74M551.42 253.14V257.94M574.61 39.94V44.74M574.61 253.14V257.94M597.80 39.94V44.74M597.80 253.14V257.94M442.25 56.32H447.05M609.40 56.32H614.20M442.25 79.47H447.05M609.40 79.47H614.20M442.25 102.63H447.05M609.40 102.63H614.20M442.25 125.78H447.05M609.40 125.78H614.20M442.25 148.94H447.05M609.40 148.94H614.20M442.25 172.10H447.05M609.40 172.10H614.20M442.25 195.25H447.05M609.40 195.25H614.20M442.25 218.41H447.05M609.40 218.41H614.20M442.25 241.56H447.05M609.40 241.56H614.20M72.25 271.86V276.66M72.25 485.06V489.86M95.44 271.86V276.66M95.44 485.06V489.86M118.63 271.86V276.66M118.63 485.06V489.86M141.82 271.86V276.66M141.82 485.06V489.86M165.02 271.86V276.66M165.02 485.06V489.86M188.21 271.86V276.66M188.21 485.06V489.86M211.40 271.86V276.66M211.40 485.06V489.86M55.85 288.24H60.65M223.00 288.24H227.80M55.85 311.39H60.65M223.00 311.39H227.80M55.85 334.55H60.65M223.00 334.55H227.80M55.85 357.70H60.65M223.00 357.70H227.80M55.85 380.86H60.65M223.00 380.86H227.80M55.85 404.02H60.65M223.00 404.02H227.80M55.85 427.17H60.65M223.00 427.17H227.80M55.85 450.33H60.65M223.00 450.33H227.80M55.85 473.48H60.65M223.00 473.48H227.80M265.50 271.86V276.66M265.50 485.06V489.86M288.69 271.86V276.66M288.69 485.06V489.86M311.88 271.86V276.66M311.88 485.06V489.86M335.07 271.86V276.66M335.07 485.06V489.86M358.27 271.86V276.66M358.27 485.06V489.86M381.46 271.86V276.66M381.46 485.06V489.86M404.65 271.86V276.66M404.65 485.06V489.86M249.10 288.24H253.90M416.25 288.24H421.05M249.10 311.39H253.90M416.25 311.39H421.05M249.10 334.55H253.90M416.25 334.55H421.05M249.10 357.70H253.90M416.25 357.70H421.05M249.10 380.86H253.90M416.25 380.86H421.05M249.10 404.02H253.90M416.25 404.02H421.05M249.10 427.17H253.90M416.25 427.17H421.05M249.10 450.33H253.90M416.25 450.33H421.05M249.10 473.48H253.90M416.25 473.48H421.05M458.65 271.86V276.66M458.65 485.06V489.86M481.84 271.86V276.66M481.84 485.06V489.86M505.03 271.86V276.66M505.03 485.06V489.86M528.23 271.86V276.66M528.23 485.06V489.86M551.42 271.86V276.66M551.42 485.06V489.86M574.61 271.86V276.66M574.61 485.06V489.86M597.80 271.86V276.66M597.80 485.06V489.86M442.25 288.24H447.05M609.40 288.24H614.20M442.25 311.39H447.05M609.40 311.39H614.20M442.25 334.55H447.05M609.40 334.55H614.20M442.25 357.70H447.05M609.40 357.70H614.20M442.25 380.86H447.05M609.40 380.86H614.20M442.25 404.02H447.05M609.40 404.02H614.20M442.25 427.17H447.05M609.40 427.17H614.20M442.25 450.33H447.05M609.40 450.33H614.20M442.25 473.48H447.05M609.40 473.48H614.20M72.25 503.80V508.60M72.25 717.00V721.80M95.44 503.80V508.60M95.44 717.00V721.80M118.63 503.80V508.60M118.63 717.00V721.80M141.82 503.80V508.60M141.82 717.00V721.80M165.02 503.80V508.60M165.02 717.00V721.80M188.21 503.80V508.60M188.21 717.00V721.80M211.40 503.80V508.60M211.40 717.00V721.80M55.85 520.18H60.65M223.00 520.18H227.80M55.85 543.33H60.65M223.00 543.33H227.80M55.85 566.49H60.65M223.00 566.49H227.80M55.85 589.64H60.65M223.00 589.64H227.80M55.85 612.80H60.65M223.00 612.80H227.80M55.85 635.96H60.65M223.00 635.96H227.80M55.85 659.11H60.65M223.00 659.11H227.80M55.85 682.27H60.65M223.00 682.27H227.80M55.85 705.42H60.65M223.00 705.42H227.80M265.50 503.80V508.60M265.50 717.00V721.80M288.69 503.80V508.60M288.69 717.00V721.80M311.88 503.80V508.60M311.88 717.00V721.80M335.07 503.80V508.60M335.07 717.00V721.80M358.27 503.80V508.60M358.27 717.00V721.80M381.46 503.80V508.60M381.46 717.00V721.80M404.65 503.80V508.60M404.65 717.00V721.80M249.10 520.18H253.90M416.25 520.18H421.05M249.10 543.33H253.90M416.25 543.33H421.05M249.10 566.49H253.90M416.25 566.49H421.05M249.10 589.64H253.90M416.25 589.64H421.05M249.10 612.80H253.90M416.25 612.80H421.05M249.10 635.96H253.90M416.25 635.96H421.05M249.10 659.11H253.90M416.25 659.11H421.05M249.10 682.27H253.90M416.25 682.27H421.05M249.10 705.42H253.90M416.25 705.42H421.05M458.65 503.80V508.60M458.65 717.00V721.80M481.84 503.80V508.60M481.84 717.00V721.80M505.03 503.80V508.60M505.03 717.00V721.80M528.23 503.80V508.60M528.23 717.00V721.80M551.42 503.80V508.60M551.42 717.00V721.80M574.61 503.80V508.60M574.61 717.00V721.80M597.80 503.80V508.60M597.80 717.00V721.80M442.25 520.18H447.05M609.40 520.18H614.20M442.25 543.33H447.05M609.40 543.33H614.20M442.25 566.49H447.05M609.40 566.49H614.20M442.25 589.64H447.05M609.40 589.64H614.20M442.25 612.80H447.05M609.40 612.80H614.20M442.25 635.96H447.05M609.40 635.96H614.20M442.25 659.11H447.05M609.40 659.11H614.20M442.25 682.27H447.05M609.40 682.27H614.20M442.25 705.42H447.05M609.40 705.42H614.20" stroke="#000" stroke-width="1" fill="none"/>
<path d="M165.02,186.00 L167.16,192.60 L174.10,192.60 L168.49,196.68 L170.63,203.28 L165.02,199.20 L159.40,203.28 L161.55,196.68 L155.94,192.60 L162.87,192.60Z" fill="none" stroke="#000" stroke-width="2.3" stroke-linejoin="miter" stroke-miterlimit="10"/>
<path d="M358.27,186.00 L360.41,192.60 L367.35,192.60 L361.74,196.68 L363.88,203.28 L358.27,199.20 L352.65,203.28 L354.80,196.68 L349.19,192.60 L356.12,192.60Z" fill="none" stroke="#000" stroke-width="2.3" stroke-linejoin="miter" stroke-miterlimit="10"/>
<path d="M551.42,186.00 L553.56,192.60 L560.50,192.60 L554.89,196.68 L557.03,203.28 L551.42,199.20 L545.80,203.28 L547.95,196.68 L542.34,192.60 L549.27,192.60Z" fill="none" stroke="#000" stroke-width="2.3" stroke-linejoin="miter" stroke-miterlimit="10"/>
<path d="M165.02,417.92 L167.16,424.52 L174.10,424.52 L168.49,428.60 L170.63,435.20 L165.02,431.12 L159.40,435.20 L161.55,428.60 L155.94,424.52 L162.87,424.52Z" fill="none" stroke="#000" stroke-width="2.3" stroke-linejoin="miter" stroke-miterlimit="10"/>
<path d="M358.27,417.92 L360.41,424.52 L367.35,424.52 L361.74,428.60 L363.88,435.20 L358.27,431.12 L352.65,435.20 L354.80,428.60 L349.19,424.52 L356.12,424.52Z" fill="none" stroke="#000" stroke-width="2.3" stroke-linejoin="miter" stroke-miterlimit="10"/>
<path d="M551.42,417.92 L553.56,424.52 L560.50,424.52 L554.89,428.60 L557.03,435.20 L551.42,431.12 L545.80,435.20 L547.95,428.60 L542.34,424.52 L549.27,424.52Z" fill="none" stroke="#000" stroke-width="2.3" stroke-linejoin="miter" stroke-miterlimit="10"/>
<path d="M165.02,649.86 L167.16,656.46 L174.10,656.46 L168.49,660.54 L170.63,667.14 L165.02,663.06 L159.40,667.14 L161.55,660.54 L155.94,656.46 L162.87,656.46Z" fill="none" stroke="#000" stroke-width="2.3" stroke-linejoin="miter" stroke-miterlimit="10"/>
<path d="M358.27,649.86 L360.41,656.46 L367.35,656.46 L361.74,660.54 L363.88,667.14 L358.27,663.06 L352.65,667.14 L354.80,660.54 L349.19,656.46 L356.12,656.46Z" fill="none" stroke="#000" stroke-width="2.3" stroke-linejoin="miter" stroke-miterlimit="10"/>
<path d="M551.42,649.86 L553.56,656.46 L560.50,656.46 L554.89,660.54 L557.03,667.14 L551.42,663.06 L545.80,667.14 L547.95,660.54 L542.34,656.46 L549.27,656.46Z" fill="none" stroke="#000" stroke-width="2.3" stroke-linejoin="miter" stroke-miterlimit="10"/>
<path d="M60.65 44.74h162.35v208.40h-162.35ZM253.90 44.74h162.35v208.40h-162.35ZM447.05 44.74h162.35v208.40h-162.35ZM60.65 276.66h162.35v208.40h-162.35ZM253.90 276.66h162.35v208.40h-162.35ZM447.05 276.66h162.35v208.40h-162.35ZM60.65 508.60h162.35v208.40h-162.35ZM253.90 508.60h162.35v208.40h-162.35ZM447.05 508.60h162.35v208.40h-162.35Z" stroke="#000" stroke-width="2" fill="none" stroke-linejoin="miter"/>
<g font-size="17" text-anchor="middle" fill="#000">
<text x="72.25" y="37" ><tspan dy="2">−</tspan><tspan dy="-2">8</tspan></text>
<text x="95.44" y="37" ><tspan dy="2">−</tspan><tspan dy="-2">6</tspan></text>
<text x="118.63" y="37" ><tspan dy="2">−</tspan><tspan dy="-2">4</tspan></text>
<text x="141.82" y="37" ><tspan dy="2">−</tspan><tspan dy="-2">2</tspan></text>
<text x="165.02" y="37" >0</text>
<text x="188.21" y="37" >2</text>
<text x="211.40" y="37" >4</text>
</g>
<g font-size="17" text-anchor="end" fill="#000">
<text x="52.6" y="62.42"><tspan dy="2">−</tspan><tspan dy="-2" dx="-0.8">12</tspan></text>
<text x="52.6" y="85.57"><tspan dy="2">−</tspan><tspan dy="-2" dx="-0.8">10</tspan></text>
<text x="52.6" y="108.73"><tspan dy="2">−</tspan><tspan dy="-2">8</tspan></text>
<text x="52.6" y="131.88"><tspan dy="2">−</tspan><tspan dy="-2">6</tspan></text>
<text x="52.6" y="155.04"><tspan dy="2">−</tspan><tspan dy="-2">4</tspan></text>
<text x="52.6" y="178.20"><tspan dy="2">−</tspan><tspan dy="-2">2</tspan></text>
<text x="52.6" y="201.35">0</text>
<text x="52.6" y="224.51">2</text>
<text x="52.6" y="247.66">4</text>
</g>
<text x="141.82" y="17.7" font-size="21.9" text-anchor="middle">Along Strike (km)</text>
<text transform="translate(17.8 148.94) rotate(-90)" font-size="21.9" text-anchor="middle">Along dip (km)</text>
<text x="211.40" y="241.84" font-size="19.3" text-anchor="end">0 ~ 1 s</text>
<text x="404.65" y="241.84" font-size="19.3" text-anchor="end">3 ~ 4 s</text>
<text x="597.80" y="241.84" font-size="19.3" text-anchor="end">6 ~ 7 s</text>
<text x="211.40" y="473.76" font-size="19.3" text-anchor="end">1 ~ 2 s</text>
<text x="404.65" y="473.76" font-size="19.3" text-anchor="end">4 ~ 5 s</text>
<text x="597.80" y="473.76" font-size="19.3" text-anchor="end">7 ~ 8 s</text>
<text x="211.40" y="705.70" font-size="19.3" text-anchor="end">2 ~ 3 s</text>
<text x="404.65" y="705.70" font-size="19.3" text-anchor="end">5 ~ 6 s</text>
<text x="597.80" y="705.70" font-size="19.3" text-anchor="end">8 ~ 9 s</text>
<defs><linearGradient id="cbg" x1="0" y1="0" x2="0" y2="1"><stop offset="0.000" stop-color="rgb(0,0,0)"/><stop offset="0.020" stop-color="rgb(14,0,0)"/><stop offset="0.040" stop-color="rgb(27,0,0)"/><stop offset="0.060" stop-color="rgb(41,0,0)"/><stop offset="0.080" stop-color="rgb(54,0,0)"/><stop offset="0.100" stop-color="rgb(68,0,0)"/><stop offset="0.120" stop-color="rgb(82,0,0)"/><stop offset="0.140" stop-color="rgb(95,0,0)"/><stop offset="0.160" stop-color="rgb(109,0,0)"/><stop offset="0.180" stop-color="rgb(122,0,0)"/><stop offset="0.200" stop-color="rgb(136,0,0)"/><stop offset="0.220" stop-color="rgb(148,2,0)"/><stop offset="0.240" stop-color="rgb(160,3,0)"/><stop offset="0.260" stop-color="rgb(172,5,0)"/><stop offset="0.280" stop-color="rgb(184,7,0)"/><stop offset="0.300" stop-color="rgb(195,9,0)"/><stop offset="0.320" stop-color="rgb(207,10,0)"/><stop offset="0.340" stop-color="rgb(219,12,0)"/><stop offset="0.360" stop-color="rgb(231,14,0)"/><stop offset="0.380" stop-color="rgb(243,15,0)"/><stop offset="0.400" stop-color="rgb(255,17,0)"/><stop offset="0.420" stop-color="rgb(255,31,0)"/><stop offset="0.440" stop-color="rgb(255,44,0)"/><stop offset="0.460" stop-color="rgb(255,58,0)"/><stop offset="0.480" stop-color="rgb(255,71,0)"/><stop offset="0.500" stop-color="rgb(255,85,0)"/><stop offset="0.520" stop-color="rgb(255,99,0)"/><stop offset="0.540" stop-color="rgb(255,112,0)"/><stop offset="0.560" stop-color="rgb(255,126,0)"/><stop offset="0.580" stop-color="rgb(255,139,0)"/><stop offset="0.600" stop-color="rgb(255,153,0)"/><stop offset="0.620" stop-color="rgb(255,163,5)"/><stop offset="0.640" stop-color="rgb(255,173,10)"/><stop offset="0.660" stop-color="rgb(255,184,15)"/><stop offset="0.680" stop-color="rgb(255,194,20)"/><stop offset="0.700" stop-color="rgb(255,204,26)"/><stop offset="0.720" stop-color="rgb(255,214,31)"/><stop offset="0.740" stop-color="rgb(255,224,36)"/><stop offset="0.760" stop-color="rgb(255,235,41)"/><stop offset="0.780" stop-color="rgb(255,245,46)"/><stop offset="0.800" stop-color="rgb(255,255,51)"/><stop offset="0.820" stop-color="rgb(255,255,71)"/><stop offset="0.840" stop-color="rgb(255,255,92)"/><stop offset="0.860" stop-color="rgb(255,255,112)"/><stop offset="0.880" stop-color="rgb(255,255,133)"/><stop offset="0.900" stop-color="rgb(255,255,153)"/><stop offset="0.920" stop-color="rgb(255,255,173)"/><stop offset="0.940" stop-color="rgb(255,255,194)"/><stop offset="0.960" stop-color="rgb(255,255,214)"/><stop offset="0.980" stop-color="rgb(255,255,235)"/><stop offset="1.000" stop-color="rgb(255,255,255)"/></linearGradient></defs>
<rect x="628.7" y="524.15" width="19.50" height="193.00" fill="url(#cbg)" stroke="#222" stroke-width="1.2"/>
<path d="M648.20 717.15H651.70M628.70 678.55H648.20M648.20 678.55H651.70M628.70 639.95H648.20M648.20 639.95H651.70M628.70 601.35H648.20M648.20 601.35H651.70M628.70 562.75H648.20M648.20 562.75H651.70M648.20 524.15H651.70" stroke="#222" stroke-width="0.8" fill="none"/>
<text transform="translate(653.5 721.00) scale(1 1.17)" font-size="9.1">0.0</text>
<text transform="translate(653.5 682.40) scale(1 1.17)" font-size="9.1">0.1</text>
<text transform="translate(653.5 643.80) scale(1 1.17)" font-size="9.1">0.2</text>
<text transform="translate(653.5 605.20) scale(1 1.17)" font-size="9.1">0.3</text>
<text transform="translate(653.5 566.60) scale(1 1.17)" font-size="9.1">0.4</text>
<text transform="translate(653.5 528.00) scale(1 1.17)" font-size="9.1">0.5</text>
<text transform="translate(679.6 620.4) scale(1 1.06) rotate(-90)" font-size="11.8" text-anchor="middle">Slip (m)</text>
</svg></body></html>
